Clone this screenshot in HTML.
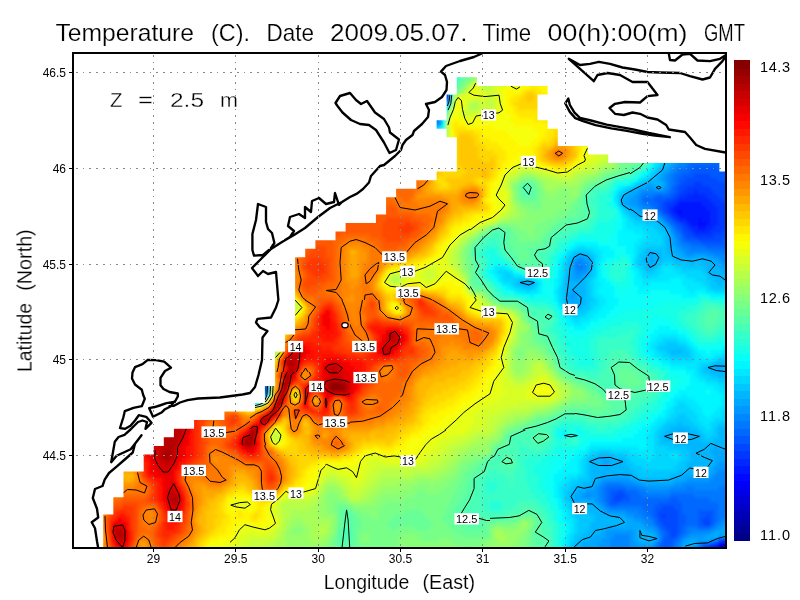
<!DOCTYPE html>
<html><head><meta charset="utf-8"><title>Temperature</title>
<style>
html,body{margin:0;padding:0;background:#fff;}
body{width:800px;height:600px;overflow:hidden;font-family:"Liberation Sans",sans-serif;}
svg{display:block}
text{font-family:"Liberation Sans",sans-serif;fill:#000}
</style></head><body>
<svg width="800" height="600" viewBox="0 0 800 600">
<rect width="800" height="600" fill="#fff"/>
<defs><clipPath id="sea"><path d="M103.2 548.0 L103.2 514.4 L113.3 514.4 L113.3 497.3 L123.5 497.3 L123.5 471.6 L143.7 471.6 L143.7 454.4 L153.8 454.4 L153.8 445.9 L163.8 445.9 L163.8 437.3 L173.9 437.3 L173.9 428.7 L194.1 428.7 L194.1 420.1 L224.4 420.1 L224.4 411.6 L254.8 411.6 L254.8 403.0 L264.9 403.0 L264.9 385.9 L274.9 385.9 L274.9 351.6 L285.0 351.6 L285.0 334.4 L295.1 334.4 L295.1 257.3 L305.2 257.3 L305.2 248.7 L315.4 248.7 L315.4 240.2 L335.5 240.2 L335.5 231.6 L345.6 231.6 L345.6 223.0 L375.9 223.0 L375.9 214.5 L386.1 214.5 L386.1 197.3 L396.1 197.3 L396.1 188.8 L416.3 188.8 L416.3 180.2 L436.6 180.2 L436.6 171.6 L456.8 171.6 L456.8 137.3 L446.6 137.3 L446.6 128.8 L436.6 128.8 L436.6 120.2 L446.6 120.2 L446.6 94.5 L456.8 94.5 L456.8 77.3 L476.9 77.3 L476.9 85.9 L547.6 85.9 L547.6 94.5 L537.5 94.5 L537.5 120.2 L547.6 120.2 L547.6 128.8 L557.8 128.8 L557.8 145.9 L588.0 145.9 L588.0 154.5 L608.2 154.5 L608.2 163.0 L719.4 163.0 L719.4 171.6 L728.0 171.6 L728.0 548.0Z"/></clipPath>
<clipPath id="o0"><rect x="73" y="400" width="177" height="45"/><rect x="73" y="445" width="157" height="103"/></clipPath><clipPath id="o1"><rect x="230" y="445" width="95" height="103"/></clipPath><clipPath id="o2"><rect x="350" y="300" width="50" height="145"/><rect x="73" y="300" width="177" height="100"/></clipPath><clipPath id="o3"><rect x="250" y="300" width="100" height="72"/></clipPath><clipPath id="o4"><rect x="250" y="372" width="100" height="73"/></clipPath><clipPath id="o5"><rect x="73" y="170" width="397" height="130"/><rect x="470" y="188" width="10" height="14"/></clipPath><clipPath id="o6"><rect x="325" y="445" width="75" height="103"/><rect x="400" y="430" width="90" height="118"/></clipPath><clipPath id="o7"><rect x="400" y="300" width="70" height="130"/><rect x="470" y="297" width="105" height="133"/></clipPath><clipPath id="o8"><rect x="73" y="52" width="397" height="118"/><rect x="470" y="52" width="258" height="108"/></clipPath><clipPath id="o9"><rect x="470" y="160" width="160" height="28"/><rect x="480" y="188" width="150" height="14"/><rect x="470" y="202" width="160" height="95"/></clipPath><clipPath id="o10"><rect x="490" y="430" width="238" height="118"/></clipPath><clipPath id="o11"><rect x="575" y="297" width="153" height="133"/></clipPath><clipPath id="o12"><rect x="630" y="160" width="98" height="137"/></clipPath><filter id="bl" x="-5%" y="-5%" width="110%" height="110%"><feGaussianBlur stdDeviation="1.6"/></filter>
<clipPath id="frame"><rect x="73" y="53" width="653" height="495"/></clipPath></defs>
<g clip-path="url(#frame)">
<g clip-path="url(#sea)"><g filter="url(#bl)">
<path fill="#000087" d="M254 386h12v4h-12zM254 390h8v4h-8z"/>
<path fill="#000097" d="M254 382h8v4h-8z"/>
<path fill="#0000a7" d="M218 330h4v4h-4zM250 386h4v4h-4zM262 390h4v4h-4z"/>
<path fill="#0000b7" d="M210 326h4v4h-4zM222 334h4v4h-4zM250 382h4v4h-4zM250 390h4v4h-4z"/>
<path fill="#0000c7" d="M214 326h4v4h-4zM222 330h4v4h-4zM226 334h4v4h-4zM262 382h4v4h-4zM258 394h4v4h-4z"/>
<path fill="#0000d7" d="M406 90h12v4h-12zM210 322h4v4h-4zM230 338h4v4h-4zM250 378h8v4h-8zM246 382h4v4h-4zM246 386h4v4h-4zM254 394h4v4h-4zM722 546h4v4h-4zM718 550h8v4h-8zM714 554h12v4h-12zM714 558h16v4h-16z"/>
<path fill="#0000e7" d="M334 46h36v4h-36zM338 50h40v4h-40zM342 54h40v4h-40zM350 58h40v4h-40zM354 62h40v4h-40zM358 66h44v4h-44zM362 70h44v4h-44zM370 74h44v4h-44zM374 78h44v4h-44zM378 82h44v4h-44zM382 86h48v4h-48zM390 90h16v4h-16zM418 90h16v4h-16zM394 94h48v4h-48zM402 98h32v4h-32zM406 102h16v4h-16zM214 322h4v4h-4zM218 326h4v4h-4zM242 370h8v4h-8zM242 374h4v4h-4zM250 374h4v4h-4zM246 378h4v4h-4zM722 542h4v4h-4zM706 546h4v4h-4zM718 546h4v4h-4zM706 550h12v4h-12zM726 550h4v4h-4zM710 554h4v4h-4zM726 554h8v4h-8zM710 558h4v4h-4zM730 558h8v4h-8z"/>
<path fill="#0000f7" d="M370 46h28v4h-28zM378 50h20v4h-20zM382 54h24v4h-24zM390 58h20v4h-20zM394 62h16v4h-16zM402 66h12v4h-12zM406 70h12v4h-12zM414 74h8v4h-8zM418 78h8v4h-8zM422 82h8v4h-8zM430 86h4v4h-4zM434 90h4v4h-4zM442 94h4v4h-4zM434 98h4v4h-4zM422 102h12v4h-12zM414 106h12v4h-12zM198 314h4v4h-4zM202 318h4v4h-4zM222 326h4v4h-4zM230 334h4v4h-4zM226 338h4v4h-4zM230 342h8v4h-8zM234 346h8v4h-8zM238 350h4v4h-4zM230 362h8v4h-8zM234 366h8v4h-8zM238 370h4v4h-4zM246 374h4v4h-4zM254 374h4v4h-4zM258 378h4v4h-4zM262 394h4v4h-4zM718 542h4v4h-4zM710 546h8v4h-8zM726 546h4v4h-4zM730 550h4v4h-4zM706 554h4v4h-4zM734 554h4v4h-4zM706 558h4v4h-4z"/>
<path fill="#0008ff" d="M398 46h8v4h-8zM398 50h12v4h-12zM406 54h4v4h-4zM410 58h4v4h-4zM410 62h8v4h-8zM414 66h8v4h-8zM418 70h4v4h-4zM422 74h4v4h-4zM426 78h4v4h-4zM430 82h4v4h-4zM434 86h4v4h-4zM438 90h4v4h-4zM446 94h4v4h-4zM438 98h4v4h-4zM434 102h4v4h-4zM426 106h4v4h-4zM418 110h8v4h-8zM678 210h4v4h-4zM698 218h4v4h-4zM698 222h8v4h-8zM190 306h4v4h-4zM194 310h4v4h-4zM202 314h4v4h-4zM206 318h4v4h-4zM218 322h4v4h-4zM226 330h4v4h-4zM234 338h4v4h-4zM242 354h4v4h-4zM230 358h4v4h-4zM238 362h4v4h-4zM246 362h8v4h-8zM242 366h8v4h-8zM250 370h4v4h-4zM250 394h4v4h-4zM726 542h4v4h-4zM730 546h4v4h-4zM734 550h4v4h-4zM702 554h4v4h-4zM702 558h4v4h-4z"/>
<path fill="#0018ff" d="M406 46h8v4h-8zM410 50h4v4h-4zM410 54h8v4h-8zM414 58h4v4h-4zM418 62h4v4h-4zM422 66h4v4h-4zM422 70h4v4h-4zM426 74h4v4h-4zM430 78h4v4h-4zM434 82h4v4h-4zM442 98h4v4h-4zM430 106h4v4h-4zM426 110h4v4h-4zM678 202h24v4h-24zM674 206h32v4h-32zM674 210h4v4h-4zM682 210h28v4h-28zM678 214h32v4h-32zM686 218h12v4h-12zM702 218h8v4h-8zM690 222h8v4h-8zM706 222h4v4h-4zM698 226h8v4h-8zM186 298h4v4h-4zM194 306h4v4h-4zM198 310h8v4h-8zM206 314h4v4h-4zM210 318h4v4h-4zM222 322h4v4h-4zM226 326h4v4h-4zM230 330h4v4h-4zM234 334h4v4h-4zM222 350h4v4h-4zM242 350h4v4h-4zM226 354h4v4h-4zM246 354h4v4h-4zM238 358h4v4h-4zM246 358h4v4h-4zM242 362h4v4h-4zM250 366h4v4h-4zM254 370h4v4h-4zM246 390h4v4h-4zM734 546h4v4h-4zM702 550h4v4h-4z"/>
<path fill="#0028ff" d="M414 46h4v4h-4zM414 50h8v4h-8zM418 54h4v4h-4zM418 58h8v4h-8zM422 62h4v4h-4zM426 66h4v4h-4zM426 70h4v4h-4zM430 74h4v4h-4zM370 78h4v4h-4zM374 82h4v4h-4zM438 86h4v4h-4zM382 90h8v4h-8zM442 90h4v4h-4zM390 94h4v4h-4zM394 98h8v4h-8zM398 102h8v4h-8zM438 102h4v4h-4zM406 106h8v4h-8zM430 110h4v4h-4zM422 114h8v4h-8zM694 190h4v4h-4zM686 194h20v4h-20zM678 198h32v4h-32zM674 202h4v4h-4zM702 202h12v4h-12zM670 206h4v4h-4zM706 206h12v4h-12zM670 210h4v4h-4zM710 210h8v4h-8zM674 214h4v4h-4zM710 214h8v4h-8zM678 218h8v4h-8zM710 218h8v4h-8zM686 222h4v4h-4zM710 222h8v4h-8zM690 226h8v4h-8zM706 226h8v4h-8zM694 230h16v4h-16zM190 298h4v4h-4zM190 302h8v4h-8zM198 306h8v4h-8zM206 310h4v4h-4zM210 314h4v4h-4zM206 326h4v4h-4zM238 334h4v4h-4zM238 338h4v4h-4zM238 342h4v4h-4zM242 346h4v4h-4zM226 350h4v4h-4zM230 354h8v4h-8zM234 358h4v4h-4zM250 358h4v4h-4zM254 366h4v4h-4zM258 374h4v4h-4zM730 542h8v4h-8zM702 546h4v4h-4zM698 554h4v4h-4zM698 558h4v4h-4z"/>
<path fill="#0038ff" d="M418 46h4v4h-4zM422 50h4v4h-4zM422 54h4v4h-4zM346 58h4v4h-4zM426 58h4v4h-4zM346 62h8v4h-8zM426 62h4v4h-4zM350 66h8v4h-8zM354 70h8v4h-8zM430 70h4v4h-4zM358 74h12v4h-12zM362 78h8v4h-8zM434 78h4v4h-4zM366 82h8v4h-8zM438 82h4v4h-4zM370 86h12v4h-12zM374 90h8v4h-8zM378 94h12v4h-12zM386 98h8v4h-8zM390 102h8v4h-8zM398 106h8v4h-8zM434 106h4v4h-4zM410 110h8v4h-8zM694 182h8v4h-8zM686 186h24v4h-24zM682 190h12v4h-12zM698 190h16v4h-16zM678 194h8v4h-8zM706 194h12v4h-12zM674 198h4v4h-4zM710 198h12v4h-12zM666 202h8v4h-8zM714 202h12v4h-12zM666 206h4v4h-4zM718 206h12v4h-12zM666 210h4v4h-4zM718 210h12v4h-12zM670 214h4v4h-4zM718 214h12v4h-12zM674 218h4v4h-4zM718 218h12v4h-12zM682 222h4v4h-4zM718 222h8v4h-8zM686 226h4v4h-4zM714 226h12v4h-12zM690 230h4v4h-4zM710 230h12v4h-12zM694 234h20v4h-20zM178 290h4v4h-4zM182 294h4v4h-4zM198 302h4v4h-4zM206 306h4v4h-4zM210 310h4v4h-4zM214 318h8v4h-8zM230 326h4v4h-4zM210 330h8v4h-8zM234 330h4v4h-4zM218 334h4v4h-4zM242 358h4v4h-4zM662 514h4v4h-4zM706 522h4v4h-4zM722 538h4v4h-4zM714 542h4v4h-4zM698 550h4v4h-4zM694 558h4v4h-4z"/>
<path fill="#0048ff" d="M422 46h4v4h-4zM426 50h4v4h-4zM426 54h4v4h-4zM430 62h4v4h-4zM430 66h4v4h-4zM434 70h4v4h-4zM434 74h4v4h-4zM362 82h4v4h-4zM366 86h4v4h-4zM442 86h4v4h-4zM370 90h4v4h-4zM382 98h4v4h-4zM386 102h4v4h-4zM394 106h4v4h-4zM406 110h4v4h-4zM434 110h4v4h-4zM418 114h4v4h-4zM430 114h4v4h-4zM694 174h16v4h-16zM686 178h32v4h-32zM682 182h12v4h-12zM702 182h24v4h-24zM678 186h8v4h-8zM710 186h24v4h-24zM678 190h4v4h-4zM714 190h24v4h-24zM674 194h4v4h-4zM718 194h20v4h-20zM666 198h8v4h-8zM722 198h16v4h-16zM662 202h4v4h-4zM726 202h12v4h-12zM662 206h4v4h-4zM730 206h8v4h-8zM662 210h4v4h-4zM730 210h8v4h-8zM730 214h8v4h-8zM730 218h8v4h-8zM678 222h4v4h-4zM726 222h12v4h-12zM682 226h4v4h-4zM726 226h8v4h-8zM682 230h8v4h-8zM722 230h12v4h-12zM686 234h8v4h-8zM714 234h12v4h-12zM698 238h24v4h-24zM174 286h4v4h-4zM214 314h4v4h-4zM226 322h4v4h-4zM242 338h4v4h-4zM218 342h12v4h-12zM242 342h4v4h-4zM222 346h4v4h-4zM230 350h8v4h-8zM246 350h4v4h-4zM238 354h4v4h-4zM254 362h4v4h-4zM258 370h4v4h-4zM262 378h4v4h-4zM242 382h4v4h-4zM618 490h4v4h-4zM614 494h12v4h-12zM614 498h8v4h-8zM662 506h12v4h-12zM658 510h20v4h-20zM658 514h4v4h-4zM666 514h12v4h-12zM706 514h4v4h-4zM658 518h20v4h-20zM702 518h8v4h-8zM662 522h16v4h-16zM702 522h4v4h-4zM666 526h12v4h-12zM670 530h8v4h-8zM670 534h8v4h-8zM718 538h4v4h-4zM726 538h12v4h-12zM710 542h4v4h-4zM694 554h4v4h-4z"/>
<path fill="#0058ff" d="M426 46h4v4h-4zM430 50h4v4h-4zM430 54h4v4h-4zM430 58h4v4h-4zM434 66h4v4h-4zM438 78h4v4h-4zM374 94h4v4h-4zM378 98h4v4h-4zM442 102h4v4h-4zM390 106h4v4h-4zM438 106h4v4h-4zM398 110h8v4h-8zM410 114h8v4h-8zM430 118h4v4h-4zM694 166h24v4h-24zM690 170h48v4h-48zM682 174h12v4h-12zM710 174h28v4h-28zM678 178h8v4h-8zM718 178h20v4h-20zM678 182h4v4h-4zM726 182h12v4h-12zM674 186h4v4h-4zM734 186h4v4h-4zM674 190h4v4h-4zM658 194h4v4h-4zM670 194h4v4h-4zM654 198h12v4h-12zM658 202h4v4h-4zM658 206h4v4h-4zM666 214h4v4h-4zM670 218h4v4h-4zM674 222h4v4h-4zM678 226h4v4h-4zM734 226h4v4h-4zM734 230h4v4h-4zM682 234h4v4h-4zM726 234h12v4h-12zM686 238h12v4h-12zM722 238h12v4h-12zM702 242h24v4h-24zM162 274h4v4h-4zM166 278h4v4h-4zM170 282h8v4h-8zM178 286h4v4h-4zM182 290h4v4h-4zM186 294h4v4h-4zM194 298h4v4h-4zM202 302h4v4h-4zM210 306h4v4h-4zM214 310h4v4h-4zM218 314h4v4h-4zM222 318h4v4h-4zM202 322h8v4h-8zM234 326h4v4h-4zM238 330h4v4h-4zM214 334h4v4h-4zM242 334h4v4h-4zM214 338h12v4h-12zM226 346h8v4h-8zM246 346h4v4h-4zM250 354h4v4h-4zM242 378h4v4h-4zM242 386h4v4h-4zM242 390h4v4h-4zM610 490h8v4h-8zM622 490h4v4h-4zM610 494h4v4h-4zM626 494h4v4h-4zM610 498h4v4h-4zM622 498h8v4h-8zM670 498h8v4h-8zM610 502h8v4h-8zM658 502h24v4h-24zM654 506h8v4h-8zM674 506h8v4h-8zM654 510h4v4h-4zM678 510h4v4h-4zM698 510h16v4h-16zM654 514h4v4h-4zM678 514h8v4h-8zM698 514h8v4h-8zM710 514h4v4h-4zM678 518h8v4h-8zM698 518h4v4h-4zM710 518h4v4h-4zM658 522h4v4h-4zM678 522h8v4h-8zM698 522h4v4h-4zM710 522h4v4h-4zM662 526h4v4h-4zM678 526h4v4h-4zM666 530h4v4h-4zM678 530h4v4h-4zM666 534h4v4h-4zM662 538h12v4h-12zM662 542h12v4h-12zM662 546h8v4h-8zM698 546h4v4h-4zM686 558h8v4h-8z"/>
<path fill="#0068ff" d="M326 46h8v4h-8zM430 46h4v4h-4zM330 50h8v4h-8zM334 54h8v4h-8zM434 54h4v4h-4zM338 58h8v4h-8zM434 58h4v4h-4zM338 62h8v4h-8zM434 62h4v4h-4zM342 66h8v4h-8zM346 70h8v4h-8zM438 70h4v4h-4zM350 74h8v4h-8zM438 74h4v4h-4zM354 78h8v4h-8zM358 82h4v4h-4zM442 82h4v4h-4zM362 86h4v4h-4zM446 98h4v4h-4zM406 114h4v4h-4zM434 114h4v4h-4zM418 118h12v4h-12zM434 118h4v4h-4zM726 154h12v4h-12zM698 158h40v4h-40zM690 162h48v4h-48zM686 166h8v4h-8zM718 166h20v4h-20zM678 170h12v4h-12zM674 174h8v4h-8zM674 178h4v4h-4zM674 182h4v4h-4zM670 186h4v4h-4zM670 190h4v4h-4zM654 194h4v4h-4zM662 194h8v4h-8zM642 198h12v4h-12zM650 202h8v4h-8zM654 206h4v4h-4zM658 210h4v4h-4zM662 214h4v4h-4zM666 218h4v4h-4zM670 222h4v4h-4zM674 226h4v4h-4zM678 230h4v4h-4zM682 238h4v4h-4zM734 238h4v4h-4zM690 242h12v4h-12zM726 242h12v4h-12zM706 246h28v4h-28zM150 262h4v4h-4zM154 266h4v4h-4zM158 270h8v4h-8zM170 278h4v4h-4zM182 286h4v4h-4zM186 290h4v4h-4zM190 294h8v4h-8zM198 298h4v4h-4zM222 314h4v4h-4zM226 318h4v4h-4zM230 322h4v4h-4zM210 334h4v4h-4zM246 338h4v4h-4zM250 350h4v4h-4zM238 374h4v4h-4zM238 386h4v4h-4zM246 394h4v4h-4zM254 398h8v4h-8zM606 486h20v4h-20zM606 490h4v4h-4zM626 490h12v4h-12zM606 494h4v4h-4zM630 494h12v4h-12zM670 494h24v4h-24zM606 498h4v4h-4zM630 498h40v4h-40zM678 498h32v4h-32zM606 502h4v4h-4zM618 502h40v4h-40zM682 502h36v4h-36zM642 506h12v4h-12zM682 506h36v4h-36zM646 510h8v4h-8zM682 510h16v4h-16zM714 510h4v4h-4zM650 514h4v4h-4zM686 514h12v4h-12zM714 514h4v4h-4zM654 518h4v4h-4zM686 518h12v4h-12zM714 518h4v4h-4zM654 522h4v4h-4zM686 522h12v4h-12zM658 526h4v4h-4zM682 526h4v4h-4zM698 526h12v4h-12zM662 530h4v4h-4zM682 530h4v4h-4zM662 534h4v4h-4zM678 534h4v4h-4zM734 534h4v4h-4zM674 538h4v4h-4zM658 542h4v4h-4zM702 542h8v4h-8zM658 546h4v4h-4zM670 546h4v4h-4zM658 550h16v4h-16zM694 550h4v4h-4zM658 554h20v4h-20zM690 554h4v4h-4zM658 558h28v4h-28z"/>
<path fill="#0078ff" d="M310 46h16v4h-16zM434 46h4v4h-4zM314 50h16v4h-16zM434 50h4v4h-4zM318 54h16v4h-16zM322 58h16v4h-16zM326 62h12v4h-12zM438 62h4v4h-4zM330 66h12v4h-12zM438 66h4v4h-4zM334 70h12v4h-12zM338 74h12v4h-12zM342 78h12v4h-12zM442 78h4v4h-4zM350 82h8v4h-8zM358 86h4v4h-4zM366 90h4v4h-4zM446 90h4v4h-4zM370 94h4v4h-4zM374 98h4v4h-4zM382 102h4v4h-4zM386 106h4v4h-4zM394 110h4v4h-4zM398 114h8v4h-8zM410 118h8v4h-8zM726 142h12v4h-12zM714 146h24v4h-24zM702 150h36v4h-36zM694 154h32v4h-32zM690 158h8v4h-8zM686 162h4v4h-4zM678 166h8v4h-8zM674 170h4v4h-4zM670 174h4v4h-4zM670 178h4v4h-4zM670 182h4v4h-4zM666 190h4v4h-4zM642 194h12v4h-12zM642 202h8v4h-8zM650 206h4v4h-4zM674 230h4v4h-4zM678 234h4v4h-4zM678 238h4v4h-4zM682 242h8v4h-8zM690 246h16v4h-16zM734 246h4v4h-4zM710 250h28v4h-28zM578 266h4v4h-4zM166 274h8v4h-8zM174 278h4v4h-4zM178 282h4v4h-4zM186 286h4v4h-4zM190 290h4v4h-4zM198 294h4v4h-4zM202 298h4v4h-4zM206 302h4v4h-4zM214 306h4v4h-4zM218 310h4v4h-4zM226 314h4v4h-4zM230 318h4v4h-4zM238 326h4v4h-4zM246 334h4v4h-4zM246 342h4v4h-4zM226 358h4v4h-4zM254 358h4v4h-4zM226 362h4v4h-4zM230 366h4v4h-4zM230 370h8v4h-8zM238 378h4v4h-4zM238 382h4v4h-4zM250 398h4v4h-4zM606 482h16v4h-16zM602 486h4v4h-4zM626 486h12v4h-12zM686 486h8v4h-8zM718 486h12v4h-12zM602 490h4v4h-4zM638 490h8v4h-8zM670 490h64v4h-64zM602 494h4v4h-4zM642 494h28v4h-28zM694 494h44v4h-44zM602 498h4v4h-4zM710 498h28v4h-28zM718 502h20v4h-20zM610 506h32v4h-32zM718 506h20v4h-20zM638 510h8v4h-8zM718 510h12v4h-12zM642 514h8v4h-8zM718 514h8v4h-8zM650 518h4v4h-4zM718 518h4v4h-4zM714 522h4v4h-4zM686 526h12v4h-12zM710 526h4v4h-4zM658 530h4v4h-4zM686 530h4v4h-4zM734 530h4v4h-4zM682 534h4v4h-4zM730 534h4v4h-4zM678 538h4v4h-4zM674 542h4v4h-4zM654 546h4v4h-4zM674 546h4v4h-4zM654 550h4v4h-4zM674 550h4v4h-4zM690 550h4v4h-4zM650 554h8v4h-8zM678 554h12v4h-12zM646 558h12v4h-12z"/>
<path fill="#0087ff" d="M290 46h20v4h-20zM438 46h4v4h-4zM294 50h20v4h-20zM438 50h4v4h-4zM302 54h16v4h-16zM438 54h4v4h-4zM306 58h16v4h-16zM438 58h4v4h-4zM310 62h4v4h-4zM318 62h8v4h-8zM314 66h16v4h-16zM322 70h12v4h-12zM326 74h12v4h-12zM442 74h4v4h-4zM330 78h12v4h-12zM338 82h12v4h-12zM346 86h12v4h-12zM350 90h16v4h-16zM362 94h8v4h-8zM370 98h4v4h-4zM378 102h4v4h-4zM390 110h4v4h-4zM438 110h4v4h-4zM406 118h4v4h-4zM418 122h20v4h-20zM730 130h8v4h-8zM722 134h16v4h-16zM714 138h24v4h-24zM706 142h20v4h-20zM698 146h16v4h-16zM694 150h8v4h-8zM686 154h8v4h-8zM682 158h8v4h-8zM678 162h8v4h-8zM674 166h4v4h-4zM670 170h4v4h-4zM666 174h4v4h-4zM666 178h4v4h-4zM666 182h4v4h-4zM666 186h4v4h-4zM642 190h24v4h-24zM638 194h4v4h-4zM638 198h4v4h-4zM638 202h4v4h-4zM642 206h8v4h-8zM654 210h4v4h-4zM658 214h4v4h-4zM662 218h4v4h-4zM666 222h4v4h-4zM670 226h4v4h-4zM674 234h4v4h-4zM678 242h4v4h-4zM682 246h8v4h-8zM686 250h24v4h-24zM714 254h24v4h-24zM578 258h4v4h-4zM722 258h16v4h-16zM574 262h12v4h-12zM574 266h4v4h-4zM582 266h4v4h-4zM578 270h4v4h-4zM182 282h4v4h-4zM194 290h4v4h-4zM206 298h4v4h-4zM210 302h4v4h-4zM222 310h4v4h-4zM234 322h4v4h-4zM242 330h4v4h-4zM250 346h4v4h-4zM254 354h4v4h-4zM222 358h4v4h-4zM258 366h4v4h-4zM234 374h4v4h-4zM262 374h4v4h-4zM266 386h4v4h-4zM718 470h12v4h-12zM714 474h24v4h-24zM710 478h28v4h-28zM602 482h4v4h-4zM622 482h12v4h-12zM682 482h56v4h-56zM598 486h4v4h-4zM638 486h8v4h-8zM670 486h16v4h-16zM694 486h24v4h-24zM730 486h8v4h-8zM598 490h4v4h-4zM646 490h24v4h-24zM734 490h4v4h-4zM586 494h4v4h-4zM598 494h4v4h-4zM598 498h4v4h-4zM602 502h4v4h-4zM606 506h4v4h-4zM626 510h12v4h-12zM730 510h8v4h-8zM634 514h8v4h-8zM726 514h12v4h-12zM642 518h8v4h-8zM722 518h16v4h-16zM646 522h8v4h-8zM718 522h4v4h-4zM734 522h4v4h-4zM654 526h4v4h-4zM714 526h4v4h-4zM734 526h4v4h-4zM690 530h20v4h-20zM730 530h4v4h-4zM614 534h16v4h-16zM658 534h4v4h-4zM686 534h4v4h-4zM610 538h20v4h-20zM658 538h4v4h-4zM714 538h4v4h-4zM610 542h20v4h-20zM654 542h4v4h-4zM678 542h4v4h-4zM698 542h4v4h-4zM610 546h20v4h-20zM678 546h4v4h-4zM694 546h4v4h-4zM610 550h4v4h-4zM622 550h4v4h-4zM650 550h4v4h-4zM678 550h12v4h-12zM630 554h20v4h-20zM630 558h16v4h-16z"/>
<path fill="#0097ff" d="M282 46h8v4h-8zM442 46h4v4h-4zM286 50h8v4h-8zM442 50h4v4h-4zM294 54h8v4h-8zM442 54h4v4h-4zM302 58h4v4h-4zM442 58h4v4h-4zM306 62h4v4h-4zM314 62h4v4h-4zM442 62h4v4h-4zM310 66h4v4h-4zM442 66h4v4h-4zM314 70h8v4h-8zM442 70h4v4h-4zM318 74h8v4h-8zM326 78h4v4h-4zM330 82h8v4h-8zM338 86h8v4h-8zM446 86h4v4h-4zM358 94h4v4h-4zM366 98h4v4h-4zM374 102h4v4h-4zM378 106h8v4h-8zM386 110h4v4h-4zM394 114h4v4h-4zM438 114h4v4h-4zM402 118h4v4h-4zM438 118h4v4h-4zM734 118h4v4h-4zM410 122h8v4h-8zM438 122h4v4h-4zM726 122h12v4h-12zM722 126h16v4h-16zM714 130h16v4h-16zM706 134h16v4h-16zM702 138h12v4h-12zM698 142h8v4h-8zM690 146h8v4h-8zM686 150h8v4h-8zM682 154h4v4h-4zM678 158h4v4h-4zM674 162h4v4h-4zM670 166h4v4h-4zM666 170h4v4h-4zM662 174h4v4h-4zM662 178h4v4h-4zM646 186h8v4h-8zM662 186h4v4h-4zM638 190h4v4h-4zM634 194h4v4h-4zM630 198h8v4h-8zM630 202h8v4h-8zM638 206h4v4h-4zM642 210h12v4h-12zM654 214h4v4h-4zM670 230h4v4h-4zM674 238h4v4h-4zM674 242h4v4h-4zM678 246h4v4h-4zM682 250h4v4h-4zM686 254h8v4h-8zM706 254h8v4h-8zM574 258h4v4h-4zM582 258h4v4h-4zM718 258h4v4h-4zM586 262h4v4h-4zM722 262h16v4h-16zM586 266h4v4h-4zM730 266h8v4h-8zM574 270h4v4h-4zM582 270h4v4h-4zM574 274h8v4h-8zM570 294h4v4h-4zM218 306h4v4h-4zM230 314h4v4h-4zM234 318h4v4h-4zM242 326h4v4h-4zM250 338h4v4h-4zM250 342h4v4h-4zM218 350h4v4h-4zM254 350h4v4h-4zM222 354h4v4h-4zM218 358h4v4h-4zM222 366h8v4h-8zM226 370h4v4h-4zM230 374h4v4h-4zM234 378h4v4h-4zM234 386h4v4h-4zM238 390h4v4h-4zM266 390h4v4h-4zM262 398h4v4h-4zM726 458h12v4h-12zM718 462h20v4h-20zM714 466h24v4h-24zM714 470h4v4h-4zM730 470h8v4h-8zM710 474h4v4h-4zM602 478h28v4h-28zM686 478h24v4h-24zM598 482h4v4h-4zM634 482h8v4h-8zM674 482h8v4h-8zM594 486h4v4h-4zM646 486h24v4h-24zM586 490h12v4h-12zM582 494h4v4h-4zM590 494h8v4h-8zM594 498h4v4h-4zM598 502h4v4h-4zM602 506h4v4h-4zM606 510h20v4h-20zM626 514h8v4h-8zM634 518h8v4h-8zM642 522h4v4h-4zM722 522h12v4h-12zM646 526h8v4h-8zM718 526h4v4h-4zM726 526h8v4h-8zM606 530h28v4h-28zM654 530h4v4h-4zM710 530h4v4h-4zM606 534h8v4h-8zM630 534h4v4h-4zM690 534h16v4h-16zM718 534h4v4h-4zM726 534h4v4h-4zM602 538h8v4h-8zM630 538h4v4h-4zM682 538h4v4h-4zM698 538h4v4h-4zM710 538h4v4h-4zM598 542h12v4h-12zM630 542h8v4h-8zM598 546h12v4h-12zM630 546h24v4h-24zM690 546h4v4h-4zM594 550h16v4h-16zM614 550h8v4h-8zM626 550h24v4h-24zM594 554h36v4h-36zM594 558h36v4h-36z"/>
<path fill="#00a7ff" d="M278 46h4v4h-4zM290 54h4v4h-4zM294 58h8v4h-8zM298 62h8v4h-8zM306 66h4v4h-4zM310 70h4v4h-4zM322 78h4v4h-4zM326 82h4v4h-4zM446 82h4v4h-4zM346 90h4v4h-4zM350 94h8v4h-8zM358 98h8v4h-8zM362 102h12v4h-12zM370 106h8v4h-8zM442 106h4v4h-4zM378 110h8v4h-8zM734 110h4v4h-4zM386 114h8v4h-8zM730 114h8v4h-8zM394 118h8v4h-8zM722 118h12v4h-12zM406 122h4v4h-4zM714 122h12v4h-12zM422 126h4v4h-4zM710 126h12v4h-12zM706 130h8v4h-8zM698 134h8v4h-8zM694 138h8v4h-8zM686 142h12v4h-12zM682 146h8v4h-8zM682 150h4v4h-4zM678 154h4v4h-4zM674 158h4v4h-4zM670 162h4v4h-4zM666 166h4v4h-4zM662 170h4v4h-4zM658 174h4v4h-4zM658 178h4v4h-4zM646 182h8v4h-8zM662 182h4v4h-4zM638 186h8v4h-8zM654 186h4v4h-4zM630 190h8v4h-8zM626 194h8v4h-8zM622 198h8v4h-8zM622 202h8v4h-8zM630 206h8v4h-8zM638 210h4v4h-4zM650 214h4v4h-4zM658 218h4v4h-4zM662 222h4v4h-4zM666 226h4v4h-4zM670 234h4v4h-4zM670 238h4v4h-4zM670 242h4v4h-4zM674 246h4v4h-4zM674 250h8v4h-8zM578 254h8v4h-8zM650 254h4v4h-4zM678 254h8v4h-8zM694 254h12v4h-12zM586 258h4v4h-4zM650 258h4v4h-4zM710 258h8v4h-8zM570 262h4v4h-4zM650 262h4v4h-4zM714 262h8v4h-8zM570 266h4v4h-4zM718 266h12v4h-12zM570 270h4v4h-4zM586 270h4v4h-4zM722 270h16v4h-16zM570 274h4v4h-4zM582 274h4v4h-4zM570 278h12v4h-12zM526 282h4v4h-4zM570 290h8v4h-8zM566 294h4v4h-4zM574 294h4v4h-4zM566 298h12v4h-12zM570 302h8v4h-8zM238 322h4v4h-4zM246 330h4v4h-4zM250 334h4v4h-4zM210 346h8v4h-8zM214 354h8v4h-8zM218 362h8v4h-8zM258 362h4v4h-4zM714 366h8v4h-8zM234 382h4v4h-4zM242 394h4v4h-4zM678 430h8v4h-8zM678 434h8v4h-8zM678 438h4v4h-4zM734 442h4v4h-4zM714 446h4v4h-4zM734 446h4v4h-4zM710 450h28v4h-28zM714 454h24v4h-24zM602 458h8v4h-8zM714 458h12v4h-12zM602 462h8v4h-8zM714 462h4v4h-4zM602 466h8v4h-8zM710 466h4v4h-4zM706 470h8v4h-8zM602 474h4v4h-4zM610 474h20v4h-20zM682 474h28v4h-28zM598 478h4v4h-4zM630 478h8v4h-8zM674 478h12v4h-12zM594 482h4v4h-4zM642 482h32v4h-32zM586 486h8v4h-8zM578 490h8v4h-8zM574 494h8v4h-8zM574 498h20v4h-20zM594 502h4v4h-4zM598 506h4v4h-4zM602 510h4v4h-4zM614 514h12v4h-12zM626 518h8v4h-8zM626 522h16v4h-16zM606 526h40v4h-40zM722 526h4v4h-4zM602 530h4v4h-4zM634 530h4v4h-4zM646 530h8v4h-8zM714 530h16v4h-16zM594 534h12v4h-12zM634 534h4v4h-4zM654 534h4v4h-4zM706 534h8v4h-8zM722 534h4v4h-4zM590 538h12v4h-12zM634 538h4v4h-4zM654 538h4v4h-4zM686 538h12v4h-12zM702 538h8v4h-8zM582 542h16v4h-16zM638 542h16v4h-16zM682 542h8v4h-8zM694 542h4v4h-4zM582 546h16v4h-16zM682 546h8v4h-8zM582 550h12v4h-12zM586 554h8v4h-8zM590 558h4v4h-4z"/>
<path fill="#00b7ff" d="M274 46h4v4h-4zM446 46h4v4h-4zM278 50h8v4h-8zM446 50h4v4h-4zM286 54h4v4h-4zM446 54h4v4h-4zM446 58h4v4h-4zM446 62h4v4h-4zM302 66h4v4h-4zM446 66h4v4h-4zM446 70h4v4h-4zM314 74h4v4h-4zM446 74h4v4h-4zM318 78h4v4h-4zM446 78h4v4h-4zM334 86h4v4h-4zM338 90h8v4h-8zM342 94h8v4h-8zM346 98h12v4h-12zM734 98h4v4h-4zM354 102h8v4h-8zM730 102h8v4h-8zM366 106h4v4h-4zM726 106h12v4h-12zM374 110h4v4h-4zM718 110h16v4h-16zM378 114h8v4h-8zM714 114h16v4h-16zM386 118h8v4h-8zM710 118h12v4h-12zM398 122h8v4h-8zM702 122h12v4h-12zM414 126h8v4h-8zM426 126h8v4h-8zM698 126h12v4h-12zM694 130h12v4h-12zM694 134h4v4h-4zM690 138h4v4h-4zM682 142h4v4h-4zM678 146h4v4h-4zM674 150h8v4h-8zM670 154h8v4h-8zM666 158h8v4h-8zM662 162h8v4h-8zM662 166h4v4h-4zM658 170h4v4h-4zM654 174h4v4h-4zM650 178h8v4h-8zM642 182h4v4h-4zM654 182h8v4h-8zM634 186h4v4h-4zM658 186h4v4h-4zM626 190h4v4h-4zM622 194h4v4h-4zM626 206h4v4h-4zM630 210h8v4h-8zM634 214h16v4h-16zM650 218h8v4h-8zM658 222h4v4h-4zM662 226h4v4h-4zM666 230h4v4h-4zM666 234h4v4h-4zM666 238h4v4h-4zM666 242h4v4h-4zM666 246h8v4h-8zM646 250h16v4h-16zM666 250h8v4h-8zM574 254h4v4h-4zM586 254h4v4h-4zM646 254h4v4h-4zM654 254h8v4h-8zM670 254h8v4h-8zM570 258h4v4h-4zM590 258h4v4h-4zM642 258h8v4h-8zM654 258h8v4h-8zM674 258h36v4h-36zM590 262h4v4h-4zM646 262h4v4h-4zM654 262h4v4h-4zM690 262h4v4h-4zM702 262h12v4h-12zM590 266h4v4h-4zM646 266h8v4h-8zM706 266h12v4h-12zM566 270h4v4h-4zM706 270h16v4h-16zM566 274h4v4h-4zM586 274h4v4h-4zM710 274h28v4h-28zM566 278h4v4h-4zM582 278h4v4h-4zM714 278h24v4h-24zM518 282h8v4h-8zM530 282h4v4h-4zM566 282h20v4h-20zM718 282h4v4h-4zM566 286h20v4h-20zM566 290h4v4h-4zM578 290h8v4h-8zM578 294h8v4h-8zM578 298h8v4h-8zM566 302h4v4h-4zM578 302h8v4h-8zM570 306h12v4h-12zM574 310h4v4h-4zM238 318h4v4h-4zM242 322h4v4h-4zM246 326h4v4h-4zM254 342h4v4h-4zM218 346h4v4h-4zM254 346h4v4h-4zM206 350h12v4h-12zM670 350h12v4h-12zM214 358h4v4h-4zM258 358h4v4h-4zM214 362h4v4h-4zM714 362h12v4h-12zM218 366h4v4h-4zM706 366h8v4h-8zM722 366h8v4h-8zM222 370h4v4h-4zM710 370h20v4h-20zM226 374h4v4h-4zM718 374h8v4h-8zM266 382h4v4h-4zM678 422h4v4h-4zM734 422h4v4h-4zM670 426h20v4h-20zM718 426h20v4h-20zM666 430h12v4h-12zM686 430h12v4h-12zM718 430h20v4h-20zM662 434h16v4h-16zM686 434h16v4h-16zM718 434h20v4h-20zM662 438h16v4h-16zM682 438h20v4h-20zM714 438h24v4h-24zM674 442h60v4h-60zM686 446h28v4h-28zM718 446h16v4h-16zM690 450h20v4h-20zM598 454h16v4h-16zM690 454h24v4h-24zM590 458h12v4h-12zM610 458h16v4h-16zM690 458h24v4h-24zM590 462h12v4h-12zM610 462h16v4h-16zM686 462h28v4h-28zM590 466h12v4h-12zM610 466h20v4h-20zM686 466h24v4h-24zM590 470h44v4h-44zM678 470h28v4h-28zM590 474h12v4h-12zM606 474h4v4h-4zM630 474h8v4h-8zM670 474h12v4h-12zM590 478h8v4h-8zM638 478h36v4h-36zM582 482h12v4h-12zM574 486h12v4h-12zM570 490h8v4h-8zM570 494h4v4h-4zM570 498h4v4h-4zM574 502h20v4h-20zM574 506h24v4h-24zM582 510h20v4h-20zM594 514h20v4h-20zM594 518h32v4h-32zM590 522h36v4h-36zM590 526h16v4h-16zM586 530h16v4h-16zM638 530h8v4h-8zM582 534h12v4h-12zM638 534h16v4h-16zM714 534h4v4h-4zM578 538h12v4h-12zM638 538h16v4h-16zM574 542h8v4h-8zM690 542h4v4h-4zM574 546h8v4h-8zM574 550h8v4h-8zM578 554h8v4h-8zM578 558h12v4h-12z"/>
<path fill="#00c7ff" d="M270 46h4v4h-4zM450 46h4v4h-4zM450 50h4v4h-4zM282 54h4v4h-4zM450 54h4v4h-4zM286 58h8v4h-8zM290 62h8v4h-8zM294 66h8v4h-8zM298 70h12v4h-12zM302 74h12v4h-12zM310 78h8v4h-8zM314 82h12v4h-12zM322 86h12v4h-12zM330 90h8v4h-8zM338 94h4v4h-4zM734 94h4v4h-4zM730 98h4v4h-4zM350 102h4v4h-4zM446 102h4v4h-4zM722 102h8v4h-8zM358 106h8v4h-8zM718 106h8v4h-8zM362 110h12v4h-12zM714 110h4v4h-4zM370 114h8v4h-8zM706 114h8v4h-8zM382 118h4v4h-4zM702 118h8v4h-8zM394 122h4v4h-4zM698 122h4v4h-4zM406 126h8v4h-8zM434 126h4v4h-4zM694 126h4v4h-4zM690 130h4v4h-4zM686 134h8v4h-8zM682 138h8v4h-8zM678 142h4v4h-4zM674 146h4v4h-4zM670 150h4v4h-4zM666 154h4v4h-4zM662 158h4v4h-4zM658 166h4v4h-4zM654 170h4v4h-4zM650 174h4v4h-4zM646 178h4v4h-4zM638 182h4v4h-4zM630 186h4v4h-4zM622 190h4v4h-4zM618 194h4v4h-4zM618 198h4v4h-4zM618 202h4v4h-4zM622 206h4v4h-4zM626 210h4v4h-4zM630 214h4v4h-4zM634 218h16v4h-16zM646 222h12v4h-12zM654 226h8v4h-8zM658 230h8v4h-8zM662 234h4v4h-4zM662 238h4v4h-4zM662 242h4v4h-4zM646 246h20v4h-20zM574 250h16v4h-16zM642 250h4v4h-4zM662 250h4v4h-4zM570 254h4v4h-4zM590 254h4v4h-4zM638 254h8v4h-8zM662 254h8v4h-8zM566 258h4v4h-4zM638 258h4v4h-4zM662 258h12v4h-12zM566 262h4v4h-4zM638 262h8v4h-8zM658 262h4v4h-4zM674 262h16v4h-16zM694 262h8v4h-8zM566 266h4v4h-4zM642 266h4v4h-4zM654 266h4v4h-4zM682 266h24v4h-24zM590 270h4v4h-4zM646 270h8v4h-8zM702 270h4v4h-4zM506 274h4v4h-4zM590 274h4v4h-4zM706 274h4v4h-4zM514 278h20v4h-20zM562 278h4v4h-4zM586 278h4v4h-4zM706 278h8v4h-8zM514 282h4v4h-4zM534 282h4v4h-4zM562 282h4v4h-4zM586 282h4v4h-4zM710 282h8v4h-8zM722 282h16v4h-16zM522 286h12v4h-12zM562 286h4v4h-4zM586 286h4v4h-4zM710 286h28v4h-28zM562 290h4v4h-4zM586 290h4v4h-4zM562 294h4v4h-4zM586 294h4v4h-4zM562 298h4v4h-4zM586 298h8v4h-8zM562 302h4v4h-4zM586 302h4v4h-4zM566 306h4v4h-4zM582 306h8v4h-8zM570 310h4v4h-4zM578 310h8v4h-8zM574 314h4v4h-4zM250 330h4v4h-4zM254 338h4v4h-4zM210 342h4v4h-4zM666 342h12v4h-12zM206 346h4v4h-4zM658 346h28v4h-28zM666 350h4v4h-4zM682 350h8v4h-8zM210 354h4v4h-4zM258 354h4v4h-4zM670 354h20v4h-20zM210 358h4v4h-4zM718 358h12v4h-12zM210 362h4v4h-4zM710 362h4v4h-4zM726 362h12v4h-12zM702 366h4v4h-4zM730 366h8v4h-8zM262 370h4v4h-4zM702 370h8v4h-8zM730 370h8v4h-8zM710 374h8v4h-8zM726 374h12v4h-12zM230 378h4v4h-4zM718 378h20v4h-20zM226 382h4v4h-4zM230 386h4v4h-4zM234 390h4v4h-4zM238 394h4v4h-4zM246 398h4v4h-4zM734 410h4v4h-4zM678 414h8v4h-8zM730 414h8v4h-8zM674 418h16v4h-16zM726 418h12v4h-12zM666 422h12v4h-12zM682 422h12v4h-12zM718 422h16v4h-16zM662 426h8v4h-8zM690 426h8v4h-8zM714 426h4v4h-4zM658 430h8v4h-8zM698 430h4v4h-4zM714 430h4v4h-4zM658 434h4v4h-4zM702 434h4v4h-4zM710 434h8v4h-8zM658 438h4v4h-4zM702 438h12v4h-12zM658 442h16v4h-16zM666 446h20v4h-20zM598 450h12v4h-12zM678 450h12v4h-12zM590 454h8v4h-8zM614 454h12v4h-12zM682 454h8v4h-8zM586 458h4v4h-4zM626 458h4v4h-4zM682 458h8v4h-8zM586 462h4v4h-4zM626 462h8v4h-8zM678 462h8v4h-8zM586 466h4v4h-4zM630 466h12v4h-12zM674 466h12v4h-12zM586 470h4v4h-4zM634 470h44v4h-44zM586 474h4v4h-4zM638 474h32v4h-32zM578 478h12v4h-12zM570 482h12v4h-12zM570 486h4v4h-4zM566 490h4v4h-4zM566 494h4v4h-4zM566 498h4v4h-4zM570 502h4v4h-4zM570 506h4v4h-4zM574 510h8v4h-8zM574 514h20v4h-20zM578 518h16v4h-16zM578 522h12v4h-12zM578 526h12v4h-12zM578 530h8v4h-8zM574 534h8v4h-8zM574 538h4v4h-4zM570 542h4v4h-4zM570 546h4v4h-4zM570 550h4v4h-4zM574 554h4v4h-4zM574 558h4v4h-4z"/>
<path fill="#00d7ff" d="M178 46h8v4h-8zM234 46h12v4h-12zM266 46h4v4h-4zM246 50h8v4h-8zM270 50h8v4h-8zM258 54h4v4h-4zM274 54h8v4h-8zM278 58h8v4h-8zM450 58h4v4h-4zM282 62h8v4h-8zM450 62h4v4h-4zM286 66h8v4h-8zM450 66h4v4h-4zM290 70h8v4h-8zM298 74h4v4h-4zM306 78h4v4h-4zM310 82h4v4h-4zM734 82h4v4h-4zM318 86h4v4h-4zM730 86h8v4h-8zM326 90h4v4h-4zM722 90h16v4h-16zM330 94h8v4h-8zM718 94h16v4h-16zM338 98h8v4h-8zM714 98h16v4h-16zM342 102h8v4h-8zM710 102h12v4h-12zM354 106h4v4h-4zM706 106h12v4h-12zM702 110h12v4h-12zM366 114h4v4h-4zM698 114h8v4h-8zM378 118h4v4h-4zM694 118h8v4h-8zM386 122h8v4h-8zM690 122h8v4h-8zM394 126h12v4h-12zM686 126h8v4h-8zM422 130h4v4h-4zM682 130h8v4h-8zM678 134h8v4h-8zM678 138h4v4h-4zM674 142h4v4h-4zM670 146h4v4h-4zM666 150h4v4h-4zM662 154h4v4h-4zM658 162h4v4h-4zM654 166h4v4h-4zM650 170h4v4h-4zM642 178h4v4h-4zM634 182h4v4h-4zM626 186h4v4h-4zM618 190h4v4h-4zM622 210h4v4h-4zM626 214h4v4h-4zM630 218h4v4h-4zM634 222h12v4h-12zM642 226h12v4h-12zM646 230h12v4h-12zM650 234h12v4h-12zM646 238h16v4h-16zM642 242h20v4h-20zM578 246h8v4h-8zM638 246h8v4h-8zM570 250h4v4h-4zM590 250h4v4h-4zM638 250h4v4h-4zM566 254h4v4h-4zM594 254h4v4h-4zM594 258h4v4h-4zM634 258h4v4h-4zM562 262h4v4h-4zM594 262h4v4h-4zM634 262h4v4h-4zM662 262h12v4h-12zM562 266h4v4h-4zM594 266h4v4h-4zM638 266h4v4h-4zM658 266h4v4h-4zM674 266h8v4h-8zM498 270h12v4h-12zM562 270h4v4h-4zM594 270h4v4h-4zM642 270h4v4h-4zM654 270h8v4h-8zM678 270h24v4h-24zM502 274h4v4h-4zM510 274h4v4h-4zM562 274h4v4h-4zM594 274h4v4h-4zM642 274h16v4h-16zM686 274h20v4h-20zM502 278h12v4h-12zM590 278h4v4h-4zM694 278h12v4h-12zM510 282h4v4h-4zM590 282h4v4h-4zM702 282h8v4h-8zM514 286h8v4h-8zM534 286h4v4h-4zM558 286h4v4h-4zM590 286h4v4h-4zM706 286h4v4h-4zM526 290h4v4h-4zM558 290h4v4h-4zM590 290h4v4h-4zM714 290h24v4h-24zM558 294h4v4h-4zM590 294h4v4h-4zM558 298h4v4h-4zM594 298h4v4h-4zM590 302h8v4h-8zM562 306h4v4h-4zM590 306h4v4h-4zM566 310h4v4h-4zM586 310h4v4h-4zM570 314h4v4h-4zM578 314h8v4h-8zM574 318h4v4h-4zM206 330h4v4h-4zM254 334h4v4h-4zM202 338h8v4h-8zM662 338h16v4h-16zM206 342h4v4h-4zM214 342h4v4h-4zM658 342h8v4h-8zM678 342h8v4h-8zM654 346h4v4h-4zM686 346h4v4h-4zM258 350h4v4h-4zM658 350h8v4h-8zM690 350h4v4h-4zM662 354h8v4h-8zM690 354h4v4h-4zM722 354h16v4h-16zM670 358h24v4h-24zM714 358h4v4h-4zM730 358h8v4h-8zM698 362h12v4h-12zM214 366h4v4h-4zM698 366h4v4h-4zM698 370h4v4h-4zM702 374h8v4h-8zM706 378h12v4h-12zM230 382h4v4h-4zM718 382h20v4h-20zM722 386h16v4h-16zM726 390h12v4h-12zM730 394h8v4h-8zM730 398h8v4h-8zM678 402h8v4h-8zM730 402h8v4h-8zM674 406h16v4h-16zM726 406h12v4h-12zM674 410h20v4h-20zM722 410h12v4h-12zM670 414h8v4h-8zM686 414h12v4h-12zM722 414h8v4h-8zM666 418h8v4h-8zM690 418h8v4h-8zM714 418h12v4h-12zM662 422h4v4h-4zM694 422h8v4h-8zM710 422h8v4h-8zM658 426h4v4h-4zM698 426h8v4h-8zM710 426h4v4h-4zM654 430h4v4h-4zM702 430h12v4h-12zM654 434h4v4h-4zM706 434h4v4h-4zM654 438h4v4h-4zM654 442h4v4h-4zM654 446h12v4h-12zM590 450h8v4h-8zM610 450h20v4h-20zM654 450h24v4h-24zM586 454h4v4h-4zM626 454h12v4h-12zM654 454h16v4h-16zM678 454h4v4h-4zM582 458h4v4h-4zM630 458h16v4h-16zM650 458h32v4h-32zM582 462h4v4h-4zM634 462h44v4h-44zM582 466h4v4h-4zM642 466h32v4h-32zM582 470h4v4h-4zM578 474h8v4h-8zM570 478h8v4h-8zM566 482h4v4h-4zM562 486h8v4h-8zM562 490h4v4h-4zM562 494h4v4h-4zM562 498h4v4h-4zM566 502h4v4h-4zM566 506h4v4h-4zM570 510h4v4h-4zM570 514h4v4h-4zM574 518h4v4h-4zM574 522h4v4h-4zM574 526h4v4h-4zM574 530h4v4h-4zM570 534h4v4h-4zM570 538h4v4h-4zM566 546h4v4h-4zM566 550h4v4h-4zM570 554h4v4h-4zM570 558h4v4h-4z"/>
<path fill="#00e7ff" d="M174 46h4v4h-4zM186 46h40v4h-40zM230 46h4v4h-4zM246 46h20v4h-20zM454 46h4v4h-4zM182 50h8v4h-8zM194 50h52v4h-52zM254 50h16v4h-16zM454 50h4v4h-4zM202 54h8v4h-8zM214 54h16v4h-16zM238 54h20v4h-20zM262 54h4v4h-4zM270 54h4v4h-4zM454 54h4v4h-4zM210 58h4v4h-4zM226 58h8v4h-8zM242 58h12v4h-12zM258 58h8v4h-8zM274 58h4v4h-4zM454 58h4v4h-4zM234 62h8v4h-8zM246 62h12v4h-12zM262 62h8v4h-8zM278 62h4v4h-4zM242 66h4v4h-4zM254 66h4v4h-4zM262 66h4v4h-4zM270 66h4v4h-4zM734 66h4v4h-4zM450 70h4v4h-4zM730 70h8v4h-8zM294 74h4v4h-4zM450 74h4v4h-4zM726 74h12v4h-12zM302 78h4v4h-4zM722 78h16v4h-16zM306 82h4v4h-4zM718 82h16v4h-16zM714 86h16v4h-16zM322 90h4v4h-4zM710 90h12v4h-12zM326 94h4v4h-4zM706 94h12v4h-12zM334 98h4v4h-4zM702 98h12v4h-12zM702 102h8v4h-8zM342 106h12v4h-12zM698 106h8v4h-8zM350 110h12v4h-12zM442 110h4v4h-4zM694 110h8v4h-8zM362 114h4v4h-4zM690 114h8v4h-8zM370 118h8v4h-8zM686 118h8v4h-8zM378 122h8v4h-8zM682 122h8v4h-8zM386 126h8v4h-8zM438 126h4v4h-4zM682 126h4v4h-4zM402 130h20v4h-20zM426 130h8v4h-8zM678 130h4v4h-4zM674 134h4v4h-4zM670 138h8v4h-8zM670 142h4v4h-4zM666 146h4v4h-4zM662 150h4v4h-4zM658 158h4v4h-4zM654 162h4v4h-4zM646 174h4v4h-4zM638 178h4v4h-4zM622 186h4v4h-4zM614 194h4v4h-4zM614 198h4v4h-4zM618 206h4v4h-4zM622 214h4v4h-4zM626 218h4v4h-4zM626 222h8v4h-8zM626 226h16v4h-16zM634 230h12v4h-12zM642 234h8v4h-8zM638 238h8v4h-8zM634 242h8v4h-8zM574 246h4v4h-4zM586 246h12v4h-12zM634 246h4v4h-4zM566 250h4v4h-4zM594 250h8v4h-8zM634 250h4v4h-4zM598 254h4v4h-4zM634 254h4v4h-4zM562 258h4v4h-4zM598 258h4v4h-4zM494 266h12v4h-12zM634 266h4v4h-4zM662 266h12v4h-12zM494 270h4v4h-4zM510 270h4v4h-4zM558 270h4v4h-4zM638 270h4v4h-4zM662 270h16v4h-16zM498 274h4v4h-4zM514 274h8v4h-8zM558 274h4v4h-4zM638 274h4v4h-4zM658 274h28v4h-28zM498 278h4v4h-4zM534 278h4v4h-4zM558 278h4v4h-4zM594 278h4v4h-4zM642 278h28v4h-28zM682 278h12v4h-12zM502 282h8v4h-8zM538 282h4v4h-4zM558 282h4v4h-4zM594 282h8v4h-8zM642 282h8v4h-8zM682 282h20v4h-20zM510 286h4v4h-4zM594 286h4v4h-4zM686 286h20v4h-20zM518 290h8v4h-8zM530 290h8v4h-8zM554 290h4v4h-4zM594 290h4v4h-4zM690 290h4v4h-4zM706 290h8v4h-8zM594 294h8v4h-8zM730 294h8v4h-8zM598 298h8v4h-8zM558 302h4v4h-4zM598 302h8v4h-8zM594 306h8v4h-8zM562 310h4v4h-4zM590 310h8v4h-8zM566 314h4v4h-4zM586 314h8v4h-8zM570 318h4v4h-4zM578 318h12v4h-12zM574 322h8v4h-8zM194 326h12v4h-12zM198 334h4v4h-4zM658 334h20v4h-20zM210 338h4v4h-4zM654 338h8v4h-8zM678 338h8v4h-8zM202 342h4v4h-4zM258 342h4v4h-4zM650 342h8v4h-8zM686 342h4v4h-4zM258 346h4v4h-4zM650 346h4v4h-4zM690 346h4v4h-4zM734 346h4v4h-4zM654 350h4v4h-4zM694 350h4v4h-4zM722 350h16v4h-16zM654 354h8v4h-8zM694 354h8v4h-8zM714 354h8v4h-8zM662 358h8v4h-8zM694 358h20v4h-20zM670 362h28v4h-28zM262 366h4v4h-4zM686 366h12v4h-12zM694 370h4v4h-4zM694 374h8v4h-8zM218 378h4v4h-4zM226 378h4v4h-4zM698 378h8v4h-8zM706 382h12v4h-12zM714 386h8v4h-8zM718 390h8v4h-8zM682 394h4v4h-4zM722 394h8v4h-8zM674 398h20v4h-20zM722 398h8v4h-8zM674 402h4v4h-4zM686 402h12v4h-12zM722 402h8v4h-8zM670 406h4v4h-4zM690 406h12v4h-12zM718 406h8v4h-8zM666 410h8v4h-8zM694 410h8v4h-8zM714 410h8v4h-8zM666 414h4v4h-4zM698 414h8v4h-8zM710 414h12v4h-12zM658 418h8v4h-8zM698 418h16v4h-16zM654 422h8v4h-8zM702 422h8v4h-8zM650 426h8v4h-8zM706 426h4v4h-4zM650 430h4v4h-4zM646 434h8v4h-8zM646 438h8v4h-8zM646 442h8v4h-8zM590 446h48v4h-48zM646 446h8v4h-8zM586 450h4v4h-4zM630 450h24v4h-24zM582 454h4v4h-4zM638 454h16v4h-16zM670 454h8v4h-8zM578 458h4v4h-4zM646 458h4v4h-4zM578 462h4v4h-4zM578 466h4v4h-4zM578 470h4v4h-4zM566 474h12v4h-12zM562 478h8v4h-8zM558 482h8v4h-8zM558 486h4v4h-4zM558 490h4v4h-4zM558 494h4v4h-4zM562 502h4v4h-4zM562 506h4v4h-4zM566 510h4v4h-4zM566 514h4v4h-4zM566 518h8v4h-8zM570 522h4v4h-4zM570 526h4v4h-4zM570 530h4v4h-4zM566 534h4v4h-4zM566 538h4v4h-4zM566 542h4v4h-4zM566 554h4v4h-4zM566 558h4v4h-4z"/>
<path fill="#00f7ff" d="M226 46h4v4h-4zM458 46h4v4h-4zM734 46h4v4h-4zM190 50h4v4h-4zM730 50h8v4h-8zM190 54h12v4h-12zM210 54h4v4h-4zM230 54h8v4h-8zM266 54h4v4h-4zM726 54h12v4h-12zM190 58h8v4h-8zM202 58h8v4h-8zM214 58h12v4h-12zM234 58h8v4h-8zM254 58h4v4h-4zM266 58h8v4h-8zM726 58h12v4h-12zM198 62h4v4h-4zM210 62h24v4h-24zM242 62h4v4h-4zM258 62h4v4h-4zM270 62h8v4h-8zM454 62h4v4h-4zM722 62h16v4h-16zM214 66h4v4h-4zM226 66h16v4h-16zM246 66h8v4h-8zM258 66h4v4h-4zM266 66h4v4h-4zM278 66h8v4h-8zM454 66h4v4h-4zM718 66h16v4h-16zM234 70h44v4h-44zM286 70h4v4h-4zM714 70h16v4h-16zM238 74h44v4h-44zM290 74h4v4h-4zM714 74h12v4h-12zM246 78h20v4h-20zM270 78h4v4h-4zM282 78h4v4h-4zM290 78h12v4h-12zM450 78h4v4h-4zM710 78h12v4h-12zM266 82h4v4h-4zM274 82h8v4h-8zM286 82h4v4h-4zM302 82h4v4h-4zM450 82h4v4h-4zM706 82h12v4h-12zM286 86h4v4h-4zM310 86h8v4h-8zM450 86h4v4h-4zM702 86h12v4h-12zM314 90h8v4h-8zM702 90h8v4h-8zM294 94h4v4h-4zM318 94h8v4h-8zM698 94h8v4h-8zM322 98h12v4h-12zM694 98h8v4h-8zM326 102h16v4h-16zM690 102h12v4h-12zM334 106h8v4h-8zM690 106h8v4h-8zM346 110h4v4h-4zM686 110h8v4h-8zM342 114h4v4h-4zM350 114h12v4h-12zM682 114h8v4h-8zM350 118h20v4h-20zM678 118h8v4h-8zM358 122h20v4h-20zM678 122h4v4h-4zM378 126h8v4h-8zM674 126h8v4h-8zM394 130h8v4h-8zM670 130h8v4h-8zM670 134h4v4h-4zM666 138h4v4h-4zM666 142h4v4h-4zM662 146h4v4h-4zM658 150h4v4h-4zM658 154h4v4h-4zM654 158h4v4h-4zM650 166h4v4h-4zM646 170h4v4h-4zM642 174h4v4h-4zM630 182h4v4h-4zM618 186h4v4h-4zM614 190h4v4h-4zM614 202h4v4h-4zM618 210h4v4h-4zM622 218h4v4h-4zM622 222h4v4h-4zM622 226h4v4h-4zM618 230h16v4h-16zM618 234h24v4h-24zM618 238h20v4h-20zM574 242h24v4h-24zM618 242h16v4h-16zM570 246h4v4h-4zM598 246h12v4h-12zM626 246h8v4h-8zM602 250h12v4h-12zM626 250h8v4h-8zM562 254h4v4h-4zM602 254h12v4h-12zM630 254h4v4h-4zM558 258h4v4h-4zM602 258h4v4h-4zM630 258h4v4h-4zM558 262h4v4h-4zM598 262h4v4h-4zM630 262h4v4h-4zM506 266h4v4h-4zM558 266h4v4h-4zM598 266h4v4h-4zM630 266h4v4h-4zM490 270h4v4h-4zM598 270h4v4h-4zM634 270h4v4h-4zM494 274h4v4h-4zM522 274h8v4h-8zM598 274h4v4h-4zM634 274h4v4h-4zM538 278h4v4h-4zM554 278h4v4h-4zM598 278h8v4h-8zM634 278h8v4h-8zM670 278h12v4h-12zM554 282h4v4h-4zM602 282h8v4h-8zM634 282h8v4h-8zM650 282h32v4h-32zM506 286h4v4h-4zM538 286h4v4h-4zM554 286h4v4h-4zM598 286h16v4h-16zM638 286h48v4h-48zM514 290h4v4h-4zM538 290h4v4h-4zM598 290h16v4h-16zM638 290h12v4h-12zM670 290h20v4h-20zM694 290h12v4h-12zM530 294h4v4h-4zM554 294h4v4h-4zM602 294h12v4h-12zM682 294h16v4h-16zM710 294h20v4h-20zM554 298h4v4h-4zM606 298h12v4h-12zM730 298h8v4h-8zM606 302h12v4h-12zM558 306h4v4h-4zM602 306h12v4h-12zM598 310h12v4h-12zM562 314h4v4h-4zM594 314h12v4h-12zM566 318h4v4h-4zM590 318h8v4h-8zM566 322h8v4h-8zM582 322h8v4h-8zM574 326h12v4h-12zM658 326h12v4h-12zM202 330h4v4h-4zM654 330h24v4h-24zM202 334h8v4h-8zM650 334h8v4h-8zM678 334h8v4h-8zM258 338h4v4h-4zM650 338h4v4h-4zM686 338h4v4h-4zM646 342h4v4h-4zM690 342h4v4h-4zM730 342h8v4h-8zM646 346h4v4h-4zM694 346h4v4h-4zM722 346h12v4h-12zM646 350h8v4h-8zM698 350h8v4h-8zM710 350h12v4h-12zM650 354h4v4h-4zM702 354h12v4h-12zM658 358h4v4h-4zM262 362h4v4h-4zM662 362h8v4h-8zM670 366h16v4h-16zM218 370h4v4h-4zM686 370h8v4h-8zM222 374h4v4h-4zM690 374h4v4h-4zM266 378h4v4h-4zM690 378h8v4h-8zM222 382h4v4h-4zM690 382h16v4h-16zM226 386h4v4h-4zM686 386h28v4h-28zM230 390h4v4h-4zM678 390h28v4h-28zM710 390h8v4h-8zM674 394h8v4h-8zM686 394h36v4h-36zM242 398h4v4h-4zM670 398h4v4h-4zM694 398h28v4h-28zM666 402h8v4h-8zM698 402h24v4h-24zM666 406h4v4h-4zM702 406h16v4h-16zM662 410h4v4h-4zM702 410h12v4h-12zM658 414h8v4h-8zM706 414h4v4h-4zM654 418h4v4h-4zM650 422h4v4h-4zM642 426h8v4h-8zM562 430h4v4h-4zM638 430h12v4h-12zM562 434h4v4h-4zM634 434h12v4h-12zM622 438h24v4h-24zM590 442h56v4h-56zM586 446h4v4h-4zM638 446h8v4h-8zM578 450h8v4h-8zM574 454h8v4h-8zM570 458h8v4h-8zM566 462h12v4h-12zM562 466h16v4h-16zM558 470h20v4h-20zM554 474h12v4h-12zM554 478h8v4h-8zM554 482h4v4h-4zM554 486h4v4h-4zM554 490h4v4h-4zM554 494h4v4h-4zM558 498h4v4h-4zM558 502h4v4h-4zM558 506h4v4h-4zM562 510h4v4h-4zM562 514h4v4h-4zM562 518h4v4h-4zM566 522h4v4h-4zM566 526h4v4h-4zM566 530h4v4h-4zM562 538h4v4h-4zM562 542h4v4h-4zM562 546h4v4h-4zM562 550h4v4h-4zM562 554h4v4h-4zM562 558h4v4h-4z"/>
<path fill="#08fff7" d="M462 46h4v4h-4zM730 46h4v4h-4zM178 50h4v4h-4zM458 50h4v4h-4zM726 50h4v4h-4zM186 54h4v4h-4zM458 54h4v4h-4zM722 54h4v4h-4zM198 58h4v4h-4zM458 58h4v4h-4zM718 58h8v4h-8zM202 62h8v4h-8zM718 62h4v4h-4zM186 66h4v4h-4zM218 66h8v4h-8zM274 66h4v4h-4zM714 66h4v4h-4zM222 70h12v4h-12zM278 70h8v4h-8zM454 70h4v4h-4zM710 70h4v4h-4zM230 74h8v4h-8zM282 74h8v4h-8zM706 74h8v4h-8zM238 78h8v4h-8zM266 78h4v4h-4zM274 78h8v4h-8zM286 78h4v4h-4zM706 78h4v4h-4zM254 82h12v4h-12zM270 82h4v4h-4zM282 82h4v4h-4zM290 82h12v4h-12zM702 82h4v4h-4zM258 86h28v4h-28zM290 86h20v4h-20zM698 86h4v4h-4zM262 90h52v4h-52zM694 90h8v4h-8zM274 94h4v4h-4zM286 94h8v4h-8zM298 94h12v4h-12zM314 94h4v4h-4zM690 94h8v4h-8zM298 98h4v4h-4zM310 98h12v4h-12zM690 98h4v4h-4zM314 102h12v4h-12zM686 102h4v4h-4zM318 106h16v4h-16zM682 106h8v4h-8zM322 110h4v4h-4zM330 110h16v4h-16zM678 110h8v4h-8zM330 114h12v4h-12zM346 114h4v4h-4zM442 114h4v4h-4zM674 114h8v4h-8zM342 118h8v4h-8zM442 118h4v4h-4zM674 118h4v4h-4zM342 122h4v4h-4zM442 122h4v4h-4zM670 122h8v4h-8zM362 126h16v4h-16zM670 126h4v4h-4zM382 130h12v4h-12zM434 130h4v4h-4zM666 130h4v4h-4zM406 134h20v4h-20zM666 134h4v4h-4zM662 138h4v4h-4zM662 142h4v4h-4zM658 146h4v4h-4zM654 154h4v4h-4zM650 162h4v4h-4zM638 174h4v4h-4zM634 178h4v4h-4zM618 182h12v4h-12zM614 186h4v4h-4zM610 198h4v4h-4zM614 206h4v4h-4zM618 214h4v4h-4zM618 218h4v4h-4zM614 222h8v4h-8zM614 226h8v4h-8zM614 230h4v4h-4zM610 234h8v4h-8zM578 238h20v4h-20zM610 238h8v4h-8zM570 242h4v4h-4zM598 242h20v4h-20zM566 246h4v4h-4zM610 246h16v4h-16zM562 250h4v4h-4zM614 250h12v4h-12zM558 254h4v4h-4zM614 254h4v4h-4zM626 254h4v4h-4zM606 258h8v4h-8zM494 262h12v4h-12zM554 262h4v4h-4zM602 262h4v4h-4zM490 266h4v4h-4zM554 266h4v4h-4zM486 270h4v4h-4zM514 270h4v4h-4zM554 270h4v4h-4zM602 270h4v4h-4zM630 270h4v4h-4zM490 274h4v4h-4zM530 274h4v4h-4zM554 274h4v4h-4zM602 274h4v4h-4zM630 274h4v4h-4zM494 278h4v4h-4zM542 278h4v4h-4zM550 278h4v4h-4zM606 278h4v4h-4zM630 278h4v4h-4zM498 282h4v4h-4zM542 282h12v4h-12zM610 282h4v4h-4zM630 282h4v4h-4zM502 286h4v4h-4zM542 286h12v4h-12zM614 286h4v4h-4zM626 286h12v4h-12zM506 290h8v4h-8zM542 290h12v4h-12zM614 290h24v4h-24zM650 290h20v4h-20zM522 294h8v4h-8zM534 294h20v4h-20zM614 294h68v4h-68zM702 294h8v4h-8zM550 298h4v4h-4zM618 298h76v4h-76zM722 298h8v4h-8zM554 302h4v4h-4zM618 302h44v4h-44zM730 302h8v4h-8zM614 306h40v4h-40zM734 306h4v4h-4zM558 310h4v4h-4zM610 310h16v4h-16zM606 314h12v4h-12zM654 314h4v4h-4zM190 318h4v4h-4zM562 318h4v4h-4zM598 318h12v4h-12zM650 318h20v4h-20zM194 322h8v4h-8zM562 322h4v4h-4zM590 322h12v4h-12zM650 322h24v4h-24zM566 326h8v4h-8zM586 326h8v4h-8zM646 326h12v4h-12zM670 326h8v4h-8zM198 330h4v4h-4zM570 330h20v4h-20zM646 330h8v4h-8zM678 330h8v4h-8zM574 334h8v4h-8zM646 334h4v4h-4zM686 334h4v4h-4zM734 334h4v4h-4zM642 338h8v4h-8zM690 338h4v4h-4zM730 338h8v4h-8zM642 342h4v4h-4zM694 342h4v4h-4zM718 342h12v4h-12zM642 346h4v4h-4zM698 346h24v4h-24zM262 350h4v4h-4zM642 350h4v4h-4zM706 350h4v4h-4zM262 354h4v4h-4zM646 354h4v4h-4zM262 358h4v4h-4zM650 358h8v4h-8zM658 362h4v4h-4zM666 366h4v4h-4zM214 370h4v4h-4zM670 370h16v4h-16zM674 374h16v4h-16zM222 378h4v4h-4zM682 378h8v4h-8zM218 382h4v4h-4zM678 382h12v4h-12zM222 386h4v4h-4zM674 386h12v4h-12zM670 390h8v4h-8zM706 390h4v4h-4zM234 394h4v4h-4zM266 394h4v4h-4zM666 394h8v4h-8zM666 398h4v4h-4zM254 402h4v4h-4zM662 402h4v4h-4zM662 406h4v4h-4zM658 410h4v4h-4zM650 414h8v4h-8zM646 418h8v4h-8zM638 422h12v4h-12zM634 426h8v4h-8zM558 430h4v4h-4zM574 430h8v4h-8zM626 430h12v4h-12zM558 434h4v4h-4zM570 434h4v4h-4zM578 434h4v4h-4zM618 434h16v4h-16zM586 438h36v4h-36zM582 442h8v4h-8zM578 446h8v4h-8zM558 450h20v4h-20zM558 454h16v4h-16zM554 458h16v4h-16zM550 462h16v4h-16zM550 466h12v4h-12zM546 470h12v4h-12zM546 474h8v4h-8zM546 478h8v4h-8zM546 482h8v4h-8zM546 486h8v4h-8zM550 490h4v4h-4zM550 494h4v4h-4zM554 498h4v4h-4zM554 502h4v4h-4zM558 510h4v4h-4zM558 514h4v4h-4zM558 518h4v4h-4zM562 522h4v4h-4zM562 526h4v4h-4zM562 530h4v4h-4zM562 534h4v4h-4zM558 546h4v4h-4zM558 550h4v4h-4zM558 554h4v4h-4zM558 558h4v4h-4z"/>
<path fill="#18ffe7" d="M166 46h8v4h-8zM466 46h4v4h-4zM714 46h16v4h-16zM170 50h8v4h-8zM462 50h4v4h-4zM710 50h16v4h-16zM178 54h8v4h-8zM462 54h4v4h-4zM706 54h16v4h-16zM182 58h8v4h-8zM706 58h12v4h-12zM194 62h4v4h-4zM458 62h4v4h-4zM702 62h16v4h-16zM206 66h8v4h-8zM702 66h12v4h-12zM190 70h8v4h-8zM218 70h4v4h-4zM698 70h12v4h-12zM202 74h4v4h-4zM226 74h4v4h-4zM454 74h4v4h-4zM694 74h12v4h-12zM210 78h4v4h-4zM234 78h4v4h-4zM694 78h12v4h-12zM242 82h12v4h-12zM690 82h12v4h-12zM250 86h8v4h-8zM686 86h12v4h-12zM450 90h4v4h-4zM686 90h8v4h-8zM266 94h8v4h-8zM278 94h8v4h-8zM310 94h4v4h-4zM682 94h8v4h-8zM274 98h24v4h-24zM302 98h8v4h-8zM682 98h8v4h-8zM282 102h12v4h-12zM302 102h12v4h-12zM678 102h8v4h-8zM310 106h8v4h-8zM446 106h4v4h-4zM678 106h4v4h-4zM318 110h4v4h-4zM326 110h4v4h-4zM674 110h4v4h-4zM326 114h4v4h-4zM338 118h4v4h-4zM670 118h4v4h-4zM346 122h12v4h-12zM666 122h4v4h-4zM346 126h4v4h-4zM354 126h8v4h-8zM662 126h8v4h-8zM366 130h16v4h-16zM662 130h4v4h-4zM386 134h20v4h-20zM426 134h4v4h-4zM658 134h8v4h-8zM658 138h4v4h-4zM658 142h4v4h-4zM654 146h4v4h-4zM654 150h4v4h-4zM650 158h4v4h-4zM646 166h4v4h-4zM642 170h4v4h-4zM630 178h4v4h-4zM614 182h4v4h-4zM610 190h4v4h-4zM610 194h4v4h-4zM606 202h8v4h-8zM610 206h4v4h-4zM614 214h4v4h-4zM610 218h8v4h-8zM598 222h16v4h-16zM594 226h20v4h-20zM594 230h20v4h-20zM578 234h32v4h-32zM570 238h8v4h-8zM598 238h12v4h-12zM566 242h4v4h-4zM562 246h4v4h-4zM486 250h8v4h-8zM558 250h4v4h-4zM490 254h8v4h-8zM554 254h4v4h-4zM618 254h8v4h-8zM490 258h12v4h-12zM554 258h4v4h-4zM614 258h8v4h-8zM626 258h4v4h-4zM490 262h4v4h-4zM506 262h4v4h-4zM606 262h8v4h-8zM486 266h4v4h-4zM510 266h4v4h-4zM550 266h4v4h-4zM602 266h8v4h-8zM626 266h4v4h-4zM518 270h4v4h-4zM550 270h4v4h-4zM606 270h4v4h-4zM626 270h4v4h-4zM486 274h4v4h-4zM534 274h4v4h-4zM546 274h8v4h-8zM606 274h4v4h-4zM626 274h4v4h-4zM490 278h4v4h-4zM546 278h4v4h-4zM610 278h4v4h-4zM622 278h8v4h-8zM494 282h4v4h-4zM614 282h16v4h-16zM498 286h4v4h-4zM618 286h8v4h-8zM502 290h4v4h-4zM514 294h8v4h-8zM698 294h4v4h-4zM526 298h24v4h-24zM694 298h8v4h-8zM710 298h12v4h-12zM546 302h8v4h-8zM662 302h36v4h-36zM726 302h4v4h-4zM554 306h4v4h-4zM654 306h32v4h-32zM730 306h4v4h-4zM626 310h52v4h-52zM734 310h4v4h-4zM558 314h4v4h-4zM618 314h36v4h-36zM658 314h20v4h-20zM734 314h4v4h-4zM194 318h8v4h-8zM558 318h4v4h-4zM610 318h40v4h-40zM670 318h8v4h-8zM734 318h4v4h-4zM558 322h4v4h-4zM602 322h20v4h-20zM638 322h12v4h-12zM674 322h8v4h-8zM734 322h4v4h-4zM562 326h4v4h-4zM594 326h16v4h-16zM642 326h4v4h-4zM678 326h8v4h-8zM734 326h4v4h-4zM562 330h8v4h-8zM590 330h12v4h-12zM642 330h4v4h-4zM686 330h4v4h-4zM730 330h8v4h-8zM562 334h12v4h-12zM582 334h12v4h-12zM638 334h8v4h-8zM690 334h4v4h-4zM726 334h8v4h-8zM262 338h4v4h-4zM566 338h24v4h-24zM638 338h4v4h-4zM694 338h4v4h-4zM718 338h12v4h-12zM262 342h4v4h-4zM566 342h24v4h-24zM638 342h4v4h-4zM698 342h20v4h-20zM262 346h4v4h-4zM570 346h20v4h-20zM638 346h4v4h-4zM202 350h4v4h-4zM570 350h20v4h-20zM638 350h4v4h-4zM202 354h8v4h-8zM574 354h16v4h-16zM642 354h4v4h-4zM206 358h4v4h-4zM578 358h16v4h-16zM646 358h4v4h-4zM578 362h16v4h-16zM650 362h8v4h-8zM658 366h8v4h-8zM666 370h4v4h-4zM218 374h4v4h-4zM666 374h8v4h-8zM670 378h12v4h-12zM670 382h8v4h-8zM218 386h4v4h-4zM666 386h8v4h-8zM226 390h4v4h-4zM666 390h4v4h-4zM662 394h4v4h-4zM658 398h8v4h-8zM658 402h4v4h-4zM654 406h8v4h-8zM646 410h12v4h-12zM642 414h8v4h-8zM638 418h8v4h-8zM630 422h8v4h-8zM558 426h12v4h-12zM574 426h8v4h-8zM622 426h12v4h-12zM554 430h4v4h-4zM566 430h4v4h-4zM582 430h8v4h-8zM614 430h12v4h-12zM554 434h4v4h-4zM566 434h4v4h-4zM574 434h4v4h-4zM582 434h36v4h-36zM558 438h4v4h-4zM582 438h4v4h-4zM558 442h4v4h-4zM578 442h4v4h-4zM554 446h24v4h-24zM554 450h4v4h-4zM546 454h12v4h-12zM542 458h12v4h-12zM538 462h12v4h-12zM534 466h16v4h-16zM534 470h12v4h-12zM538 474h8v4h-8zM538 478h8v4h-8zM538 482h8v4h-8zM538 486h8v4h-8zM542 490h8v4h-8zM546 494h4v4h-4zM546 498h8v4h-8zM494 502h4v4h-4zM550 502h4v4h-4zM550 506h8v4h-8zM554 510h4v4h-4zM554 514h4v4h-4zM554 518h4v4h-4zM558 522h4v4h-4zM558 526h4v4h-4zM558 530h4v4h-4zM558 534h4v4h-4zM558 538h4v4h-4zM558 542h4v4h-4zM554 550h4v4h-4zM554 554h4v4h-4zM554 558h4v4h-4z"/>
<path fill="#28ffd7" d="M150 46h4v4h-4zM162 46h4v4h-4zM470 46h4v4h-4zM698 46h16v4h-16zM166 50h4v4h-4zM466 50h4v4h-4zM698 50h12v4h-12zM166 54h4v4h-4zM466 54h4v4h-4zM694 54h12v4h-12zM462 58h4v4h-4zM694 58h12v4h-12zM462 62h4v4h-4zM690 62h12v4h-12zM198 66h8v4h-8zM458 66h4v4h-4zM690 66h12v4h-12zM214 70h4v4h-4zM458 70h4v4h-4zM690 70h8v4h-8zM686 74h8v4h-8zM454 78h4v4h-4zM686 78h8v4h-8zM218 82h4v4h-4zM234 82h8v4h-8zM682 82h8v4h-8zM246 86h4v4h-4zM678 86h8v4h-8zM254 90h8v4h-8zM678 90h8v4h-8zM258 94h8v4h-8zM674 94h8v4h-8zM262 98h12v4h-12zM674 98h8v4h-8zM274 102h8v4h-8zM294 102h8v4h-8zM674 102h4v4h-4zM286 106h8v4h-8zM298 106h12v4h-12zM670 106h8v4h-8zM314 110h4v4h-4zM670 110h4v4h-4zM318 114h8v4h-8zM666 114h8v4h-8zM326 118h12v4h-12zM666 118h4v4h-4zM334 122h8v4h-8zM662 122h4v4h-4zM342 126h4v4h-4zM350 126h4v4h-4zM658 126h4v4h-4zM346 130h8v4h-8zM358 130h8v4h-8zM438 130h4v4h-4zM658 130h4v4h-4zM358 134h4v4h-4zM370 134h16v4h-16zM430 134h4v4h-4zM410 138h4v4h-4zM654 138h4v4h-4zM654 142h4v4h-4zM650 150h4v4h-4zM650 154h4v4h-4zM638 170h4v4h-4zM634 174h4v4h-4zM622 178h8v4h-8zM610 186h4v4h-4zM606 190h4v4h-4zM598 194h12v4h-12zM598 198h12v4h-12zM598 202h8v4h-8zM598 206h12v4h-12zM598 210h20v4h-20zM598 214h16v4h-16zM594 218h16v4h-16zM594 222h4v4h-4zM590 226h4v4h-4zM578 230h16v4h-16zM574 234h4v4h-4zM566 238h4v4h-4zM558 242h8v4h-8zM486 246h12v4h-12zM558 246h4v4h-4zM482 250h4v4h-4zM494 250h4v4h-4zM554 250h4v4h-4zM482 254h8v4h-8zM498 254h4v4h-4zM550 254h4v4h-4zM486 258h4v4h-4zM502 258h4v4h-4zM550 258h4v4h-4zM622 258h4v4h-4zM486 262h4v4h-4zM550 262h4v4h-4zM614 262h16v4h-16zM610 266h16v4h-16zM482 270h4v4h-4zM522 270h8v4h-8zM546 270h4v4h-4zM610 270h16v4h-16zM482 274h4v4h-4zM538 274h8v4h-8zM610 274h16v4h-16zM486 278h4v4h-4zM614 278h8v4h-8zM490 282h4v4h-4zM494 286h4v4h-4zM498 290h4v4h-4zM502 294h12v4h-12zM522 298h4v4h-4zM702 298h8v4h-8zM530 302h16v4h-16zM698 302h4v4h-4zM718 302h8v4h-8zM550 306h4v4h-4zM686 306h12v4h-12zM726 306h4v4h-4zM554 310h4v4h-4zM678 310h16v4h-16zM730 310h4v4h-4zM554 314h4v4h-4zM678 314h8v4h-8zM730 314h4v4h-4zM678 318h8v4h-8zM730 318h4v4h-4zM554 322h4v4h-4zM622 322h16v4h-16zM682 322h8v4h-8zM730 322h4v4h-4zM554 326h8v4h-8zM610 326h32v4h-32zM686 326h8v4h-8zM726 326h8v4h-8zM554 330h8v4h-8zM602 330h28v4h-28zM634 330h8v4h-8zM690 330h8v4h-8zM722 330h8v4h-8zM558 334h4v4h-4zM594 334h24v4h-24zM634 334h4v4h-4zM694 334h8v4h-8zM714 334h12v4h-12zM558 338h8v4h-8zM590 338h8v4h-8zM630 338h8v4h-8zM698 338h20v4h-20zM198 342h4v4h-4zM562 342h4v4h-4zM590 342h8v4h-8zM630 342h8v4h-8zM562 346h8v4h-8zM590 346h8v4h-8zM634 346h4v4h-4zM562 350h8v4h-8zM590 350h8v4h-8zM634 350h4v4h-4zM566 354h8v4h-8zM590 354h8v4h-8zM634 354h8v4h-8zM202 358h4v4h-4zM566 358h12v4h-12zM594 358h4v4h-4zM638 358h8v4h-8zM570 362h8v4h-8zM594 362h4v4h-4zM646 362h4v4h-4zM574 366h24v4h-24zM650 366h8v4h-8zM586 370h4v4h-4zM658 370h8v4h-8zM266 374h4v4h-4zM662 374h4v4h-4zM662 378h8v4h-8zM662 382h8v4h-8zM662 386h4v4h-4zM222 390h4v4h-4zM658 390h8v4h-8zM658 394h4v4h-4zM238 398h4v4h-4zM654 398h4v4h-4zM250 402h4v4h-4zM646 402h12v4h-12zM642 406h12v4h-12zM638 410h8v4h-8zM634 414h8v4h-8zM630 418h8v4h-8zM562 422h24v4h-24zM622 422h8v4h-8zM554 426h4v4h-4zM570 426h4v4h-4zM582 426h16v4h-16zM606 426h16v4h-16zM570 430h4v4h-4zM590 430h24v4h-24zM554 438h4v4h-4zM562 438h8v4h-8zM578 438h4v4h-4zM554 442h4v4h-4zM562 442h16v4h-16zM550 446h4v4h-4zM546 450h8v4h-8zM530 454h16v4h-16zM526 458h16v4h-16zM522 462h16v4h-16zM526 466h8v4h-8zM526 470h8v4h-8zM526 474h12v4h-12zM526 478h12v4h-12zM486 482h12v4h-12zM526 482h12v4h-12zM486 486h12v4h-12zM530 486h8v4h-8zM490 490h4v4h-4zM530 490h12v4h-12zM534 494h12v4h-12zM538 498h8v4h-8zM490 502h4v4h-4zM498 502h4v4h-4zM542 502h8v4h-8zM490 506h12v4h-12zM546 506h4v4h-4zM546 510h8v4h-8zM550 514h4v4h-4zM550 518h4v4h-4zM554 522h4v4h-4zM554 526h4v4h-4zM554 530h4v4h-4zM554 534h4v4h-4zM554 538h4v4h-4zM554 542h4v4h-4zM554 546h4v4h-4zM550 554h4v4h-4zM550 558h4v4h-4z"/>
<path fill="#38ffc7" d="M146 46h4v4h-4zM474 46h4v4h-4zM690 46h8v4h-8zM154 50h8v4h-8zM470 50h4v4h-4zM686 50h12v4h-12zM170 54h8v4h-8zM470 54h4v4h-4zM686 54h8v4h-8zM170 58h4v4h-4zM178 58h4v4h-4zM466 58h4v4h-4zM682 58h12v4h-12zM178 62h16v4h-16zM466 62h4v4h-4zM682 62h8v4h-8zM182 66h4v4h-4zM190 66h8v4h-8zM462 66h4v4h-4zM682 66h8v4h-8zM198 70h4v4h-4zM206 70h4v4h-4zM678 70h12v4h-12zM194 74h8v4h-8zM458 74h4v4h-4zM678 74h8v4h-8zM206 78h4v4h-4zM674 78h12v4h-12zM214 82h4v4h-4zM454 82h4v4h-4zM674 82h8v4h-8zM242 86h4v4h-4zM674 86h4v4h-4zM246 90h8v4h-8zM670 90h8v4h-8zM254 94h4v4h-4zM670 94h4v4h-4zM666 98h8v4h-8zM258 102h8v4h-8zM270 102h4v4h-4zM666 102h8v4h-8zM262 106h8v4h-8zM274 106h12v4h-12zM294 106h4v4h-4zM662 106h8v4h-8zM274 110h12v4h-12zM294 110h20v4h-20zM662 110h8v4h-8zM282 114h4v4h-4zM306 114h12v4h-12zM658 114h8v4h-8zM294 118h8v4h-8zM318 118h8v4h-8zM658 118h8v4h-8zM330 122h4v4h-4zM658 122h4v4h-4zM330 126h12v4h-12zM442 126h4v4h-4zM654 126h4v4h-4zM342 130h4v4h-4zM354 130h4v4h-4zM654 130h4v4h-4zM350 134h8v4h-8zM362 134h8v4h-8zM434 134h4v4h-4zM654 134h4v4h-4zM362 138h4v4h-4zM374 138h36v4h-36zM414 138h12v4h-12zM650 138h4v4h-4zM650 142h4v4h-4zM650 146h4v4h-4zM646 154h4v4h-4zM646 158h4v4h-4zM646 162h4v4h-4zM642 166h4v4h-4zM634 170h4v4h-4zM630 174h4v4h-4zM614 178h8v4h-8zM610 182h4v4h-4zM606 186h4v4h-4zM594 190h12v4h-12zM594 194h4v4h-4zM590 198h8v4h-8zM590 202h8v4h-8zM594 206h4v4h-4zM594 210h4v4h-4zM594 214h4v4h-4zM590 218h4v4h-4zM586 222h8v4h-8zM578 226h12v4h-12zM570 230h8v4h-8zM562 234h12v4h-12zM490 238h8v4h-8zM558 238h8v4h-8zM486 242h12v4h-12zM554 242h4v4h-4zM482 246h4v4h-4zM498 246h4v4h-4zM554 246h4v4h-4zM478 250h4v4h-4zM498 250h4v4h-4zM550 250h4v4h-4zM478 254h4v4h-4zM502 254h4v4h-4zM546 254h4v4h-4zM482 258h4v4h-4zM506 258h4v4h-4zM546 258h4v4h-4zM482 262h4v4h-4zM510 262h4v4h-4zM546 262h4v4h-4zM482 266h4v4h-4zM514 266h4v4h-4zM546 266h4v4h-4zM530 270h4v4h-4zM542 270h4v4h-4zM494 290h4v4h-4zM498 294h4v4h-4zM518 298h4v4h-4zM526 302h4v4h-4zM702 302h16v4h-16zM534 306h16v4h-16zM698 306h8v4h-8zM722 306h4v4h-4zM186 310h8v4h-8zM550 310h4v4h-4zM694 310h8v4h-8zM726 310h4v4h-4zM190 314h8v4h-8zM686 314h12v4h-12zM726 314h4v4h-4zM554 318h4v4h-4zM686 318h12v4h-12zM726 318h4v4h-4zM190 322h4v4h-4zM550 322h4v4h-4zM690 322h8v4h-8zM722 322h8v4h-8zM546 326h8v4h-8zM694 326h8v4h-8zM718 326h8v4h-8zM550 330h4v4h-4zM630 330h4v4h-4zM698 330h8v4h-8zM714 330h8v4h-8zM554 334h4v4h-4zM618 334h16v4h-16zM702 334h12v4h-12zM554 338h4v4h-4zM598 338h32v4h-32zM554 342h8v4h-8zM598 342h32v4h-32zM198 346h8v4h-8zM558 346h4v4h-4zM598 346h36v4h-36zM198 350h4v4h-4zM558 350h4v4h-4zM598 350h12v4h-12zM626 350h8v4h-8zM562 354h4v4h-4zM598 354h12v4h-12zM630 354h4v4h-4zM562 358h4v4h-4zM598 358h8v4h-8zM634 358h4v4h-4zM562 362h8v4h-8zM598 362h8v4h-8zM638 362h8v4h-8zM566 366h8v4h-8zM598 366h8v4h-8zM646 366h4v4h-4zM574 370h12v4h-12zM590 370h12v4h-12zM650 370h8v4h-8zM214 374h4v4h-4zM590 374h8v4h-8zM654 374h8v4h-8zM214 378h4v4h-4zM658 378h4v4h-4zM658 382h4v4h-4zM654 386h8v4h-8zM654 390h4v4h-4zM230 394h4v4h-4zM650 394h8v4h-8zM642 398h12v4h-12zM258 402h4v4h-4zM638 402h8v4h-8zM634 406h8v4h-8zM630 410h8v4h-8zM626 414h8v4h-8zM562 418h24v4h-24zM618 418h12v4h-12zM554 422h8v4h-8zM586 422h36v4h-36zM550 426h4v4h-4zM598 426h8v4h-8zM550 430h4v4h-4zM550 434h4v4h-4zM550 438h4v4h-4zM570 438h8v4h-8zM518 442h4v4h-4zM546 442h8v4h-8zM518 446h12v4h-12zM542 446h8v4h-8zM518 450h28v4h-28zM518 454h12v4h-12zM518 458h8v4h-8zM518 462h4v4h-4zM518 466h8v4h-8zM490 470h8v4h-8zM514 470h12v4h-12zM486 474h20v4h-20zM514 474h12v4h-12zM482 478h44v4h-44zM482 482h4v4h-4zM498 482h12v4h-12zM514 482h12v4h-12zM482 486h4v4h-4zM498 486h32v4h-32zM482 490h8v4h-8zM494 490h36v4h-36zM482 494h52v4h-52zM482 498h56v4h-56zM482 502h8v4h-8zM502 502h16v4h-16zM534 502h8v4h-8zM482 506h8v4h-8zM502 506h12v4h-12zM538 506h8v4h-8zM486 510h20v4h-20zM542 510h4v4h-4zM546 514h4v4h-4zM546 518h4v4h-4zM546 522h8v4h-8zM550 526h4v4h-4zM550 530h4v4h-4zM550 534h4v4h-4zM550 538h4v4h-4zM550 542h4v4h-4zM550 546h4v4h-4zM546 550h8v4h-8zM546 554h4v4h-4zM542 558h8v4h-8z"/>
<path fill="#48ffb7" d="M478 46h4v4h-4zM674 46h4v4h-4zM682 46h8v4h-8zM474 50h8v4h-8zM674 50h12v4h-12zM474 54h4v4h-4zM678 54h8v4h-8zM174 58h4v4h-4zM470 58h4v4h-4zM670 58h12v4h-12zM470 62h4v4h-4zM666 62h16v4h-16zM466 66h4v4h-4zM666 66h16v4h-16zM202 70h4v4h-4zM210 70h4v4h-4zM462 70h4v4h-4zM658 70h20v4h-20zM206 74h20v4h-20zM662 74h16v4h-16zM214 78h4v4h-4zM222 78h12v4h-12zM658 78h16v4h-16zM658 82h16v4h-16zM222 86h4v4h-4zM230 86h12v4h-12zM454 86h4v4h-4zM658 86h16v4h-16zM238 90h8v4h-8zM658 90h12v4h-12zM246 94h4v4h-4zM450 94h4v4h-4zM654 94h16v4h-16zM450 98h4v4h-4zM654 98h12v4h-12zM266 102h4v4h-4zM654 102h12v4h-12zM258 106h4v4h-4zM654 106h8v4h-8zM266 110h8v4h-8zM286 110h8v4h-8zM654 110h8v4h-8zM274 114h4v4h-4zM294 114h12v4h-12zM654 114h4v4h-4zM290 118h4v4h-4zM306 118h12v4h-12zM654 118h4v4h-4zM302 122h4v4h-4zM322 122h8v4h-8zM650 122h8v4h-8zM310 126h8v4h-8zM650 126h4v4h-4zM338 130h4v4h-4zM650 130h4v4h-4zM650 134h4v4h-4zM354 138h8v4h-8zM366 138h8v4h-8zM426 138h4v4h-4zM646 138h4v4h-4zM370 142h8v4h-8zM394 142h12v4h-12zM646 142h4v4h-4zM646 146h4v4h-4zM646 150h4v4h-4zM638 166h4v4h-4zM630 170h4v4h-4zM622 174h8v4h-8zM610 178h4v4h-4zM526 182h4v4h-4zM606 182h4v4h-4zM522 186h8v4h-8zM594 186h12v4h-12zM526 190h4v4h-4zM590 190h4v4h-4zM586 194h8v4h-8zM586 198h4v4h-4zM586 202h4v4h-4zM586 206h8v4h-8zM590 210h4v4h-4zM590 214h4v4h-4zM586 218h4v4h-4zM574 222h12v4h-12zM566 226h12v4h-12zM494 230h8v4h-8zM558 230h12v4h-12zM490 234h16v4h-16zM554 234h8v4h-8zM482 238h8v4h-8zM498 238h8v4h-8zM550 238h8v4h-8zM478 242h8v4h-8zM498 242h4v4h-4zM550 242h4v4h-4zM474 246h8v4h-8zM502 246h4v4h-4zM546 246h8v4h-8zM474 250h4v4h-4zM502 250h4v4h-4zM538 250h12v4h-12zM474 254h4v4h-4zM506 254h4v4h-4zM538 254h8v4h-8zM474 258h8v4h-8zM510 258h4v4h-4zM542 258h4v4h-4zM478 262h4v4h-4zM514 262h4v4h-4zM542 262h4v4h-4zM478 266h4v4h-4zM518 266h4v4h-4zM542 266h4v4h-4zM478 270h4v4h-4zM534 270h8v4h-8zM478 274h4v4h-4zM482 278h4v4h-4zM486 282h4v4h-4zM490 286h4v4h-4zM494 294h4v4h-4zM498 298h20v4h-20zM522 302h4v4h-4zM182 306h8v4h-8zM526 306h8v4h-8zM706 306h16v4h-16zM530 310h20v4h-20zM702 310h8v4h-8zM718 310h8v4h-8zM530 314h24v4h-24zM698 314h8v4h-8zM718 314h8v4h-8zM538 318h16v4h-16zM698 318h8v4h-8zM718 318h8v4h-8zM186 322h4v4h-4zM542 322h8v4h-8zM698 322h8v4h-8zM714 322h8v4h-8zM542 326h4v4h-4zM702 326h16v4h-16zM542 330h8v4h-8zM706 330h8v4h-8zM546 334h8v4h-8zM194 338h8v4h-8zM550 338h4v4h-4zM550 342h4v4h-4zM266 346h4v4h-4zM554 346h4v4h-4zM266 350h4v4h-4zM554 350h4v4h-4zM610 350h16v4h-16zM198 354h4v4h-4zM266 354h4v4h-4zM558 354h4v4h-4zM610 354h20v4h-20zM558 358h4v4h-4zM606 358h28v4h-28zM206 362h4v4h-4zM558 362h4v4h-4zM606 362h8v4h-8zM634 362h4v4h-4zM562 366h4v4h-4zM606 366h4v4h-4zM638 366h8v4h-8zM206 370h4v4h-4zM266 370h4v4h-4zM566 370h8v4h-8zM602 370h8v4h-8zM642 370h8v4h-8zM210 374h4v4h-4zM574 374h16v4h-16zM598 374h16v4h-16zM650 374h4v4h-4zM586 378h28v4h-28zM650 378h8v4h-8zM214 382h4v4h-4zM598 382h16v4h-16zM650 382h8v4h-8zM602 386h12v4h-12zM650 386h4v4h-4zM642 390h12v4h-12zM226 394h4v4h-4zM634 394h16v4h-16zM630 398h12v4h-12zM626 402h12v4h-12zM626 406h8v4h-8zM622 410h8v4h-8zM562 414h28v4h-28zM614 414h12v4h-12zM554 418h8v4h-8zM586 418h32v4h-32zM546 422h8v4h-8zM538 426h12v4h-12zM522 430h16v4h-16zM542 430h8v4h-8zM514 434h20v4h-20zM510 438h24v4h-24zM546 438h4v4h-4zM510 442h8v4h-8zM522 442h24v4h-24zM506 446h12v4h-12zM530 446h12v4h-12zM498 450h20v4h-20zM494 454h8v4h-8zM510 454h8v4h-8zM490 458h12v4h-12zM514 458h4v4h-4zM486 462h16v4h-16zM514 462h4v4h-4zM486 466h32v4h-32zM486 470h4v4h-4zM498 470h16v4h-16zM478 474h8v4h-8zM506 474h8v4h-8zM474 478h8v4h-8zM474 482h8v4h-8zM510 482h4v4h-4zM474 486h8v4h-8zM474 490h8v4h-8zM474 494h8v4h-8zM470 498h12v4h-12zM470 502h12v4h-12zM518 502h16v4h-16zM466 506h16v4h-16zM514 506h24v4h-24zM466 510h20v4h-20zM506 510h16v4h-16zM534 510h8v4h-8zM466 514h44v4h-44zM538 514h8v4h-8zM542 518h4v4h-4zM542 522h4v4h-4zM346 526h4v4h-4zM542 526h8v4h-8zM342 530h8v4h-8zM542 530h8v4h-8zM342 534h8v4h-8zM542 534h8v4h-8zM546 542h4v4h-4zM542 546h8v4h-8zM542 550h4v4h-4zM538 554h8v4h-8zM538 558h4v4h-4z"/>
<path fill="#58ffa7" d="M154 46h8v4h-8zM482 46h4v4h-4zM650 46h4v4h-4zM658 46h16v4h-16zM678 46h4v4h-4zM162 50h4v4h-4zM482 50h4v4h-4zM654 50h20v4h-20zM478 54h4v4h-4zM658 54h20v4h-20zM474 58h8v4h-8zM654 58h16v4h-16zM474 62h4v4h-4zM654 62h12v4h-12zM470 66h4v4h-4zM654 66h12v4h-12zM466 70h4v4h-4zM462 74h4v4h-4zM654 74h8v4h-8zM218 78h4v4h-4zM458 78h4v4h-4zM654 78h4v4h-4zM222 82h12v4h-12zM650 82h8v4h-8zM650 86h8v4h-8zM230 90h4v4h-4zM650 90h8v4h-8zM238 94h8v4h-8zM250 94h4v4h-4zM650 94h4v4h-4zM246 98h16v4h-16zM650 98h4v4h-4zM254 102h4v4h-4zM646 102h8v4h-8zM270 106h4v4h-4zM646 106h8v4h-8zM646 110h8v4h-8zM278 114h4v4h-4zM286 114h8v4h-8zM646 114h8v4h-8zM302 118h4v4h-4zM646 118h8v4h-8zM298 122h4v4h-4zM306 122h16v4h-16zM646 122h4v4h-4zM306 126h4v4h-4zM322 126h8v4h-8zM646 126h4v4h-4zM322 130h4v4h-4zM334 130h4v4h-4zM646 130h4v4h-4zM338 134h12v4h-12zM646 134h4v4h-4zM346 138h4v4h-4zM430 138h4v4h-4zM366 142h4v4h-4zM378 142h16v4h-16zM406 142h16v4h-16zM642 142h4v4h-4zM642 146h4v4h-4zM642 150h4v4h-4zM642 154h4v4h-4zM642 158h4v4h-4zM638 162h8v4h-8zM630 166h8v4h-8zM626 170h4v4h-4zM614 174h8v4h-8zM602 178h8v4h-8zM522 182h4v4h-4zM530 182h4v4h-4zM598 182h8v4h-8zM530 186h4v4h-4zM590 186h4v4h-4zM522 190h4v4h-4zM530 190h4v4h-4zM586 190h4v4h-4zM522 194h12v4h-12zM582 194h4v4h-4zM582 198h4v4h-4zM582 202h4v4h-4zM582 206h4v4h-4zM578 210h12v4h-12zM578 214h12v4h-12zM566 218h20v4h-20zM562 222h12v4h-12zM498 226h4v4h-4zM554 226h12v4h-12zM490 230h4v4h-4zM502 230h8v4h-8zM550 230h8v4h-8zM482 234h8v4h-8zM506 234h4v4h-4zM546 234h8v4h-8zM478 238h4v4h-4zM506 238h4v4h-4zM546 238h4v4h-4zM474 242h4v4h-4zM502 242h8v4h-8zM542 242h8v4h-8zM506 246h8v4h-8zM534 246h12v4h-12zM470 250h4v4h-4zM506 250h8v4h-8zM530 250h8v4h-8zM470 254h4v4h-4zM510 254h8v4h-8zM530 254h8v4h-8zM514 258h4v4h-4zM530 258h12v4h-12zM474 262h4v4h-4zM518 262h24v4h-24zM474 266h4v4h-4zM522 266h20v4h-20zM474 270h4v4h-4zM474 274h4v4h-4zM474 278h8v4h-8zM470 282h16v4h-16zM482 286h8v4h-8zM490 290h4v4h-4zM490 294h4v4h-4zM494 298h4v4h-4zM182 302h8v4h-8zM518 302h4v4h-4zM522 306h4v4h-4zM526 310h4v4h-4zM710 310h8v4h-8zM182 314h4v4h-4zM526 314h4v4h-4zM706 314h12v4h-12zM186 318h4v4h-4zM530 318h8v4h-8zM706 318h12v4h-12zM182 322h4v4h-4zM534 322h8v4h-8zM706 322h8v4h-8zM534 326h8v4h-8zM186 330h12v4h-12zM538 330h4v4h-4zM190 334h8v4h-8zM538 334h8v4h-8zM542 338h8v4h-8zM194 342h4v4h-4zM546 342h4v4h-4zM194 346h4v4h-4zM550 346h4v4h-4zM550 350h4v4h-4zM554 354h4v4h-4zM266 358h4v4h-4zM554 358h4v4h-4zM614 362h20v4h-20zM210 366h4v4h-4zM266 366h4v4h-4zM558 366h4v4h-4zM610 366h12v4h-12zM626 366h12v4h-12zM562 370h4v4h-4zM610 370h8v4h-8zM634 370h8v4h-8zM206 374h4v4h-4zM570 374h4v4h-4zM614 374h4v4h-4zM638 374h12v4h-12zM210 378h4v4h-4zM578 378h8v4h-8zM614 378h4v4h-4zM642 378h8v4h-8zM586 382h12v4h-12zM614 382h8v4h-8zM642 382h8v4h-8zM594 386h8v4h-8zM614 386h16v4h-16zM634 386h16v4h-16zM598 390h44v4h-44zM602 394h32v4h-32zM234 398h4v4h-4zM606 398h24v4h-24zM246 402h4v4h-4zM610 402h16v4h-16zM610 406h16v4h-16zM562 410h28v4h-28zM602 410h20v4h-20zM554 414h8v4h-8zM590 414h24v4h-24zM546 418h8v4h-8zM534 422h12v4h-12zM522 426h16v4h-16zM514 430h8v4h-8zM538 430h4v4h-4zM506 434h8v4h-8zM534 434h16v4h-16zM506 438h4v4h-4zM534 438h12v4h-12zM506 442h4v4h-4zM498 446h8v4h-8zM494 450h4v4h-4zM490 454h4v4h-4zM502 454h8v4h-8zM486 458h4v4h-4zM502 458h12v4h-12zM482 462h4v4h-4zM502 462h12v4h-12zM478 466h8v4h-8zM474 470h12v4h-12zM470 474h8v4h-8zM470 478h4v4h-4zM466 482h8v4h-8zM466 486h8v4h-8zM466 490h8v4h-8zM462 494h12v4h-12zM462 498h8v4h-8zM458 502h12v4h-12zM454 506h12v4h-12zM342 510h8v4h-8zM454 510h12v4h-12zM522 510h12v4h-12zM342 514h12v4h-12zM454 514h12v4h-12zM510 514h12v4h-12zM534 514h4v4h-4zM342 518h12v4h-12zM454 518h56v4h-56zM538 518h4v4h-4zM342 522h12v4h-12zM458 522h28v4h-28zM538 522h4v4h-4zM342 526h4v4h-4zM350 526h4v4h-4zM466 526h20v4h-20zM534 526h8v4h-8zM338 530h4v4h-4zM350 530h4v4h-4zM534 530h8v4h-8zM338 534h4v4h-4zM350 534h4v4h-4zM534 534h8v4h-8zM338 538h16v4h-16zM534 538h16v4h-16zM338 542h16v4h-16zM534 542h12v4h-12zM338 546h16v4h-16zM534 546h8v4h-8zM338 550h16v4h-16zM534 550h8v4h-8zM342 554h12v4h-12zM530 554h8v4h-8zM346 558h4v4h-4zM530 558h8v4h-8z"/>
<path fill="#68ff97" d="M486 46h8v4h-8zM642 46h8v4h-8zM654 46h4v4h-4zM486 50h4v4h-4zM642 50h12v4h-12zM482 54h4v4h-4zM646 54h12v4h-12zM642 58h12v4h-12zM478 62h4v4h-4zM642 62h12v4h-12zM474 66h4v4h-4zM646 66h8v4h-8zM470 70h4v4h-4zM646 70h12v4h-12zM466 74h4v4h-4zM646 74h8v4h-8zM462 78h4v4h-4zM646 78h8v4h-8zM458 82h4v4h-4zM646 86h4v4h-4zM646 90h4v4h-4zM646 94h4v4h-4zM242 98h4v4h-4zM642 98h8v4h-8zM250 102h4v4h-4zM642 102h4v4h-4zM642 106h4v4h-4zM446 110h4v4h-4zM642 114h4v4h-4zM642 118h4v4h-4zM642 122h4v4h-4zM318 126h4v4h-4zM642 126h4v4h-4zM314 130h8v4h-8zM326 130h8v4h-8zM642 130h4v4h-4zM330 134h8v4h-8zM438 134h4v4h-4zM642 134h4v4h-4zM342 138h4v4h-4zM350 138h4v4h-4zM434 138h4v4h-4zM638 138h8v4h-8zM354 142h12v4h-12zM422 142h8v4h-8zM638 142h4v4h-4zM362 146h8v4h-8zM378 146h12v4h-12zM638 146h4v4h-4zM638 150h4v4h-4zM638 154h4v4h-4zM634 158h8v4h-8zM630 162h8v4h-8zM622 166h8v4h-8zM618 170h8v4h-8zM606 174h8v4h-8zM590 182h8v4h-8zM518 186h4v4h-4zM534 186h4v4h-4zM586 186h4v4h-4zM518 190h4v4h-4zM534 190h4v4h-4zM582 190h4v4h-4zM518 194h4v4h-4zM534 194h4v4h-4zM522 198h16v4h-16zM578 198h4v4h-4zM574 202h8v4h-8zM574 206h8v4h-8zM570 210h8v4h-8zM566 214h12v4h-12zM558 218h8v4h-8zM554 222h8v4h-8zM494 226h4v4h-4zM502 226h8v4h-8zM550 226h4v4h-4zM486 230h4v4h-4zM510 230h4v4h-4zM546 230h4v4h-4zM510 234h8v4h-8zM542 234h4v4h-4zM510 238h8v4h-8zM538 238h8v4h-8zM510 242h32v4h-32zM470 246h4v4h-4zM514 246h20v4h-20zM514 250h16v4h-16zM518 254h12v4h-12zM470 258h4v4h-4zM518 258h12v4h-12zM470 262h4v4h-4zM470 266h4v4h-4zM470 270h4v4h-4zM470 274h4v4h-4zM470 278h4v4h-4zM474 286h8v4h-8zM486 290h4v4h-4zM174 294h8v4h-8zM178 298h8v4h-8zM502 302h16v4h-16zM518 306h4v4h-4zM174 310h4v4h-4zM522 310h4v4h-4zM186 314h4v4h-4zM178 318h8v4h-8zM526 318h4v4h-4zM530 322h4v4h-4zM190 326h4v4h-4zM534 330h4v4h-4zM534 334h4v4h-4zM190 338h4v4h-4zM534 338h8v4h-8zM266 342h4v4h-4zM538 342h8v4h-8zM546 346h4v4h-4zM270 350h4v4h-4zM546 350h4v4h-4zM550 354h4v4h-4zM266 362h4v4h-4zM554 362h4v4h-4zM198 366h4v4h-4zM206 366h4v4h-4zM622 366h4v4h-4zM198 370h8v4h-8zM558 370h4v4h-4zM618 370h16v4h-16zM202 374h4v4h-4zM566 374h4v4h-4zM618 374h20v4h-20zM206 378h4v4h-4zM570 378h8v4h-8zM618 378h24v4h-24zM210 382h4v4h-4zM578 382h8v4h-8zM622 382h20v4h-20zM214 386h4v4h-4zM586 386h8v4h-8zM630 386h4v4h-4zM218 390h4v4h-4zM590 390h8v4h-8zM222 394h4v4h-4zM598 394h4v4h-4zM602 398h4v4h-4zM242 402h4v4h-4zM602 402h8v4h-8zM566 406h44v4h-44zM558 410h4v4h-4zM590 410h12v4h-12zM550 414h4v4h-4zM534 418h12v4h-12zM526 422h8v4h-8zM518 426h4v4h-4zM510 430h4v4h-4zM502 438h4v4h-4zM498 442h8v4h-8zM494 446h4v4h-4zM482 458h4v4h-4zM474 462h8v4h-8zM470 466h8v4h-8zM466 470h8v4h-8zM462 474h8v4h-8zM462 478h8v4h-8zM458 482h8v4h-8zM458 486h8v4h-8zM454 490h12v4h-12zM454 494h8v4h-8zM450 498h12v4h-12zM450 502h8v4h-8zM338 506h12v4h-12zM446 506h8v4h-8zM338 510h4v4h-4zM350 510h4v4h-4zM406 510h16v4h-16zM446 510h8v4h-8zM338 514h4v4h-4zM354 514h4v4h-4zM394 514h32v4h-32zM442 514h12v4h-12zM522 514h12v4h-12zM338 518h4v4h-4zM354 518h8v4h-8zM390 518h40v4h-40zM442 518h12v4h-12zM510 518h8v4h-8zM534 518h4v4h-4zM338 522h4v4h-4zM354 522h8v4h-8zM386 522h48v4h-48zM446 522h12v4h-12zM486 522h8v4h-8zM534 522h4v4h-4zM338 526h4v4h-4zM354 526h8v4h-8zM390 526h8v4h-8zM414 526h16v4h-16zM450 526h16v4h-16zM486 526h4v4h-4zM354 530h4v4h-4zM454 530h36v4h-36zM530 530h4v4h-4zM354 534h4v4h-4zM462 534h28v4h-28zM530 534h4v4h-4zM334 538h4v4h-4zM354 538h4v4h-4zM530 538h4v4h-4zM334 542h4v4h-4zM354 542h4v4h-4zM530 542h4v4h-4zM334 546h4v4h-4zM354 546h8v4h-8zM526 546h8v4h-8zM334 550h4v4h-4zM354 550h12v4h-12zM526 550h8v4h-8zM330 554h12v4h-12zM354 554h16v4h-16zM526 554h4v4h-4zM330 558h16v4h-16zM350 558h20v4h-20zM522 558h8v4h-8z"/>
<path fill="#78ff87" d="M494 46h8v4h-8zM622 46h20v4h-20zM150 50h4v4h-4zM490 50h8v4h-8zM634 50h8v4h-8zM154 54h12v4h-12zM486 54h8v4h-8zM638 54h8v4h-8zM482 58h8v4h-8zM482 62h4v4h-4zM478 66h4v4h-4zM642 66h4v4h-4zM474 70h4v4h-4zM642 70h4v4h-4zM470 74h4v4h-4zM642 74h4v4h-4zM466 78h4v4h-4zM642 78h4v4h-4zM462 82h4v4h-4zM642 82h8v4h-8zM226 86h4v4h-4zM458 86h4v4h-4zM642 86h4v4h-4zM234 90h4v4h-4zM454 90h4v4h-4zM642 90h4v4h-4zM642 94h4v4h-4zM450 102h4v4h-4zM638 106h4v4h-4zM638 110h8v4h-8zM638 114h4v4h-4zM638 118h4v4h-4zM638 122h4v4h-4zM638 126h4v4h-4zM442 130h4v4h-4zM634 130h8v4h-8zM326 134h4v4h-4zM634 134h8v4h-8zM634 138h4v4h-4zM430 142h4v4h-4zM634 142h4v4h-4zM370 146h8v4h-8zM390 146h32v4h-32zM634 146h4v4h-4zM634 150h4v4h-4zM630 154h8v4h-8zM626 158h8v4h-8zM618 162h12v4h-12zM618 166h4v4h-4zM610 170h8v4h-8zM602 174h4v4h-4zM522 178h12v4h-12zM594 178h8v4h-8zM518 182h4v4h-4zM534 182h4v4h-4zM586 182h4v4h-4zM514 186h4v4h-4zM538 186h4v4h-4zM582 186h4v4h-4zM538 190h4v4h-4zM538 194h4v4h-4zM578 194h4v4h-4zM518 198h4v4h-4zM538 198h4v4h-4zM574 198h4v4h-4zM522 202h20v4h-20zM570 202h4v4h-4zM530 206h12v4h-12zM566 206h8v4h-8zM558 210h12v4h-12zM554 214h12v4h-12zM546 218h12v4h-12zM538 222h16v4h-16zM490 226h4v4h-4zM510 226h8v4h-8zM534 226h16v4h-16zM514 230h12v4h-12zM534 230h12v4h-12zM478 234h4v4h-4zM518 234h12v4h-12zM534 234h8v4h-8zM474 238h4v4h-4zM518 238h20v4h-20zM470 242h4v4h-4zM466 246h4v4h-4zM466 250h4v4h-4zM466 254h4v4h-4zM466 258h4v4h-4zM466 262h4v4h-4zM466 266h4v4h-4zM470 286h4v4h-4zM474 290h4v4h-4zM482 290h4v4h-4zM486 294h4v4h-4zM490 298h4v4h-4zM498 302h4v4h-4zM178 306h4v4h-4zM514 306h4v4h-4zM178 314h4v4h-4zM234 314h4v4h-4zM522 314h4v4h-4zM246 322h4v4h-4zM182 326h8v4h-8zM250 326h8v4h-8zM530 326h4v4h-4zM254 330h4v4h-4zM530 330h4v4h-4zM186 334h4v4h-4zM530 334h4v4h-4zM530 338h4v4h-4zM530 342h8v4h-8zM190 346h4v4h-4zM538 346h8v4h-8zM194 350h4v4h-4zM518 350h4v4h-4zM542 350h4v4h-4zM194 354h4v4h-4zM546 354h4v4h-4zM550 358h4v4h-4zM202 362h4v4h-4zM554 366h4v4h-4zM210 370h4v4h-4zM198 374h4v4h-4zM562 374h4v4h-4zM202 378h4v4h-4zM566 378h4v4h-4zM206 382h4v4h-4zM574 382h4v4h-4zM210 386h4v4h-4zM582 386h4v4h-4zM586 390h4v4h-4zM590 394h8v4h-8zM230 398h4v4h-4zM586 398h16v4h-16zM570 402h32v4h-32zM562 406h4v4h-4zM554 410h4v4h-4zM538 414h12v4h-12zM530 418h4v4h-4zM522 422h4v4h-4zM510 426h8v4h-8zM506 430h4v4h-4zM502 434h4v4h-4zM494 442h4v4h-4zM490 446h4v4h-4zM490 450h4v4h-4zM482 454h8v4h-8zM474 458h8v4h-8zM466 462h8v4h-8zM462 466h8v4h-8zM458 470h8v4h-8zM458 474h4v4h-4zM454 478h8v4h-8zM450 482h8v4h-8zM446 486h12v4h-12zM418 490h8v4h-8zM442 490h12v4h-12zM414 494h40v4h-40zM406 498h44v4h-44zM334 502h12v4h-12zM386 502h64v4h-64zM334 506h4v4h-4zM350 506h4v4h-4zM382 506h64v4h-64zM334 510h4v4h-4zM354 510h8v4h-8zM378 510h28v4h-28zM422 510h24v4h-24zM358 514h12v4h-12zM378 514h16v4h-16zM426 514h16v4h-16zM362 518h28v4h-28zM430 518h12v4h-12zM518 518h4v4h-4zM530 518h4v4h-4zM362 522h24v4h-24zM434 522h12v4h-12zM494 522h20v4h-20zM530 522h4v4h-4zM334 526h4v4h-4zM362 526h28v4h-28zM398 526h16v4h-16zM430 526h20v4h-20zM530 526h4v4h-4zM334 530h4v4h-4zM358 530h96v4h-96zM334 534h4v4h-4zM358 534h4v4h-4zM370 534h32v4h-32zM418 534h44v4h-44zM526 534h4v4h-4zM330 538h4v4h-4zM358 538h4v4h-4zM370 538h28v4h-28zM422 538h16v4h-16zM450 538h36v4h-36zM526 538h4v4h-4zM330 542h4v4h-4zM358 542h40v4h-40zM454 542h28v4h-28zM522 542h8v4h-8zM326 546h8v4h-8zM362 546h36v4h-36zM462 546h12v4h-12zM522 546h4v4h-4zM326 550h8v4h-8zM366 550h32v4h-32zM518 550h8v4h-8zM322 554h8v4h-8zM370 554h28v4h-28zM518 554h8v4h-8zM322 558h8v4h-8zM370 558h28v4h-28zM514 558h8v4h-8z"/>
<path fill="#87ff78" d="M142 46h4v4h-4zM502 46h4v4h-4zM614 46h8v4h-8zM146 50h4v4h-4zM498 50h8v4h-8zM614 50h20v4h-20zM494 54h8v4h-8zM614 54h24v4h-24zM162 58h8v4h-8zM490 58h8v4h-8zM618 58h24v4h-24zM166 62h12v4h-12zM486 62h8v4h-8zM618 62h24v4h-24zM174 66h8v4h-8zM482 66h8v4h-8zM618 66h24v4h-24zM178 70h12v4h-12zM478 70h4v4h-4zM622 70h4v4h-4zM630 70h12v4h-12zM186 74h8v4h-8zM474 74h4v4h-4zM634 74h8v4h-8zM194 78h12v4h-12zM470 78h4v4h-4zM634 78h8v4h-8zM202 82h4v4h-4zM210 82h4v4h-4zM634 82h8v4h-8zM462 86h4v4h-4zM634 86h8v4h-8zM458 90h4v4h-4zM634 90h8v4h-8zM638 94h4v4h-4zM638 98h4v4h-4zM638 102h4v4h-4zM634 114h4v4h-4zM634 118h4v4h-4zM634 122h4v4h-4zM630 126h8v4h-8zM630 130h4v4h-4zM630 134h4v4h-4zM438 138h4v4h-4zM630 138h4v4h-4zM630 142h4v4h-4zM422 146h4v4h-4zM630 146h4v4h-4zM382 150h12v4h-12zM626 150h8v4h-8zM622 154h8v4h-8zM618 158h8v4h-8zM614 166h4v4h-4zM602 170h8v4h-8zM598 174h4v4h-4zM518 178h4v4h-4zM534 178h4v4h-4zM586 178h8v4h-8zM514 182h4v4h-4zM538 182h4v4h-4zM582 182h4v4h-4zM578 186h4v4h-4zM514 190h4v4h-4zM542 190h4v4h-4zM558 190h12v4h-12zM578 190h4v4h-4zM514 194h4v4h-4zM542 194h8v4h-8zM554 194h16v4h-16zM514 198h4v4h-4zM542 198h32v4h-32zM518 202h4v4h-4zM542 202h28v4h-28zM522 206h8v4h-8zM542 206h24v4h-24zM526 210h32v4h-32zM526 214h28v4h-28zM522 218h24v4h-24zM498 222h40v4h-40zM518 226h16v4h-16zM482 230h4v4h-4zM526 230h8v4h-8zM530 234h4v4h-4zM470 238h4v4h-4zM466 242h4v4h-4zM462 250h4v4h-4zM462 254h4v4h-4zM462 258h4v4h-4zM462 262h4v4h-4zM158 266h4v4h-4zM166 270h8v4h-8zM466 270h4v4h-4zM174 274h8v4h-8zM466 274h4v4h-4zM186 278h4v4h-4zM202 286h4v4h-4zM174 290h4v4h-4zM210 290h4v4h-4zM478 290h4v4h-4zM214 294h12v4h-12zM210 298h24v4h-24zM174 302h4v4h-4zM218 302h4v4h-4zM230 302h12v4h-12zM494 302h4v4h-4zM222 306h24v4h-24zM506 306h8v4h-8zM170 310h4v4h-4zM178 310h8v4h-8zM226 310h24v4h-24zM518 310h4v4h-4zM238 314h20v4h-20zM174 318h4v4h-4zM242 318h8v4h-8zM522 318h4v4h-4zM250 322h8v4h-8zM526 322h4v4h-4zM258 326h4v4h-4zM258 330h4v4h-4zM526 330h4v4h-4zM258 334h4v4h-4zM522 334h8v4h-8zM522 338h8v4h-8zM186 342h8v4h-8zM522 342h8v4h-8zM186 346h4v4h-4zM270 346h4v4h-4zM518 346h20v4h-20zM190 350h4v4h-4zM514 350h4v4h-4zM522 350h4v4h-4zM534 350h8v4h-8zM270 354h4v4h-4zM514 354h12v4h-12zM542 354h4v4h-4zM198 358h4v4h-4zM518 358h4v4h-4zM546 358h4v4h-4zM550 362h4v4h-4zM194 366h4v4h-4zM202 366h4v4h-4zM550 366h4v4h-4zM554 370h4v4h-4zM558 374h4v4h-4zM562 378h4v4h-4zM570 382h4v4h-4zM574 386h8v4h-8zM582 390h4v4h-4zM574 394h4v4h-4zM582 394h8v4h-8zM570 398h16v4h-16zM562 402h8v4h-8zM554 406h8v4h-8zM546 410h8v4h-8zM534 414h4v4h-4zM526 418h4v4h-4zM514 422h8v4h-8zM506 426h4v4h-4zM502 430h4v4h-4zM498 438h4v4h-4zM490 442h4v4h-4zM470 454h12v4h-12zM462 458h12v4h-12zM458 462h8v4h-8zM458 466h4v4h-4zM454 470h4v4h-4zM450 474h8v4h-8zM442 478h12v4h-12zM418 482h12v4h-12zM434 482h16v4h-16zM410 486h36v4h-36zM330 490h4v4h-4zM402 490h16v4h-16zM426 490h16v4h-16zM326 494h12v4h-12zM382 494h32v4h-32zM326 498h20v4h-20zM378 498h28v4h-28zM326 502h8v4h-8zM346 502h4v4h-4zM374 502h12v4h-12zM326 506h8v4h-8zM354 506h28v4h-28zM326 510h8v4h-8zM362 510h16v4h-16zM334 514h4v4h-4zM370 514h8v4h-8zM334 518h4v4h-4zM522 518h8v4h-8zM334 522h4v4h-4zM514 522h8v4h-8zM294 526h8v4h-8zM490 526h4v4h-4zM502 526h16v4h-16zM526 526h4v4h-4zM290 530h12v4h-12zM490 530h4v4h-4zM522 530h8v4h-8zM330 534h4v4h-4zM362 534h8v4h-8zM402 534h16v4h-16zM490 534h4v4h-4zM518 534h8v4h-8zM362 538h8v4h-8zM398 538h24v4h-24zM438 538h12v4h-12zM486 538h8v4h-8zM518 538h8v4h-8zM326 542h4v4h-4zM398 542h56v4h-56zM482 542h8v4h-8zM514 542h8v4h-8zM322 546h4v4h-4zM398 546h64v4h-64zM474 546h16v4h-16zM510 546h12v4h-12zM314 550h12v4h-12zM398 550h92v4h-92zM506 550h12v4h-12zM310 554h12v4h-12zM398 554h120v4h-120zM306 558h16v4h-16zM398 558h88v4h-88zM490 558h24v4h-24z"/>
<path fill="#97ff68" d="M506 46h8v4h-8zM506 50h4v4h-4zM502 54h4v4h-4zM498 58h4v4h-4zM614 58h4v4h-4zM494 62h4v4h-4zM614 62h4v4h-4zM490 66h4v4h-4zM614 66h4v4h-4zM482 70h8v4h-8zM614 70h8v4h-8zM626 70h4v4h-4zM478 74h8v4h-8zM614 74h20v4h-20zM190 78h4v4h-4zM614 78h20v4h-20zM198 82h4v4h-4zM206 82h4v4h-4zM466 82h4v4h-4zM618 82h16v4h-16zM206 86h8v4h-8zM218 86h4v4h-4zM618 86h16v4h-16zM210 90h4v4h-4zM222 90h8v4h-8zM622 90h12v4h-12zM230 94h4v4h-4zM626 94h4v4h-4zM634 94h4v4h-4zM634 98h4v4h-4zM630 102h8v4h-8zM634 106h4v4h-4zM262 110h4v4h-4zM630 110h8v4h-8zM270 114h4v4h-4zM446 114h4v4h-4zM630 114h4v4h-4zM286 118h4v4h-4zM630 118h4v4h-4zM290 122h8v4h-8zM630 122h4v4h-4zM298 126h8v4h-8zM310 130h4v4h-4zM626 130h4v4h-4zM442 134h4v4h-4zM626 134h4v4h-4zM626 138h4v4h-4zM350 142h4v4h-4zM434 142h4v4h-4zM626 142h4v4h-4zM358 146h4v4h-4zM426 146h8v4h-8zM622 146h8v4h-8zM394 150h4v4h-4zM622 150h4v4h-4zM618 154h4v4h-4zM614 162h4v4h-4zM606 166h8v4h-8zM598 170h4v4h-4zM522 174h12v4h-12zM590 174h8v4h-8zM538 178h4v4h-4zM582 178h4v4h-4zM510 182h4v4h-4zM542 182h4v4h-4zM578 182h4v4h-4zM510 186h4v4h-4zM542 186h4v4h-4zM554 186h24v4h-24zM546 190h12v4h-12zM570 190h8v4h-8zM550 194h4v4h-4zM570 194h8v4h-8zM514 202h4v4h-4zM518 206h4v4h-4zM518 210h8v4h-8zM518 214h8v4h-8zM510 218h12v4h-12zM486 226h4v4h-4zM478 230h4v4h-4zM474 234h4v4h-4zM462 246h4v4h-4zM146 254h4v4h-4zM458 254h4v4h-4zM146 258h16v4h-16zM154 262h16v4h-16zM162 266h20v4h-20zM462 266h4v4h-4zM174 270h16v4h-16zM462 270h4v4h-4zM182 274h20v4h-20zM162 278h4v4h-4zM178 278h8v4h-8zM190 278h24v4h-24zM466 278h4v4h-4zM166 282h4v4h-4zM186 282h36v4h-36zM466 282h4v4h-4zM170 286h4v4h-4zM190 286h12v4h-12zM206 286h24v4h-24zM198 290h12v4h-12zM214 290h24v4h-24zM470 290h4v4h-4zM202 294h12v4h-12zM226 294h16v4h-16zM482 294h4v4h-4zM234 298h16v4h-16zM486 298h4v4h-4zM178 302h4v4h-4zM214 302h4v4h-4zM222 302h8v4h-8zM242 302h12v4h-12zM490 302h4v4h-4zM162 306h4v4h-4zM246 306h12v4h-12zM502 306h4v4h-4zM250 310h12v4h-12zM514 310h4v4h-4zM170 314h8v4h-8zM258 314h8v4h-8zM518 314h4v4h-4zM170 318h4v4h-4zM250 318h12v4h-12zM178 322h4v4h-4zM258 322h8v4h-8zM522 322h4v4h-4zM178 326h4v4h-4zM262 326h4v4h-4zM526 326h4v4h-4zM178 330h8v4h-8zM262 330h4v4h-4zM518 330h8v4h-8zM182 334h4v4h-4zM262 334h4v4h-4zM518 334h4v4h-4zM186 338h4v4h-4zM266 338h4v4h-4zM518 338h4v4h-4zM182 342h4v4h-4zM518 342h4v4h-4zM514 346h4v4h-4zM186 350h4v4h-4zM274 350h4v4h-4zM526 350h8v4h-8zM190 354h4v4h-4zM526 354h16v4h-16zM514 358h4v4h-4zM522 358h8v4h-8zM542 358h4v4h-4zM198 362h4v4h-4zM514 362h12v4h-12zM546 362h4v4h-4zM514 366h12v4h-12zM194 370h4v4h-4zM514 370h8v4h-8zM554 374h4v4h-4zM558 378h4v4h-4zM202 382h4v4h-4zM566 382h4v4h-4zM570 386h4v4h-4zM214 390h4v4h-4zM570 390h12v4h-12zM570 394h4v4h-4zM578 394h4v4h-4zM226 398h4v4h-4zM566 398h4v4h-4zM238 402h4v4h-4zM558 402h4v4h-4zM550 406h4v4h-4zM534 410h12v4h-12zM526 414h8v4h-8zM514 418h12v4h-12zM506 422h8v4h-8zM502 426h4v4h-4zM498 430h4v4h-4zM498 434h4v4h-4zM490 438h8v4h-8zM486 442h4v4h-4zM474 446h16v4h-16zM466 450h24v4h-24zM462 454h8v4h-8zM458 458h4v4h-4zM454 462h4v4h-4zM450 466h8v4h-8zM446 470h8v4h-8zM438 474h12v4h-12zM414 478h28v4h-28zM398 482h20v4h-20zM430 482h4v4h-4zM326 486h12v4h-12zM382 486h28v4h-28zM326 490h4v4h-4zM334 490h8v4h-8zM378 490h24v4h-24zM322 494h4v4h-4zM338 494h4v4h-4zM374 494h8v4h-8zM322 498h4v4h-4zM346 498h4v4h-4zM370 498h8v4h-8zM318 502h8v4h-8zM350 502h24v4h-24zM318 506h8v4h-8zM318 510h8v4h-8zM318 514h16v4h-16zM294 518h8v4h-8zM330 518h4v4h-4zM290 522h16v4h-16zM330 522h4v4h-4zM526 522h4v4h-4zM290 526h4v4h-4zM302 526h8v4h-8zM330 526h4v4h-4zM494 526h8v4h-8zM518 526h8v4h-8zM286 530h4v4h-4zM302 530h8v4h-8zM330 530h4v4h-4zM502 530h20v4h-20zM286 534h24v4h-24zM326 534h4v4h-4zM506 534h12v4h-12zM286 538h24v4h-24zM322 538h8v4h-8zM494 538h4v4h-4zM506 538h12v4h-12zM286 542h40v4h-40zM490 542h24v4h-24zM286 546h36v4h-36zM490 546h20v4h-20zM282 550h32v4h-32zM490 550h16v4h-16zM282 554h28v4h-28zM278 558h28v4h-28zM486 558h4v4h-4z"/>
<path fill="#a7ff58" d="M514 46h12v4h-12zM510 50h12v4h-12zM506 54h12v4h-12zM502 58h12v4h-12zM498 62h8v4h-8zM494 66h8v4h-8zM490 70h8v4h-8zM486 74h8v4h-8zM474 78h4v4h-4zM482 78h4v4h-4zM614 82h4v4h-4zM214 86h4v4h-4zM610 86h8v4h-8zM214 90h8v4h-8zM614 90h8v4h-8zM218 94h12v4h-12zM614 94h12v4h-12zM226 98h16v4h-16zM614 98h12v4h-12zM630 98h4v4h-4zM242 102h4v4h-4zM474 102h4v4h-4zM614 102h8v4h-8zM246 106h4v4h-4zM450 106h4v4h-4zM470 106h8v4h-8zM630 106h4v4h-4zM626 110h4v4h-4zM626 114h4v4h-4zM274 118h12v4h-12zM446 118h4v4h-4zM622 118h8v4h-8zM286 122h4v4h-4zM622 122h8v4h-8zM622 126h8v4h-8zM306 130h4v4h-4zM622 130h4v4h-4zM314 134h12v4h-12zM622 134h4v4h-4zM334 138h8v4h-8zM622 138h4v4h-4zM346 142h4v4h-4zM438 142h4v4h-4zM618 142h8v4h-8zM618 146h4v4h-4zM370 150h12v4h-12zM398 150h8v4h-8zM618 150h4v4h-4zM614 154h4v4h-4zM614 158h4v4h-4zM610 162h4v4h-4zM598 166h8v4h-8zM594 170h4v4h-4zM518 174h4v4h-4zM534 174h4v4h-4zM578 174h12v4h-12zM514 178h4v4h-4zM542 178h12v4h-12zM574 178h8v4h-8zM546 182h32v4h-32zM546 186h8v4h-8zM510 190h4v4h-4zM510 194h4v4h-4zM510 198h4v4h-4zM514 206h4v4h-4zM514 210h4v4h-4zM114 214h4v4h-4zM510 214h8v4h-8zM118 218h8v4h-8zM502 218h8v4h-8zM118 222h16v4h-16zM494 222h4v4h-4zM122 226h16v4h-16zM482 226h4v4h-4zM126 230h20v4h-20zM126 234h28v4h-28zM470 234h4v4h-4zM130 238h28v4h-28zM466 238h4v4h-4zM134 242h32v4h-32zM462 242h4v4h-4zM138 246h36v4h-36zM458 246h4v4h-4zM142 250h36v4h-36zM458 250h4v4h-4zM150 254h36v4h-36zM162 258h32v4h-32zM458 258h4v4h-4zM170 262h32v4h-32zM458 262h4v4h-4zM182 266h24v4h-24zM458 266h4v4h-4zM190 270h24v4h-24zM158 274h4v4h-4zM202 274h20v4h-20zM214 278h16v4h-16zM394 278h4v4h-4zM222 282h16v4h-16zM230 286h12v4h-12zM238 290h12v4h-12zM242 294h8v4h-8zM170 298h8v4h-8zM250 298h4v4h-4zM254 302h16v4h-16zM150 306h4v4h-4zM158 306h4v4h-4zM170 306h8v4h-8zM258 306h16v4h-16zM498 306h4v4h-4zM158 310h12v4h-12zM262 310h12v4h-12zM98 314h4v4h-4zM162 314h8v4h-8zM266 314h4v4h-4zM102 318h4v4h-4zM262 318h8v4h-8zM518 318h4v4h-4zM110 322h4v4h-4zM174 322h4v4h-4zM266 322h4v4h-4zM518 322h4v4h-4zM114 326h4v4h-4zM174 326h4v4h-4zM266 326h4v4h-4zM518 326h8v4h-8zM118 330h8v4h-8zM174 330h4v4h-4zM266 330h4v4h-4zM122 334h8v4h-8zM178 334h4v4h-4zM266 334h4v4h-4zM178 338h8v4h-8zM270 338h4v4h-4zM514 338h4v4h-4zM270 342h4v4h-4zM514 342h4v4h-4zM142 346h4v4h-4zM182 346h4v4h-4zM510 346h4v4h-4zM510 350h4v4h-4zM510 354h4v4h-4zM194 358h4v4h-4zM510 358h4v4h-4zM530 358h12v4h-12zM510 362h4v4h-4zM526 362h8v4h-8zM190 366h4v4h-4zM510 366h4v4h-4zM526 366h4v4h-4zM546 366h4v4h-4zM522 370h8v4h-8zM550 370h4v4h-4zM514 374h12v4h-12zM198 378h4v4h-4zM270 382h4v4h-4zM562 382h4v4h-4zM206 386h4v4h-4zM270 386h4v4h-4zM566 386h4v4h-4zM218 394h4v4h-4zM566 394h4v4h-4zM562 398h4v4h-4zM262 402h4v4h-4zM554 402h4v4h-4zM542 406h8v4h-8zM530 410h4v4h-4zM514 414h12v4h-12zM506 418h8v4h-8zM502 422h4v4h-4zM498 426h4v4h-4zM494 430h4v4h-4zM274 434h4v4h-4zM490 434h8v4h-8zM478 438h12v4h-12zM470 442h16v4h-16zM466 446h8v4h-8zM458 450h8v4h-8zM454 454h8v4h-8zM450 458h8v4h-8zM446 462h8v4h-8zM442 466h8v4h-8zM434 470h12v4h-12zM414 474h24v4h-24zM382 478h32v4h-32zM326 482h12v4h-12zM378 482h20v4h-20zM322 486h4v4h-4zM338 486h4v4h-4zM374 486h8v4h-8zM322 490h4v4h-4zM342 490h4v4h-4zM370 490h8v4h-8zM318 494h4v4h-4zM342 494h4v4h-4zM366 494h8v4h-8zM318 498h4v4h-4zM362 498h8v4h-8zM314 502h4v4h-4zM310 506h8v4h-8zM290 510h28v4h-28zM290 514h28v4h-28zM286 518h8v4h-8zM302 518h28v4h-28zM286 522h4v4h-4zM306 522h24v4h-24zM522 522h4v4h-4zM286 526h4v4h-4zM310 526h8v4h-8zM326 526h4v4h-4zM282 530h4v4h-4zM310 530h8v4h-8zM326 530h4v4h-4zM494 530h8v4h-8zM282 534h4v4h-4zM310 534h16v4h-16zM494 534h12v4h-12zM278 538h8v4h-8zM310 538h12v4h-12zM498 538h8v4h-8zM274 542h12v4h-12zM274 546h12v4h-12zM274 550h8v4h-8zM270 554h12v4h-12zM266 558h12v4h-12z"/>
<path fill="#b7ff48" d="M526 46h8v4h-8zM606 46h8v4h-8zM522 50h8v4h-8zM606 50h8v4h-8zM518 54h8v4h-8zM606 54h4v4h-4zM514 58h4v4h-4zM506 62h8v4h-8zM502 66h8v4h-8zM498 70h8v4h-8zM494 74h8v4h-8zM478 78h4v4h-4zM486 78h8v4h-8zM470 82h4v4h-4zM482 82h12v4h-12zM466 86h4v4h-4zM482 86h8v4h-8zM462 90h4v4h-4zM234 94h4v4h-4zM454 94h4v4h-4zM630 94h4v4h-4zM626 98h4v4h-4zM234 102h8v4h-8zM246 102h4v4h-4zM470 102h4v4h-4zM490 102h4v4h-4zM626 102h4v4h-4zM242 106h4v4h-4zM250 106h8v4h-8zM614 106h4v4h-4zM622 106h8v4h-8zM246 110h8v4h-8zM258 110h4v4h-4zM614 110h4v4h-4zM622 110h4v4h-4zM614 114h4v4h-4zM622 114h4v4h-4zM282 122h4v4h-4zM618 122h4v4h-4zM286 126h12v4h-12zM618 126h4v4h-4zM298 130h8v4h-8zM446 130h4v4h-4zM618 130h4v4h-4zM306 134h8v4h-8zM614 134h8v4h-8zM318 138h16v4h-16zM442 138h4v4h-4zM618 138h4v4h-4zM342 142h4v4h-4zM434 146h4v4h-4zM614 146h4v4h-4zM366 150h4v4h-4zM406 150h24v4h-24zM614 150h4v4h-4zM386 154h4v4h-4zM610 154h4v4h-4zM610 158h4v4h-4zM602 162h8v4h-8zM522 170h12v4h-12zM582 170h12v4h-12zM538 174h8v4h-8zM574 174h4v4h-4zM510 178h4v4h-4zM554 178h20v4h-20zM102 198h4v4h-4zM102 202h12v4h-12zM510 202h4v4h-4zM106 206h16v4h-16zM510 206h4v4h-4zM110 210h20v4h-20zM510 210h4v4h-4zM118 214h20v4h-20zM506 214h4v4h-4zM126 218h20v4h-20zM498 218h4v4h-4zM134 222h20v4h-20zM490 222h4v4h-4zM138 226h24v4h-24zM146 230h24v4h-24zM474 230h4v4h-4zM154 234h24v4h-24zM466 234h4v4h-4zM158 238h24v4h-24zM462 238h4v4h-4zM166 242h20v4h-20zM458 242h4v4h-4zM174 246h20v4h-20zM178 250h20v4h-20zM454 250h4v4h-4zM186 254h16v4h-16zM454 254h4v4h-4zM194 258h12v4h-12zM454 258h4v4h-4zM202 262h8v4h-8zM454 262h4v4h-4zM206 266h12v4h-12zM214 270h12v4h-12zM458 270h4v4h-4zM222 274h12v4h-12zM394 274h4v4h-4zM462 274h4v4h-4zM230 278h8v4h-8zM390 278h4v4h-4zM398 278h4v4h-4zM238 282h4v4h-4zM242 286h8v4h-8zM466 286h4v4h-4zM250 290h4v4h-4zM166 294h8v4h-8zM250 294h16v4h-16zM478 294h4v4h-4zM254 298h16v4h-16zM482 298h4v4h-4zM170 302h4v4h-4zM270 302h4v4h-4zM486 302h4v4h-4zM142 306h8v4h-8zM166 306h4v4h-4zM274 306h4v4h-4zM290 306h8v4h-8zM490 306h8v4h-8zM154 310h4v4h-4zM274 310h8v4h-8zM510 310h4v4h-4zM270 314h8v4h-8zM514 314h4v4h-4zM166 318h4v4h-4zM270 318h4v4h-4zM106 322h4v4h-4zM170 322h4v4h-4zM270 322h4v4h-4zM170 326h4v4h-4zM270 326h4v4h-4zM514 326h4v4h-4zM270 330h4v4h-4zM514 330h4v4h-4zM270 334h4v4h-4zM514 334h4v4h-4zM126 338h8v4h-8zM134 342h8v4h-8zM178 342h4v4h-4zM510 342h4v4h-4zM138 346h4v4h-4zM274 346h4v4h-4zM146 350h4v4h-4zM182 350h4v4h-4zM506 354h4v4h-4zM190 358h4v4h-4zM270 358h4v4h-4zM182 362h4v4h-4zM534 362h4v4h-4zM542 362h4v4h-4zM530 366h4v4h-4zM542 366h4v4h-4zM510 370h4v4h-4zM530 370h4v4h-4zM546 370h4v4h-4zM194 374h4v4h-4zM510 374h4v4h-4zM526 374h4v4h-4zM550 374h4v4h-4zM514 378h12v4h-12zM554 378h4v4h-4zM558 382h4v4h-4zM558 386h8v4h-8zM210 390h4v4h-4zM270 390h4v4h-4zM562 390h8v4h-8zM214 394h4v4h-4zM562 394h4v4h-4zM222 398h4v4h-4zM558 398h4v4h-4zM546 402h8v4h-8zM530 406h12v4h-12zM510 410h20v4h-20zM502 414h12v4h-12zM498 418h8v4h-8zM494 422h8v4h-8zM494 426h4v4h-4zM490 430h4v4h-4zM474 434h16v4h-16zM470 438h8v4h-8zM462 442h8v4h-8zM454 446h12v4h-12zM450 450h8v4h-8zM446 454h8v4h-8zM442 458h8v4h-8zM438 462h8v4h-8zM430 466h12v4h-12zM382 470h20v4h-20zM410 470h24v4h-24zM378 474h36v4h-36zM326 478h12v4h-12zM374 478h8v4h-8zM322 482h4v4h-4zM338 482h4v4h-4zM370 482h8v4h-8zM342 486h4v4h-4zM366 486h8v4h-8zM318 490h4v4h-4zM346 490h4v4h-4zM362 490h8v4h-8zM346 494h4v4h-4zM358 494h8v4h-8zM310 498h8v4h-8zM350 498h12v4h-12zM282 502h32v4h-32zM282 506h28v4h-28zM282 510h8v4h-8zM282 514h8v4h-8zM282 518h4v4h-4zM282 522h4v4h-4zM282 526h4v4h-4zM318 526h8v4h-8zM278 530h4v4h-4zM318 530h8v4h-8zM278 534h4v4h-4zM274 538h4v4h-4zM266 542h8v4h-8zM258 546h16v4h-16zM254 550h20v4h-20zM254 554h16v4h-16zM250 558h16v4h-16z"/>
<path fill="#c7ff38" d="M534 46h8v4h-8zM554 46h28v4h-28zM594 46h12v4h-12zM530 50h8v4h-8zM550 50h8v4h-8zM562 50h8v4h-8zM594 50h4v4h-4zM602 50h4v4h-4zM526 54h8v4h-8zM598 54h8v4h-8zM610 54h4v4h-4zM518 58h12v4h-12zM602 58h12v4h-12zM514 62h12v4h-12zM602 62h12v4h-12zM510 66h8v4h-8zM598 66h16v4h-16zM506 70h8v4h-8zM598 70h16v4h-16zM502 74h8v4h-8zM598 74h16v4h-16zM494 78h8v4h-8zM602 78h12v4h-12zM478 82h4v4h-4zM494 82h4v4h-4zM606 82h8v4h-8zM490 86h4v4h-4zM606 86h4v4h-4zM486 90h4v4h-4zM610 90h4v4h-4zM610 94h4v4h-4zM474 98h4v4h-4zM486 98h8v4h-8zM610 98h4v4h-4zM466 102h4v4h-4zM478 102h12v4h-12zM610 102h4v4h-4zM622 102h4v4h-4zM466 106h4v4h-4zM478 106h16v4h-16zM610 106h4v4h-4zM618 106h4v4h-4zM254 110h4v4h-4zM462 110h16v4h-16zM618 110h4v4h-4zM266 114h4v4h-4zM618 114h4v4h-4zM270 118h4v4h-4zM614 118h8v4h-8zM446 122h4v4h-4zM614 122h4v4h-4zM446 126h4v4h-4zM614 126h4v4h-4zM614 130h4v4h-4zM446 134h4v4h-4zM614 138h4v4h-4zM330 142h12v4h-12zM442 142h4v4h-4zM610 142h8v4h-8zM346 146h12v4h-12zM438 146h4v4h-4zM610 146h4v4h-4zM362 150h4v4h-4zM430 150h4v4h-4zM606 150h8v4h-8zM378 154h8v4h-8zM390 154h20v4h-20zM606 154h4v4h-4zM602 158h8v4h-8zM594 162h8v4h-8zM586 166h12v4h-12zM518 170h4v4h-4zM534 170h8v4h-8zM574 170h8v4h-8zM510 174h8v4h-8zM546 174h12v4h-12zM570 174h4v4h-4zM506 178h4v4h-4zM506 182h4v4h-4zM90 186h4v4h-4zM506 186h4v4h-4zM94 190h8v4h-8zM98 194h12v4h-12zM106 198h12v4h-12zM114 202h12v4h-12zM122 206h8v4h-8zM130 210h8v4h-8zM506 210h4v4h-4zM138 214h8v4h-8zM502 214h4v4h-4zM146 218h8v4h-8zM154 222h4v4h-4zM486 222h4v4h-4zM162 226h4v4h-4zM478 226h4v4h-4zM170 230h4v4h-4zM470 230h4v4h-4zM178 234h4v4h-4zM462 234h4v4h-4zM182 238h8v4h-8zM458 238h4v4h-4zM186 242h8v4h-8zM194 246h8v4h-8zM454 246h4v4h-4zM198 250h8v4h-8zM450 250h4v4h-4zM202 254h12v4h-12zM450 254h4v4h-4zM206 258h16v4h-16zM450 258h4v4h-4zM210 262h16v4h-16zM450 262h4v4h-4zM218 266h16v4h-16zM454 266h4v4h-4zM226 270h12v4h-12zM426 270h8v4h-8zM234 274h12v4h-12zM390 274h4v4h-4zM398 274h4v4h-4zM426 274h8v4h-8zM458 274h4v4h-4zM238 278h12v4h-12zM462 278h4v4h-4zM242 282h12v4h-12zM394 282h4v4h-4zM250 286h8v4h-8zM166 290h8v4h-8zM254 290h12v4h-12zM266 294h8v4h-8zM166 298h4v4h-4zM270 298h12v4h-12zM138 302h12v4h-12zM166 302h4v4h-4zM274 302h24v4h-24zM482 302h4v4h-4zM154 306h4v4h-4zM278 306h12v4h-12zM486 306h4v4h-4zM282 310h8v4h-8zM506 310h4v4h-4zM154 314h4v4h-4zM278 314h4v4h-4zM158 318h4v4h-4zM274 318h4v4h-4zM514 318h4v4h-4zM162 322h8v4h-8zM274 322h4v4h-4zM514 322h4v4h-4zM166 326h4v4h-4zM170 330h4v4h-4zM166 334h4v4h-4zM174 334h4v4h-4zM138 338h4v4h-4zM170 338h8v4h-8zM510 338h4v4h-4zM174 342h4v4h-4zM178 346h4v4h-4zM506 346h4v4h-4zM142 350h4v4h-4zM506 350h4v4h-4zM150 354h4v4h-4zM186 354h4v4h-4zM274 354h4v4h-4zM506 358h4v4h-4zM194 362h4v4h-4zM506 362h4v4h-4zM538 362h4v4h-4zM182 366h8v4h-8zM506 366h4v4h-4zM534 366h8v4h-8zM186 370h8v4h-8zM506 370h4v4h-4zM534 370h12v4h-12zM190 374h4v4h-4zM506 374h4v4h-4zM530 374h8v4h-8zM546 374h4v4h-4zM194 378h4v4h-4zM270 378h4v4h-4zM510 378h4v4h-4zM526 378h8v4h-8zM550 378h4v4h-4zM514 382h12v4h-12zM554 382h4v4h-4zM206 390h4v4h-4zM558 390h4v4h-4zM558 394h4v4h-4zM554 398h4v4h-4zM234 402h4v4h-4zM518 402h28v4h-28zM506 406h24v4h-24zM498 410h12v4h-12zM490 414h12v4h-12zM486 418h12v4h-12zM486 422h8v4h-8zM482 426h12v4h-12zM474 430h16v4h-16zM466 434h8v4h-8zM274 438h4v4h-4zM458 438h12v4h-12zM450 442h12v4h-12zM446 446h8v4h-8zM442 450h8v4h-8zM438 454h8v4h-8zM430 458h12v4h-12zM426 462h12v4h-12zM374 466h56v4h-56zM370 470h12v4h-12zM402 470h8v4h-8zM326 474h12v4h-12zM370 474h8v4h-8zM322 478h4v4h-4zM338 478h8v4h-8zM366 478h8v4h-8zM342 482h8v4h-8zM362 482h8v4h-8zM318 486h4v4h-4zM346 486h8v4h-8zM358 486h8v4h-8zM350 490h12v4h-12zM310 494h8v4h-8zM350 494h8v4h-8zM286 498h24v4h-24zM278 502h4v4h-4zM278 506h4v4h-4zM278 510h4v4h-4zM278 514h4v4h-4zM278 522h4v4h-4zM278 526h4v4h-4zM274 530h4v4h-4zM270 534h8v4h-8zM250 538h24v4h-24zM246 542h20v4h-20zM246 546h12v4h-12zM242 550h12v4h-12zM242 554h12v4h-12zM238 558h12v4h-12z"/>
<path fill="#d7ff28" d="M542 46h12v4h-12zM582 46h12v4h-12zM538 50h12v4h-12zM558 50h4v4h-4zM570 50h12v4h-12zM586 50h4v4h-4zM598 50h4v4h-4zM534 54h8v4h-8zM550 54h28v4h-28zM594 54h4v4h-4zM530 58h8v4h-8zM550 58h24v4h-24zM590 58h12v4h-12zM526 62h12v4h-12zM550 62h24v4h-24zM590 62h12v4h-12zM518 66h12v4h-12zM594 66h4v4h-4zM514 70h12v4h-12zM594 70h4v4h-4zM510 74h12v4h-12zM594 74h4v4h-4zM502 78h16v4h-16zM594 78h8v4h-8zM498 82h8v4h-8zM594 82h12v4h-12zM478 86h4v4h-4zM494 86h4v4h-4zM594 86h12v4h-12zM466 90h4v4h-4zM482 90h4v4h-4zM490 90h8v4h-8zM594 90h16v4h-16zM458 94h8v4h-8zM486 94h12v4h-12zM598 94h12v4h-12zM466 98h8v4h-8zM478 98h8v4h-8zM494 98h4v4h-4zM602 98h8v4h-8zM494 102h4v4h-4zM598 102h12v4h-12zM494 106h4v4h-4zM598 106h12v4h-12zM450 110h4v4h-4zM478 110h12v4h-12zM602 110h12v4h-12zM254 114h12v4h-12zM462 114h12v4h-12zM602 114h12v4h-12zM262 118h8v4h-8zM602 118h12v4h-12zM274 122h8v4h-8zM602 122h8v4h-8zM278 126h4v4h-4zM602 126h4v4h-4zM610 126h4v4h-4zM290 130h8v4h-8zM602 130h4v4h-4zM610 130h4v4h-4zM298 134h4v4h-4zM606 134h8v4h-8zM446 138h4v4h-4zM606 138h8v4h-8zM602 142h8v4h-8zM342 146h4v4h-4zM602 146h8v4h-8zM350 150h12v4h-12zM434 150h4v4h-4zM598 150h8v4h-8zM66 154h4v4h-4zM366 154h12v4h-12zM410 154h16v4h-16zM594 154h12v4h-12zM66 158h12v4h-12zM590 158h12v4h-12zM66 162h16v4h-16zM586 162h8v4h-8zM70 166h20v4h-20zM518 166h16v4h-16zM578 166h8v4h-8zM74 170h20v4h-20zM510 170h8v4h-8zM542 170h8v4h-8zM570 170h4v4h-4zM78 174h24v4h-24zM506 174h4v4h-4zM558 174h12v4h-12zM86 178h20v4h-20zM90 182h24v4h-24zM502 182h4v4h-4zM94 186h28v4h-28zM502 186h4v4h-4zM102 190h28v4h-28zM506 190h4v4h-4zM110 194h28v4h-28zM118 198h24v4h-24zM506 198h4v4h-4zM126 202h20v4h-20zM506 202h4v4h-4zM130 206h24v4h-24zM506 206h4v4h-4zM138 210h20v4h-20zM502 210h4v4h-4zM146 214h16v4h-16zM498 214h4v4h-4zM154 218h16v4h-16zM494 218h4v4h-4zM158 222h16v4h-16zM482 222h4v4h-4zM166 226h16v4h-16zM474 226h4v4h-4zM174 230h12v4h-12zM466 230h4v4h-4zM182 234h8v4h-8zM190 238h8v4h-8zM194 242h4v4h-4zM454 242h4v4h-4zM202 246h4v4h-4zM450 246h4v4h-4zM206 250h12v4h-12zM214 254h8v4h-8zM446 254h4v4h-4zM222 258h8v4h-8zM446 258h4v4h-4zM226 262h8v4h-8zM446 262h4v4h-4zM234 266h4v4h-4zM242 266h4v4h-4zM430 266h8v4h-8zM450 266h4v4h-4zM238 270h4v4h-4zM422 270h4v4h-4zM434 270h4v4h-4zM454 270h4v4h-4zM250 274h4v4h-4zM402 274h8v4h-8zM418 274h8v4h-8zM434 274h4v4h-4zM250 278h8v4h-8zM386 278h4v4h-4zM402 278h4v4h-4zM422 278h12v4h-12zM254 282h8v4h-8zM390 282h4v4h-4zM398 282h4v4h-4zM426 282h4v4h-4zM166 286h4v4h-4zM258 286h8v4h-8zM106 290h8v4h-8zM162 290h4v4h-4zM266 290h4v4h-4zM114 294h4v4h-4zM162 294h4v4h-4zM274 294h4v4h-4zM470 294h8v4h-8zM138 298h4v4h-4zM162 298h4v4h-4zM282 298h4v4h-4zM478 298h4v4h-4zM134 302h4v4h-4zM150 302h4v4h-4zM158 302h8v4h-8zM478 302h4v4h-4zM298 306h4v4h-4zM482 306h4v4h-4zM146 310h4v4h-4zM290 310h4v4h-4zM498 310h8v4h-8zM150 314h4v4h-4zM282 314h8v4h-8zM510 314h4v4h-4zM154 318h4v4h-4zM278 318h4v4h-4zM158 322h4v4h-4zM162 326h4v4h-4zM274 326h4v4h-4zM126 330h4v4h-4zM166 330h4v4h-4zM274 330h4v4h-4zM510 330h4v4h-4zM130 334h4v4h-4zM162 334h4v4h-4zM170 334h4v4h-4zM274 334h4v4h-4zM510 334h4v4h-4zM134 338h4v4h-4zM166 338h4v4h-4zM274 338h4v4h-4zM170 342h4v4h-4zM274 342h4v4h-4zM506 342h4v4h-4zM174 346h4v4h-4zM178 350h4v4h-4zM166 354h8v4h-8zM182 354h4v4h-4zM502 354h4v4h-4zM174 358h4v4h-4zM186 358h4v4h-4zM502 358h4v4h-4zM178 362h4v4h-4zM270 362h4v4h-4zM170 366h4v4h-4zM270 366h4v4h-4zM270 370h4v4h-4zM502 370h4v4h-4zM270 374h4v4h-4zM502 374h4v4h-4zM538 374h8v4h-8zM502 378h8v4h-8zM534 378h4v4h-4zM546 378h4v4h-4zM194 382h8v4h-8zM502 382h12v4h-12zM526 382h8v4h-8zM550 382h4v4h-4zM202 386h4v4h-4zM502 386h28v4h-28zM554 386h4v4h-4zM506 390h20v4h-20zM554 390h4v4h-4zM270 394h4v4h-4zM502 394h24v4h-24zM554 394h4v4h-4zM498 398h56v4h-56zM490 402h28v4h-28zM246 406h8v4h-8zM482 406h24v4h-24zM478 410h20v4h-20zM474 414h16v4h-16zM474 418h12v4h-12zM470 422h16v4h-16zM470 426h12v4h-12zM274 430h4v4h-4zM466 430h8v4h-8zM270 434h4v4h-4zM278 434h4v4h-4zM450 434h16v4h-16zM442 438h16v4h-16zM438 442h12v4h-12zM434 446h12v4h-12zM430 450h12v4h-12zM426 454h12v4h-12zM370 458h12v4h-12zM422 458h8v4h-8zM366 462h60v4h-60zM366 466h8v4h-8zM326 470h12v4h-12zM362 470h8v4h-8zM322 474h4v4h-4zM338 474h12v4h-12zM362 474h8v4h-8zM346 478h8v4h-8zM358 478h8v4h-8zM318 482h4v4h-4zM350 482h12v4h-12zM354 486h4v4h-4zM314 490h4v4h-4zM286 494h24v4h-24zM278 498h8v4h-8zM274 506h4v4h-4zM274 510h4v4h-4zM274 514h4v4h-4zM278 518h4v4h-4zM274 526h4v4h-4zM250 530h4v4h-4zM270 530h4v4h-4zM242 534h28v4h-28zM238 538h12v4h-12zM238 542h8v4h-8zM234 546h12v4h-12zM226 550h16v4h-16zM222 554h20v4h-20zM222 558h16v4h-16z"/>
<path fill="#e7ff18" d="M582 50h4v4h-4zM590 50h4v4h-4zM542 54h8v4h-8zM578 54h16v4h-16zM538 58h12v4h-12zM574 58h16v4h-16zM538 62h12v4h-12zM574 62h16v4h-16zM530 66h16v4h-16zM550 66h44v4h-44zM526 70h12v4h-12zM550 70h16v4h-16zM574 70h4v4h-4zM590 70h4v4h-4zM522 74h12v4h-12zM546 74h4v4h-4zM554 74h8v4h-8zM586 74h8v4h-8zM518 78h8v4h-8zM586 78h8v4h-8zM474 82h4v4h-4zM506 82h16v4h-16zM586 82h8v4h-8zM470 86h8v4h-8zM498 86h8v4h-8zM514 86h4v4h-4zM586 86h8v4h-8zM470 90h12v4h-12zM498 90h4v4h-4zM586 90h8v4h-8zM466 94h20v4h-20zM498 94h4v4h-4zM590 94h8v4h-8zM454 98h4v4h-4zM462 98h4v4h-4zM498 98h4v4h-4zM590 98h12v4h-12zM454 102h4v4h-4zM462 102h4v4h-4zM498 102h4v4h-4zM590 102h8v4h-8zM462 106h4v4h-4zM498 106h4v4h-4zM590 106h8v4h-8zM458 110h4v4h-4zM490 110h12v4h-12zM594 110h8v4h-8zM450 114h4v4h-4zM458 114h4v4h-4zM474 114h20v4h-20zM594 114h8v4h-8zM258 118h4v4h-4zM466 118h8v4h-8zM594 118h8v4h-8zM266 122h8v4h-8zM466 122h4v4h-4zM594 122h8v4h-8zM610 122h4v4h-4zM66 126h8v4h-8zM270 126h8v4h-8zM282 126h4v4h-4zM594 126h8v4h-8zM606 126h4v4h-4zM74 130h4v4h-4zM278 130h12v4h-12zM594 130h8v4h-8zM606 130h4v4h-4zM78 134h4v4h-4zM302 134h4v4h-4zM594 134h12v4h-12zM82 138h4v4h-4zM306 138h12v4h-12zM594 138h12v4h-12zM66 142h8v4h-8zM86 142h4v4h-4zM314 142h16v4h-16zM590 142h12v4h-12zM66 146h12v4h-12zM90 146h4v4h-4zM442 146h4v4h-4zM586 146h16v4h-16zM66 150h16v4h-16zM94 150h4v4h-4zM438 150h4v4h-4zM586 150h12v4h-12zM70 154h20v4h-20zM426 154h8v4h-8zM582 154h12v4h-12zM78 158h16v4h-16zM382 158h28v4h-28zM586 158h4v4h-4zM82 162h16v4h-16zM110 162h4v4h-4zM518 162h12v4h-12zM578 162h8v4h-8zM90 166h16v4h-16zM114 166h4v4h-4zM510 166h8v4h-8zM534 166h8v4h-8zM574 166h4v4h-4zM94 170h16v4h-16zM118 170h4v4h-4zM506 170h4v4h-4zM550 170h8v4h-8zM566 170h4v4h-4zM102 174h16v4h-16zM502 174h4v4h-4zM106 178h16v4h-16zM502 178h4v4h-4zM114 182h12v4h-12zM122 186h12v4h-12zM498 186h4v4h-4zM130 190h8v4h-8zM498 190h8v4h-8zM138 194h4v4h-4zM494 194h16v4h-16zM142 198h8v4h-8zM498 198h8v4h-8zM146 202h12v4h-12zM498 202h8v4h-8zM154 206h8v4h-8zM502 206h4v4h-4zM158 210h12v4h-12zM498 210h4v4h-4zM162 214h12v4h-12zM494 214h4v4h-4zM170 218h12v4h-12zM486 218h8v4h-8zM174 222h12v4h-12zM478 222h4v4h-4zM182 226h12v4h-12zM470 226h4v4h-4zM186 230h12v4h-12zM462 230h4v4h-4zM190 234h12v4h-12zM206 234h4v4h-4zM458 234h4v4h-4zM198 238h8v4h-8zM210 238h4v4h-4zM454 238h4v4h-4zM198 242h12v4h-12zM214 242h4v4h-4zM450 242h4v4h-4zM206 246h8v4h-8zM446 246h4v4h-4zM218 250h4v4h-4zM446 250h4v4h-4zM222 254h12v4h-12zM442 254h4v4h-4zM230 258h8v4h-8zM438 258h8v4h-8zM234 262h8v4h-8zM430 262h16v4h-16zM238 266h4v4h-4zM246 266h4v4h-4zM422 266h8v4h-8zM438 266h12v4h-12zM242 270h8v4h-8zM394 270h28v4h-28zM438 270h16v4h-16zM154 274h4v4h-4zM246 274h4v4h-4zM254 274h4v4h-4zM386 274h4v4h-4zM410 274h8v4h-8zM438 274h8v4h-8zM450 274h8v4h-8zM258 278h4v4h-4zM406 278h16v4h-16zM434 278h8v4h-8zM458 278h4v4h-4zM158 282h8v4h-8zM262 282h4v4h-4zM386 282h4v4h-4zM402 282h4v4h-4zM422 282h4v4h-4zM430 282h4v4h-4zM462 282h4v4h-4zM102 286h8v4h-8zM158 286h8v4h-8zM266 286h4v4h-4zM462 286h4v4h-4zM154 290h8v4h-8zM270 290h4v4h-4zM466 290h4v4h-4zM126 294h8v4h-8zM158 294h4v4h-4zM278 294h4v4h-4zM130 298h8v4h-8zM154 298h4v4h-4zM286 298h8v4h-8zM474 298h4v4h-4zM130 302h4v4h-4zM154 302h4v4h-4zM474 302h4v4h-4zM138 306h4v4h-4zM394 306h4v4h-4zM478 306h4v4h-4zM150 310h4v4h-4zM294 310h4v4h-4zM486 310h12v4h-12zM146 314h4v4h-4zM158 314h4v4h-4zM290 314h4v4h-4zM150 318h4v4h-4zM162 318h4v4h-4zM282 318h4v4h-4zM510 318h4v4h-4zM154 322h4v4h-4zM278 322h4v4h-4zM510 322h4v4h-4zM278 326h4v4h-4zM510 326h4v4h-4zM158 330h4v4h-4zM158 334h4v4h-4zM506 338h4v4h-4zM142 342h4v4h-4zM146 346h4v4h-4zM502 346h4v4h-4zM158 350h4v4h-4zM174 350h4v4h-4zM502 350h4v4h-4zM162 354h4v4h-4zM166 358h8v4h-8zM162 362h4v4h-4zM170 362h8v4h-8zM190 362h4v4h-4zM502 362h4v4h-4zM178 366h4v4h-4zM502 366h4v4h-4zM174 370h4v4h-4zM498 370h4v4h-4zM498 374h4v4h-4zM182 378h12v4h-12zM494 378h8v4h-8zM538 378h8v4h-8zM490 382h12v4h-12zM534 382h16v4h-16zM198 386h4v4h-4zM490 386h12v4h-12zM530 386h4v4h-4zM550 386h4v4h-4zM490 390h16v4h-16zM526 390h8v4h-8zM294 394h4v4h-4zM486 394h16v4h-16zM526 394h28v4h-28zM218 398h4v4h-4zM478 398h20v4h-20zM474 402h16v4h-16zM242 406h4v4h-4zM470 406h12v4h-12zM462 410h16v4h-16zM458 414h16v4h-16zM454 418h20v4h-20zM450 422h20v4h-20zM446 426h24v4h-24zM278 430h4v4h-4zM438 430h28v4h-28zM434 434h16v4h-16zM270 438h4v4h-4zM278 438h4v4h-4zM426 438h16v4h-16zM274 442h4v4h-4zM422 442h16v4h-16zM422 446h12v4h-12zM418 450h12v4h-12zM366 454h20v4h-20zM390 454h12v4h-12zM414 454h12v4h-12zM362 458h8v4h-8zM382 458h40v4h-40zM358 462h8v4h-8zM322 466h28v4h-28zM354 466h12v4h-12zM318 470h8v4h-8zM338 470h24v4h-24zM318 474h4v4h-4zM350 474h12v4h-12zM318 478h4v4h-4zM354 478h4v4h-4zM314 482h4v4h-4zM314 486h4v4h-4zM302 490h12v4h-12zM282 494h4v4h-4zM230 502h20v4h-20zM270 502h8v4h-8zM242 506h4v4h-4zM270 506h4v4h-4zM270 510h4v4h-4zM270 514h4v4h-4zM274 518h4v4h-4zM274 522h4v4h-4zM238 526h20v4h-20zM266 526h8v4h-8zM238 530h12v4h-12zM254 530h16v4h-16zM234 534h8v4h-8zM234 538h4v4h-4zM226 542h12v4h-12zM210 546h24v4h-24zM210 550h16v4h-16zM210 554h12v4h-12zM214 558h8v4h-8z"/>
<path fill="#f7ff08" d="M546 66h4v4h-4zM538 70h12v4h-12zM566 70h8v4h-8zM578 70h12v4h-12zM534 74h12v4h-12zM550 74h4v4h-4zM562 74h24v4h-24zM526 78h60v4h-60zM522 82h8v4h-8zM546 82h40v4h-40zM506 86h8v4h-8zM518 86h4v4h-4zM570 86h16v4h-16zM502 90h4v4h-4zM514 90h4v4h-4zM574 90h12v4h-12zM502 94h4v4h-4zM578 94h12v4h-12zM458 98h4v4h-4zM502 98h4v4h-4zM582 98h8v4h-8zM458 102h4v4h-4zM502 102h4v4h-4zM582 102h8v4h-8zM454 106h8v4h-8zM502 106h4v4h-4zM582 106h8v4h-8zM66 110h4v4h-4zM454 110h4v4h-4zM502 110h4v4h-4zM582 110h12v4h-12zM66 114h12v4h-12zM454 114h4v4h-4zM494 114h16v4h-16zM582 114h12v4h-12zM66 118h16v4h-16zM450 118h4v4h-4zM462 118h4v4h-4zM474 118h36v4h-36zM586 118h8v4h-8zM66 122h20v4h-20zM470 122h44v4h-44zM586 122h8v4h-8zM74 126h16v4h-16zM494 126h40v4h-40zM586 126h8v4h-8zM78 130h16v4h-16zM450 130h4v4h-4zM506 130h32v4h-32zM586 130h8v4h-8zM82 134h16v4h-16zM286 134h12v4h-12zM450 134h4v4h-4zM510 134h28v4h-28zM586 134h8v4h-8zM86 138h16v4h-16zM294 138h12v4h-12zM514 138h20v4h-20zM586 138h8v4h-8zM90 142h16v4h-16zM306 142h8v4h-8zM446 142h4v4h-4zM518 142h12v4h-12zM586 142h4v4h-4zM94 146h16v4h-16zM318 146h24v4h-24zM582 146h4v4h-4zM98 150h16v4h-16zM330 150h8v4h-8zM346 150h4v4h-4zM442 150h4v4h-4zM582 150h4v4h-4zM102 154h16v4h-16zM358 154h8v4h-8zM434 154h8v4h-8zM518 154h8v4h-8zM106 158h16v4h-16zM370 158h12v4h-12zM410 158h12v4h-12zM514 158h16v4h-16zM582 158h4v4h-4zM114 162h16v4h-16zM510 162h8v4h-8zM530 162h8v4h-8zM574 162h4v4h-4zM118 166h16v4h-16zM506 166h4v4h-4zM542 166h8v4h-8zM570 166h4v4h-4zM122 170h16v4h-16zM502 170h4v4h-4zM558 170h8v4h-8zM126 174h20v4h-20zM498 174h4v4h-4zM130 178h20v4h-20zM498 178h4v4h-4zM134 182h20v4h-20zM494 182h8v4h-8zM142 186h20v4h-20zM494 186h4v4h-4zM146 190h20v4h-20zM490 190h8v4h-8zM150 194h20v4h-20zM490 194h4v4h-4zM158 198h16v4h-16zM490 198h8v4h-8zM162 202h16v4h-16zM494 202h4v4h-4zM166 206h16v4h-16zM494 206h8v4h-8zM170 210h16v4h-16zM494 210h4v4h-4zM174 214h4v4h-4zM182 214h8v4h-8zM490 214h4v4h-4zM186 218h8v4h-8zM478 218h8v4h-8zM194 222h4v4h-4zM470 222h8v4h-8zM198 226h8v4h-8zM462 226h8v4h-8zM202 230h12v4h-12zM458 230h4v4h-4zM210 234h4v4h-4zM454 234h4v4h-4zM206 238h4v4h-4zM214 238h8v4h-8zM450 238h4v4h-4zM210 242h4v4h-4zM218 242h8v4h-8zM446 242h4v4h-4zM214 246h16v4h-16zM442 246h4v4h-4zM222 250h12v4h-12zM442 250h4v4h-4zM234 254h4v4h-4zM438 254h4v4h-4zM238 258h4v4h-4zM430 258h8v4h-8zM142 262h4v4h-4zM242 262h4v4h-4zM426 262h4v4h-4zM142 266h8v4h-8zM414 266h8v4h-8zM146 270h12v4h-12zM250 270h4v4h-4zM390 270h4v4h-4zM146 274h8v4h-8zM446 274h4v4h-4zM138 278h8v4h-8zM150 278h12v4h-12zM442 278h16v4h-16zM94 282h4v4h-4zM142 282h8v4h-8zM154 282h4v4h-4zM382 282h4v4h-4zM406 282h4v4h-4zM418 282h4v4h-4zM434 282h8v4h-8zM454 282h8v4h-8zM98 286h4v4h-4zM138 286h4v4h-4zM150 286h8v4h-8zM390 286h12v4h-12zM426 286h4v4h-4zM142 290h4v4h-4zM150 290h4v4h-4zM462 290h4v4h-4zM154 294h4v4h-4zM282 294h4v4h-4zM466 294h4v4h-4zM126 298h4v4h-4zM158 298h4v4h-4zM294 298h4v4h-4zM470 298h4v4h-4zM298 302h4v4h-4zM470 302h4v4h-4zM134 306h4v4h-4zM470 306h8v4h-8zM138 310h8v4h-8zM298 310h4v4h-4zM478 310h8v4h-8zM126 314h4v4h-4zM142 314h4v4h-4zM294 314h4v4h-4zM506 314h4v4h-4zM146 318h4v4h-4zM286 318h4v4h-4zM142 322h4v4h-4zM282 322h4v4h-4zM150 326h4v4h-4zM158 326h4v4h-4zM150 330h8v4h-8zM162 330h4v4h-4zM278 330h4v4h-4zM154 334h4v4h-4zM506 334h4v4h-4zM158 338h8v4h-8zM166 342h4v4h-4zM502 342h4v4h-4zM150 346h4v4h-4zM170 346h4v4h-4zM154 350h4v4h-4zM278 350h4v4h-4zM158 354h4v4h-4zM178 354h4v4h-4zM498 354h4v4h-4zM154 358h4v4h-4zM498 358h4v4h-4zM158 362h4v4h-4zM498 362h4v4h-4zM166 366h4v4h-4zM174 366h4v4h-4zM494 366h8v4h-8zM170 370h4v4h-4zM178 370h8v4h-8zM494 370h4v4h-4zM174 374h8v4h-8zM186 374h4v4h-4zM490 374h8v4h-8zM486 378h8v4h-8zM186 382h8v4h-8zM486 382h4v4h-4zM194 386h4v4h-4zM482 386h8v4h-8zM534 386h16v4h-16zM202 390h4v4h-4zM294 390h4v4h-4zM478 390h12v4h-12zM534 390h20v4h-20zM210 394h4v4h-4zM474 394h12v4h-12zM266 398h4v4h-4zM470 398h8v4h-8zM230 402h4v4h-4zM462 402h12v4h-12zM254 406h4v4h-4zM458 406h12v4h-12zM454 410h8v4h-8zM446 414h12v4h-12zM442 418h12v4h-12zM438 422h12v4h-12zM274 426h4v4h-4zM430 426h16v4h-16zM426 430h12v4h-12zM422 434h12v4h-12zM410 438h16v4h-16zM278 442h4v4h-4zM406 442h16v4h-16zM406 446h16v4h-16zM366 450h16v4h-16zM394 450h24v4h-24zM358 454h8v4h-8zM386 454h4v4h-4zM402 454h12v4h-12zM354 458h8v4h-8zM322 462h36v4h-36zM318 466h4v4h-4zM350 466h4v4h-4zM314 470h4v4h-4zM314 474h4v4h-4zM310 478h8v4h-8zM306 482h8v4h-8zM302 486h12v4h-12zM286 490h16v4h-16zM230 498h20v4h-20zM274 498h4v4h-4zM250 502h4v4h-4zM230 506h12v4h-12zM246 506h8v4h-8zM266 506h4v4h-4zM266 510h4v4h-4zM266 514h4v4h-4zM266 518h8v4h-8zM238 522h16v4h-16zM262 522h12v4h-12zM234 526h4v4h-4zM258 526h8v4h-8zM234 530h4v4h-4zM230 534h4v4h-4zM218 538h16v4h-16zM210 542h16v4h-16zM206 546h4v4h-4zM206 550h4v4h-4zM206 554h4v4h-4zM206 558h8v4h-8z"/>
<path fill="#fff700" d="M530 82h16v4h-16zM522 86h8v4h-8zM538 86h32v4h-32zM506 90h8v4h-8zM518 90h4v4h-4zM542 90h32v4h-32zM506 94h8v4h-8zM550 94h28v4h-28zM506 98h4v4h-4zM554 98h28v4h-28zM506 102h4v4h-4zM562 102h20v4h-20zM506 106h8v4h-8zM566 106h16v4h-16zM506 110h8v4h-8zM574 110h8v4h-8zM510 114h8v4h-8zM574 114h8v4h-8zM454 118h8v4h-8zM510 118h24v4h-24zM578 118h8v4h-8zM450 122h4v4h-4zM458 122h8v4h-8zM514 122h32v4h-32zM582 122h4v4h-4zM450 126h4v4h-4zM466 126h28v4h-28zM534 126h16v4h-16zM578 126h8v4h-8zM66 130h8v4h-8zM482 130h24v4h-24zM538 130h8v4h-8zM582 130h4v4h-4zM66 134h12v4h-12zM482 134h28v4h-28zM538 134h8v4h-8zM582 134h4v4h-4zM66 138h16v4h-16zM450 138h4v4h-4zM490 138h24v4h-24zM534 138h8v4h-8zM582 138h4v4h-4zM74 142h12v4h-12zM302 142h4v4h-4zM498 142h20v4h-20zM530 142h8v4h-8zM582 142h4v4h-4zM78 146h12v4h-12zM310 146h8v4h-8zM446 146h4v4h-4zM502 146h32v4h-32zM82 150h12v4h-12zM318 150h12v4h-12zM338 150h8v4h-8zM446 150h4v4h-4zM506 150h28v4h-28zM90 154h12v4h-12zM334 154h8v4h-8zM346 154h12v4h-12zM442 154h4v4h-4zM506 154h12v4h-12zM526 154h8v4h-8zM578 154h4v4h-4zM94 158h12v4h-12zM358 158h4v4h-4zM422 158h20v4h-20zM506 158h8v4h-8zM530 158h4v4h-4zM578 158h4v4h-4zM98 162h12v4h-12zM390 162h4v4h-4zM502 162h8v4h-8zM538 162h4v4h-4zM106 166h8v4h-8zM502 166h4v4h-4zM550 166h4v4h-4zM566 166h4v4h-4zM110 170h8v4h-8zM498 170h4v4h-4zM118 174h8v4h-8zM122 178h8v4h-8zM494 178h4v4h-4zM126 182h8v4h-8zM490 182h4v4h-4zM134 186h8v4h-8zM490 186h4v4h-4zM138 190h8v4h-8zM142 194h8v4h-8zM150 198h8v4h-8zM486 198h4v4h-4zM158 202h4v4h-4zM490 202h4v4h-4zM162 206h4v4h-4zM490 206h4v4h-4zM490 210h4v4h-4zM178 214h4v4h-4zM190 214h4v4h-4zM474 214h16v4h-16zM182 218h4v4h-4zM194 218h4v4h-4zM470 218h8v4h-8zM186 222h8v4h-8zM198 222h4v4h-4zM462 222h8v4h-8zM194 226h4v4h-4zM454 226h8v4h-8zM198 230h4v4h-4zM450 230h8v4h-8zM202 234h4v4h-4zM214 234h4v4h-4zM450 234h4v4h-4zM446 238h4v4h-4zM442 242h4v4h-4zM438 246h4v4h-4zM438 250h4v4h-4zM130 254h4v4h-4zM434 254h4v4h-4zM134 258h4v4h-4zM426 258h4v4h-4zM122 262h4v4h-4zM134 262h8v4h-8zM418 262h8v4h-8zM126 266h4v4h-4zM150 266h4v4h-4zM398 266h16v4h-16zM134 270h12v4h-12zM386 270h4v4h-4zM138 274h8v4h-8zM82 278h12v4h-12zM134 278h4v4h-4zM146 278h4v4h-4zM382 278h4v4h-4zM86 282h8v4h-8zM98 282h4v4h-4zM138 282h4v4h-4zM150 282h4v4h-4zM410 282h8v4h-8zM442 282h12v4h-12zM110 286h4v4h-4zM134 286h4v4h-4zM146 286h4v4h-4zM386 286h4v4h-4zM422 286h4v4h-4zM430 286h8v4h-8zM446 286h16v4h-16zM146 290h4v4h-4zM274 290h8v4h-8zM450 290h12v4h-12zM110 294h4v4h-4zM138 294h4v4h-4zM150 294h4v4h-4zM286 294h4v4h-4zM462 294h4v4h-4zM114 298h4v4h-4zM122 298h4v4h-4zM142 298h4v4h-4zM150 298h4v4h-4zM466 298h4v4h-4zM118 302h8v4h-8zM390 302h8v4h-8zM466 302h4v4h-4zM122 306h4v4h-4zM390 306h4v4h-4zM398 306h4v4h-4zM466 306h4v4h-4zM134 310h4v4h-4zM394 310h8v4h-8zM474 310h4v4h-4zM490 314h16v4h-16zM130 318h8v4h-8zM290 318h4v4h-4zM506 318h4v4h-4zM134 322h8v4h-8zM150 322h4v4h-4zM506 322h4v4h-4zM146 326h4v4h-4zM154 326h4v4h-4zM282 326h4v4h-4zM506 326h4v4h-4zM506 330h4v4h-4zM278 334h4v4h-4zM278 338h4v4h-4zM502 338h4v4h-4zM162 342h4v4h-4zM166 346h4v4h-4zM278 346h4v4h-4zM498 346h4v4h-4zM150 350h4v4h-4zM170 350h4v4h-4zM498 350h4v4h-4zM154 354h4v4h-4zM174 354h4v4h-4zM158 358h8v4h-8zM182 358h4v4h-4zM494 358h4v4h-4zM166 362h4v4h-4zM186 362h4v4h-4zM494 362h4v4h-4zM162 366h4v4h-4zM490 366h4v4h-4zM486 370h8v4h-8zM182 374h4v4h-4zM482 374h8v4h-8zM482 378h4v4h-4zM478 382h8v4h-8zM474 386h8v4h-8zM470 390h8v4h-8zM462 394h12v4h-12zM458 398h12v4h-12zM222 402h8v4h-8zM454 402h8v4h-8zM238 406h4v4h-4zM446 406h12v4h-12zM438 410h16v4h-16zM430 414h16v4h-16zM430 418h12v4h-12zM426 422h12v4h-12zM278 426h4v4h-4zM422 426h8v4h-8zM270 430h4v4h-4zM418 430h8v4h-8zM282 434h4v4h-4zM410 434h12v4h-12zM282 438h4v4h-4zM406 438h4v4h-4zM282 442h4v4h-4zM402 442h4v4h-4zM374 446h4v4h-4zM394 446h12v4h-12zM362 450h4v4h-4zM382 450h12v4h-12zM354 454h4v4h-4zM342 458h12v4h-12zM318 462h4v4h-4zM310 466h8v4h-8zM306 470h8v4h-8zM306 474h8v4h-8zM302 478h8v4h-8zM302 482h4v4h-4zM294 486h8v4h-8zM282 490h4v4h-4zM234 494h16v4h-16zM278 494h4v4h-4zM226 498h4v4h-4zM250 498h4v4h-4zM226 502h4v4h-4zM254 502h4v4h-4zM266 502h4v4h-4zM226 506h4v4h-4zM254 506h4v4h-4zM262 506h4v4h-4zM226 510h12v4h-12zM242 510h12v4h-12zM262 510h4v4h-4zM230 514h8v4h-8zM242 514h8v4h-8zM262 514h4v4h-4zM230 518h20v4h-20zM258 518h8v4h-8zM230 522h8v4h-8zM254 522h8v4h-8zM226 526h8v4h-8zM226 530h8v4h-8zM218 534h12v4h-12zM210 538h8v4h-8zM206 542h4v4h-4zM202 550h4v4h-4zM202 554h4v4h-4zM202 558h4v4h-4z"/>
<path fill="#ffe700" d="M530 86h8v4h-8zM522 90h4v4h-4zM534 90h8v4h-8zM514 94h8v4h-8zM538 94h12v4h-12zM510 98h8v4h-8zM542 98h12v4h-12zM510 102h4v4h-4zM542 102h20v4h-20zM514 106h4v4h-4zM542 106h24v4h-24zM514 110h60v4h-60zM518 114h56v4h-56zM534 118h44v4h-44zM454 122h4v4h-4zM546 122h36v4h-36zM454 126h12v4h-12zM550 126h12v4h-12zM570 126h8v4h-8zM454 130h4v4h-4zM474 130h8v4h-8zM546 130h8v4h-8zM574 130h8v4h-8zM454 134h4v4h-4zM478 134h4v4h-4zM546 134h8v4h-8zM574 134h8v4h-8zM478 138h12v4h-12zM542 138h8v4h-8zM578 138h4v4h-4zM450 142h4v4h-4zM482 142h16v4h-16zM538 142h4v4h-4zM578 142h4v4h-4zM450 146h4v4h-4zM486 146h16v4h-16zM534 146h4v4h-4zM578 146h4v4h-4zM494 150h12v4h-12zM534 150h4v4h-4zM578 150h4v4h-4zM322 154h12v4h-12zM342 154h4v4h-4zM446 154h4v4h-4zM498 154h8v4h-8zM534 154h4v4h-4zM346 158h12v4h-12zM362 158h8v4h-8zM442 158h8v4h-8zM498 158h8v4h-8zM534 158h4v4h-4zM574 158h4v4h-4zM366 162h24v4h-24zM394 162h52v4h-52zM498 162h4v4h-4zM542 162h4v4h-4zM570 162h4v4h-4zM498 166h4v4h-4zM554 166h12v4h-12zM494 170h4v4h-4zM494 174h4v4h-4zM438 178h4v4h-4zM478 178h4v4h-4zM490 178h4v4h-4zM442 182h4v4h-4zM486 182h4v4h-4zM486 186h4v4h-4zM486 190h4v4h-4zM486 194h4v4h-4zM482 198h4v4h-4zM486 202h4v4h-4zM482 210h8v4h-8zM466 214h8v4h-8zM462 218h8v4h-8zM454 222h8v4h-8zM450 226h4v4h-4zM66 234h4v4h-4zM446 234h4v4h-4zM66 238h4v4h-4zM442 238h4v4h-4zM438 242h4v4h-4zM134 246h4v4h-4zM434 246h4v4h-4zM134 250h8v4h-8zM434 250h4v4h-4zM122 254h8v4h-8zM138 254h8v4h-8zM430 254h4v4h-4zM114 258h4v4h-4zM126 258h8v4h-8zM142 258h4v4h-4zM422 258h4v4h-4zM86 262h4v4h-4zM118 262h4v4h-4zM130 262h4v4h-4zM146 262h4v4h-4zM410 262h8v4h-8zM122 266h4v4h-4zM130 266h12v4h-12zM390 266h8v4h-8zM126 270h8v4h-8zM74 274h4v4h-4zM130 274h8v4h-8zM382 274h4v4h-4zM130 278h4v4h-4zM262 278h4v4h-4zM130 282h8v4h-8zM266 282h8v4h-8zM94 286h4v4h-4zM142 286h4v4h-4zM270 286h12v4h-12zM382 286h4v4h-4zM402 286h4v4h-4zM418 286h4v4h-4zM438 286h8v4h-8zM98 290h8v4h-8zM114 290h8v4h-8zM138 290h4v4h-4zM282 290h4v4h-4zM386 290h8v4h-8zM446 290h4v4h-4zM118 294h8v4h-8zM134 294h4v4h-4zM142 294h8v4h-8zM290 294h4v4h-4zM446 294h16v4h-16zM110 298h4v4h-4zM118 298h4v4h-4zM146 298h4v4h-4zM462 298h4v4h-4zM126 302h4v4h-4zM114 306h8v4h-8zM126 306h8v4h-8zM302 306h4v4h-4zM118 310h4v4h-4zM126 310h8v4h-8zM470 310h4v4h-4zM138 314h4v4h-4zM298 314h4v4h-4zM478 314h12v4h-12zM142 318h4v4h-4zM502 318h4v4h-4zM146 322h4v4h-4zM286 322h4v4h-4zM142 326h4v4h-4zM146 330h4v4h-4zM282 330h4v4h-4zM150 334h4v4h-4zM502 334h4v4h-4zM154 338h4v4h-4zM278 342h4v4h-4zM494 354h4v4h-4zM178 358h4v4h-4zM490 358h4v4h-4zM490 362h4v4h-4zM486 366h4v4h-4zM482 370h4v4h-4zM478 374h4v4h-4zM474 378h8v4h-8zM470 382h8v4h-8zM466 386h8v4h-8zM458 390h12v4h-12zM454 394h8v4h-8zM294 398h4v4h-4zM446 398h12v4h-12zM438 402h16v4h-16zM258 406h4v4h-4zM430 406h16v4h-16zM426 410h12v4h-12zM422 414h8v4h-8zM422 418h8v4h-8zM422 422h4v4h-4zM414 426h8v4h-8zM282 430h4v4h-4zM410 430h8v4h-8zM402 434h8v4h-8zM286 438h4v4h-4zM398 438h8v4h-8zM270 442h4v4h-4zM286 442h4v4h-4zM394 442h8v4h-8zM278 446h8v4h-8zM362 446h12v4h-12zM378 446h16v4h-16zM358 450h4v4h-4zM350 454h4v4h-4zM318 458h24v4h-24zM310 462h8v4h-8zM306 466h4v4h-4zM302 470h4v4h-4zM302 474h4v4h-4zM298 478h4v4h-4zM294 482h8v4h-8zM286 486h8v4h-8zM234 490h12v4h-12zM226 494h8v4h-8zM250 494h4v4h-4zM254 498h4v4h-4zM270 498h4v4h-4zM222 502h4v4h-4zM258 502h8v4h-8zM222 506h4v4h-4zM258 506h4v4h-4zM222 510h4v4h-4zM238 510h4v4h-4zM254 510h8v4h-8zM226 514h4v4h-4zM238 514h4v4h-4zM250 514h4v4h-4zM258 514h4v4h-4zM222 518h8v4h-8zM250 518h8v4h-8zM222 522h8v4h-8zM218 526h8v4h-8zM214 530h12v4h-12zM210 534h8v4h-8zM206 538h4v4h-4zM202 542h4v4h-4zM202 546h4v4h-4zM198 550h4v4h-4zM198 554h4v4h-4zM198 558h4v4h-4z"/>
<path fill="#ffd700" d="M526 90h8v4h-8zM522 94h4v4h-4zM534 94h4v4h-4zM518 98h8v4h-8zM534 98h8v4h-8zM514 102h28v4h-28zM518 106h24v4h-24zM562 126h8v4h-8zM458 130h16v4h-16zM554 130h20v4h-20zM470 134h8v4h-8zM554 134h8v4h-8zM566 134h8v4h-8zM454 138h4v4h-4zM474 138h4v4h-4zM550 138h4v4h-4zM574 138h4v4h-4zM454 142h4v4h-4zM474 142h8v4h-8zM542 142h12v4h-12zM574 142h4v4h-4zM454 146h4v4h-4zM478 146h8v4h-8zM538 146h4v4h-4zM574 146h4v4h-4zM450 150h8v4h-8zM478 150h16v4h-16zM538 150h4v4h-4zM450 154h8v4h-8zM478 154h20v4h-20zM538 154h4v4h-4zM334 158h12v4h-12zM450 158h8v4h-8zM482 158h8v4h-8zM494 158h4v4h-4zM538 158h4v4h-4zM358 162h8v4h-8zM446 162h12v4h-12zM494 162h4v4h-4zM546 162h4v4h-4zM566 162h4v4h-4zM370 166h32v4h-32zM430 166h32v4h-32zM494 166h4v4h-4zM442 170h24v4h-24zM490 170h4v4h-4zM438 174h24v4h-24zM490 174h4v4h-4zM434 178h4v4h-4zM442 178h4v4h-4zM474 178h4v4h-4zM482 178h8v4h-8zM438 182h4v4h-4zM446 182h4v4h-4zM478 182h8v4h-8zM438 186h12v4h-12zM98 202h4v4h-4zM482 202h4v4h-4zM102 206h4v4h-4zM486 206h4v4h-4zM102 210h8v4h-8zM470 210h12v4h-12zM106 214h8v4h-8zM462 214h4v4h-4zM106 218h12v4h-12zM454 218h8v4h-8zM110 222h8v4h-8zM450 222h4v4h-4zM114 226h8v4h-8zM446 226h4v4h-4zM118 230h8v4h-8zM446 230h4v4h-4zM122 234h4v4h-4zM442 234h4v4h-4zM118 238h12v4h-12zM438 238h4v4h-4zM66 242h8v4h-8zM122 242h12v4h-12zM434 242h4v4h-4zM66 246h4v4h-4zM74 246h4v4h-4zM126 246h8v4h-8zM66 250h8v4h-8zM78 250h4v4h-4zM94 250h4v4h-4zM102 250h4v4h-4zM118 250h4v4h-4zM126 250h8v4h-8zM430 250h4v4h-4zM98 254h16v4h-16zM134 254h4v4h-4zM426 254h4v4h-4zM102 258h12v4h-12zM138 258h4v4h-4zM242 258h4v4h-4zM414 258h8v4h-8zM106 262h12v4h-12zM126 262h4v4h-4zM246 262h4v4h-4zM402 262h8v4h-8zM90 266h8v4h-8zM110 266h12v4h-12zM250 266h8v4h-8zM114 270h12v4h-12zM254 270h12v4h-12zM118 274h12v4h-12zM258 274h12v4h-12zM78 278h4v4h-4zM118 278h4v4h-4zM126 278h4v4h-4zM266 278h12v4h-12zM274 282h8v4h-8zM378 282h4v4h-4zM126 286h8v4h-8zM282 286h4v4h-4zM406 286h4v4h-4zM414 286h4v4h-4zM90 290h4v4h-4zM122 290h16v4h-16zM286 290h4v4h-4zM394 290h4v4h-4zM438 290h8v4h-8zM94 294h4v4h-4zM106 294h4v4h-4zM390 294h4v4h-4zM98 298h8v4h-8zM390 298h4v4h-4zM450 298h12v4h-12zM106 302h4v4h-4zM114 302h4v4h-4zM386 302h4v4h-4zM462 302h4v4h-4zM110 306h4v4h-4zM386 306h4v4h-4zM122 310h4v4h-4zM302 310h4v4h-4zM390 310h4v4h-4zM466 310h4v4h-4zM122 314h4v4h-4zM130 314h8v4h-8zM474 314h4v4h-4zM126 318h4v4h-4zM138 318h4v4h-4zM294 318h4v4h-4zM502 322h4v4h-4zM286 326h4v4h-4zM502 326h4v4h-4zM142 330h4v4h-4zM502 330h4v4h-4zM282 334h4v4h-4zM158 342h4v4h-4zM498 342h4v4h-4zM162 346h4v4h-4zM494 350h4v4h-4zM490 354h4v4h-4zM274 358h4v4h-4zM486 358h4v4h-4zM482 362h8v4h-8zM478 366h8v4h-8zM474 370h8v4h-8zM470 374h8v4h-8zM466 378h8v4h-8zM458 382h12v4h-12zM450 386h16v4h-16zM442 390h16v4h-16zM206 394h4v4h-4zM434 394h20v4h-20zM214 398h4v4h-4zM430 398h16v4h-16zM266 402h4v4h-4zM426 402h12v4h-12zM234 406h4v4h-4zM422 406h8v4h-8zM246 410h4v4h-4zM422 410h4v4h-4zM418 414h4v4h-4zM418 418h4v4h-4zM282 422h4v4h-4zM414 422h8v4h-8zM282 426h4v4h-4zM406 426h8v4h-8zM402 430h8v4h-8zM286 434h4v4h-4zM398 434h4v4h-4zM290 438h4v4h-4zM394 438h4v4h-4zM290 442h8v4h-8zM362 442h24v4h-24zM390 442h4v4h-4zM286 446h12v4h-12zM358 446h4v4h-4zM286 450h12v4h-12zM354 450h4v4h-4zM294 454h16v4h-16zM342 454h8v4h-8zM298 458h20v4h-20zM298 462h12v4h-12zM298 466h8v4h-8zM298 470h4v4h-4zM298 474h4v4h-4zM294 478h4v4h-4zM238 486h8v4h-8zM230 490h4v4h-4zM246 490h4v4h-4zM222 498h4v4h-4zM258 498h4v4h-4zM218 502h4v4h-4zM66 506h4v4h-4zM218 506h4v4h-4zM66 510h4v4h-4zM214 510h8v4h-8zM66 514h8v4h-8zM218 514h8v4h-8zM254 514h4v4h-4zM66 518h8v4h-8zM214 518h8v4h-8zM66 522h12v4h-12zM214 522h8v4h-8zM66 526h12v4h-12zM214 526h4v4h-4zM66 530h16v4h-16zM210 530h4v4h-4zM66 534h12v4h-12zM206 534h4v4h-4zM66 538h12v4h-12zM202 538h4v4h-4zM66 542h12v4h-12zM198 542h4v4h-4zM66 546h4v4h-4zM198 546h4v4h-4zM194 550h4v4h-4zM194 554h4v4h-4zM194 558h4v4h-4z"/>
<path fill="#ffc700" d="M74 46h16v4h-16zM82 50h12v4h-12zM86 54h12v4h-12zM90 58h12v4h-12zM98 62h4v4h-4zM102 66h4v4h-4zM526 94h8v4h-8zM526 98h8v4h-8zM458 134h12v4h-12zM562 134h4v4h-4zM458 138h16v4h-16zM554 138h8v4h-8zM566 138h8v4h-8zM458 142h16v4h-16zM570 142h4v4h-4zM458 146h20v4h-20zM542 146h8v4h-8zM458 150h20v4h-20zM542 150h4v4h-4zM574 150h4v4h-4zM458 154h20v4h-20zM574 154h4v4h-4zM458 158h24v4h-24zM490 158h4v4h-4zM542 158h4v4h-4zM570 158h4v4h-4zM342 162h16v4h-16zM458 162h36v4h-36zM550 162h16v4h-16zM358 166h12v4h-12zM402 166h28v4h-28zM462 166h32v4h-32zM378 170h20v4h-20zM434 170h8v4h-8zM466 170h16v4h-16zM486 170h4v4h-4zM434 174h4v4h-4zM462 174h20v4h-20zM486 174h4v4h-4zM446 178h28v4h-28zM434 182h4v4h-4zM450 182h16v4h-16zM474 182h4v4h-4zM434 186h4v4h-4zM450 186h8v4h-8zM482 186h4v4h-4zM86 190h4v4h-4zM482 190h4v4h-4zM86 194h12v4h-12zM482 194h4v4h-4zM90 198h12v4h-12zM94 202h4v4h-4zM74 206h4v4h-4zM82 206h4v4h-4zM98 206h4v4h-4zM478 206h8v4h-8zM78 210h16v4h-16zM462 210h8v4h-8zM82 214h24v4h-24zM454 214h8v4h-8zM86 218h20v4h-20zM450 218h4v4h-4zM90 222h20v4h-20zM446 222h4v4h-4zM98 226h16v4h-16zM102 230h16v4h-16zM442 230h4v4h-4zM110 234h12v4h-12zM218 234h4v4h-4zM438 234h4v4h-4zM70 238h4v4h-4zM114 238h4v4h-4zM222 238h8v4h-8zM74 242h4v4h-4zM114 242h8v4h-8zM226 242h12v4h-12zM242 242h4v4h-4zM114 246h12v4h-12zM230 246h12v4h-12zM246 246h8v4h-8zM430 246h4v4h-4zM98 250h4v4h-4zM122 250h4v4h-4zM234 250h24v4h-24zM426 250h4v4h-4zM78 254h4v4h-4zM238 254h24v4h-24zM418 254h8v4h-8zM82 258h4v4h-4zM118 258h8v4h-8zM246 258h20v4h-20zM410 258h4v4h-4zM102 262h4v4h-4zM250 262h20v4h-20zM394 262h8v4h-8zM86 266h4v4h-4zM258 266h16v4h-16zM386 266h4v4h-4zM86 270h12v4h-12zM266 270h12v4h-12zM382 270h4v4h-4zM78 274h16v4h-16zM270 274h12v4h-12zM122 278h4v4h-4zM278 278h4v4h-4zM378 278h4v4h-4zM78 282h4v4h-4zM102 282h4v4h-4zM122 282h8v4h-8zM282 282h4v4h-4zM82 286h4v4h-4zM90 286h4v4h-4zM122 286h4v4h-4zM286 286h4v4h-4zM378 286h4v4h-4zM410 286h4v4h-4zM290 290h4v4h-4zM382 290h4v4h-4zM426 290h12v4h-12zM102 294h4v4h-4zM294 294h4v4h-4zM386 294h4v4h-4zM442 294h4v4h-4zM298 298h4v4h-4zM386 298h4v4h-4zM394 298h4v4h-4zM446 298h4v4h-4zM302 302h4v4h-4zM398 302h4v4h-4zM458 302h4v4h-4zM102 306h4v4h-4zM462 306h4v4h-4zM106 310h4v4h-4zM402 310h4v4h-4zM470 314h4v4h-4zM482 318h20v4h-20zM290 322h4v4h-4zM138 326h4v4h-4zM146 334h4v4h-4zM498 334h4v4h-4zM150 338h4v4h-4zM498 338h4v4h-4zM494 346h4v4h-4zM166 350h4v4h-4zM490 350h4v4h-4zM486 354h4v4h-4zM482 358h4v4h-4zM474 362h8v4h-8zM470 366h8v4h-8zM462 370h12v4h-12zM458 374h12v4h-12zM446 378h20v4h-20zM434 382h24v4h-24zM430 386h20v4h-20zM426 390h16v4h-16zM290 394h4v4h-4zM426 394h8v4h-8zM422 398h8v4h-8zM422 402h4v4h-4zM418 406h4v4h-4zM250 410h4v4h-4zM418 410h4v4h-4zM414 414h4v4h-4zM282 418h4v4h-4zM414 418h4v4h-4zM278 422h4v4h-4zM302 422h8v4h-8zM406 422h8v4h-8zM398 426h8v4h-8zM306 430h4v4h-4zM394 430h8v4h-8zM266 434h4v4h-4zM370 434h4v4h-4zM386 434h12v4h-12zM294 438h8v4h-8zM362 438h4v4h-4zM370 438h24v4h-24zM298 442h8v4h-8zM354 442h8v4h-8zM386 442h4v4h-4zM274 446h4v4h-4zM298 446h8v4h-8zM354 446h4v4h-4zM282 450h4v4h-4zM298 450h12v4h-12zM350 450h4v4h-4zM286 454h8v4h-8zM310 454h20v4h-20zM338 454h4v4h-4zM290 458h8v4h-8zM290 462h8v4h-8zM294 466h4v4h-4zM294 470h4v4h-4zM66 474h4v4h-4zM294 474h4v4h-4zM66 478h8v4h-8zM290 478h4v4h-4zM66 482h8v4h-8zM238 482h8v4h-8zM290 482h4v4h-4zM66 486h8v4h-8zM230 486h8v4h-8zM246 486h4v4h-4zM282 486h4v4h-4zM66 490h16v4h-16zM226 490h4v4h-4zM250 490h4v4h-4zM278 490h4v4h-4zM66 494h16v4h-16zM218 494h8v4h-8zM254 494h4v4h-4zM274 494h4v4h-4zM66 498h16v4h-16zM214 498h8v4h-8zM262 498h8v4h-8zM66 502h16v4h-16zM210 502h8v4h-8zM70 506h12v4h-12zM210 506h8v4h-8zM70 510h12v4h-12zM206 510h8v4h-8zM74 514h12v4h-12zM206 514h12v4h-12zM74 518h12v4h-12zM206 518h8v4h-8zM78 522h12v4h-12zM206 522h8v4h-8zM78 526h12v4h-12zM206 526h8v4h-8zM82 530h12v4h-12zM206 530h4v4h-4zM78 534h16v4h-16zM202 534h4v4h-4zM78 538h16v4h-16zM198 538h4v4h-4zM78 542h12v4h-12zM70 546h16v4h-16zM194 546h4v4h-4zM66 550h20v4h-20zM190 550h4v4h-4zM66 554h16v4h-16zM190 554h4v4h-4zM66 558h12v4h-12zM186 558h8v4h-8z"/>
<path fill="#ffb700" d="M90 46h16v4h-16zM94 50h20v4h-20zM98 54h20v4h-20zM102 58h20v4h-20zM94 62h4v4h-4zM102 62h24v4h-24zM98 66h4v4h-4zM106 66h24v4h-24zM98 70h40v4h-40zM102 74h40v4h-40zM106 78h40v4h-40zM110 82h40v4h-40zM66 86h4v4h-4zM114 86h44v4h-44zM70 90h4v4h-4zM118 90h44v4h-44zM122 94h44v4h-44zM82 98h4v4h-4zM130 98h36v4h-36zM86 102h4v4h-4zM134 102h40v4h-40zM138 106h36v4h-36zM146 110h32v4h-32zM150 114h32v4h-32zM154 118h32v4h-32zM162 122h28v4h-28zM166 126h28v4h-28zM174 130h12v4h-12zM190 130h4v4h-4zM166 134h4v4h-4zM182 134h4v4h-4zM170 138h4v4h-4zM562 138h4v4h-4zM174 142h4v4h-4zM554 142h4v4h-4zM566 142h4v4h-4zM134 146h4v4h-4zM550 146h4v4h-4zM570 146h4v4h-4zM138 150h4v4h-4zM178 150h4v4h-4zM570 150h4v4h-4zM142 154h4v4h-4zM182 154h4v4h-4zM542 154h4v4h-4zM570 154h4v4h-4zM150 158h4v4h-4zM186 158h4v4h-4zM546 158h4v4h-4zM566 158h4v4h-4zM154 162h4v4h-4zM186 162h8v4h-8zM158 166h4v4h-4zM190 166h8v4h-8zM162 170h8v4h-8zM194 170h8v4h-8zM370 170h8v4h-8zM398 170h16v4h-16zM426 170h8v4h-8zM482 170h4v4h-4zM166 174h8v4h-8zM198 174h4v4h-4zM482 174h4v4h-4zM150 178h4v4h-4zM170 178h8v4h-8zM86 182h4v4h-4zM154 182h8v4h-8zM174 182h12v4h-12zM430 182h4v4h-4zM466 182h8v4h-8zM86 186h4v4h-4zM162 186h4v4h-4zM178 186h12v4h-12zM430 186h4v4h-4zM458 186h4v4h-4zM478 186h4v4h-4zM90 190h4v4h-4zM166 190h8v4h-8zM182 190h16v4h-16zM434 190h24v4h-24zM170 194h12v4h-12zM186 194h16v4h-16zM174 198h12v4h-12zM190 198h20v4h-20zM70 202h8v4h-8zM90 202h4v4h-4zM178 202h12v4h-12zM194 202h16v4h-16zM478 202h4v4h-4zM94 206h4v4h-4zM182 206h32v4h-32zM458 206h20v4h-20zM98 210h4v4h-4zM186 210h16v4h-16zM206 210h8v4h-8zM454 210h8v4h-8zM194 214h24v4h-24zM450 214h4v4h-4zM82 218h4v4h-4zM198 218h24v4h-24zM446 218h4v4h-4zM86 222h4v4h-4zM202 222h24v4h-24zM86 226h12v4h-12zM206 226h28v4h-28zM442 226h4v4h-4zM98 230h4v4h-4zM214 230h24v4h-24zM438 230h4v4h-4zM222 234h20v4h-20zM106 238h8v4h-8zM230 238h16v4h-16zM434 238h4v4h-4zM238 242h4v4h-4zM246 242h8v4h-8zM430 242h4v4h-4zM242 246h4v4h-4zM254 246h4v4h-4zM426 246h4v4h-4zM90 250h4v4h-4zM114 250h4v4h-4zM258 250h8v4h-8zM350 250h4v4h-4zM422 250h4v4h-4zM82 254h4v4h-4zM94 254h4v4h-4zM114 254h8v4h-8zM262 254h8v4h-8zM414 254h4v4h-4zM86 258h4v4h-4zM98 258h4v4h-4zM266 258h8v4h-8zM402 258h8v4h-8zM82 262h4v4h-4zM90 262h4v4h-4zM270 262h8v4h-8zM390 262h4v4h-4zM102 266h8v4h-8zM274 266h8v4h-8zM70 270h8v4h-8zM82 270h4v4h-4zM98 270h4v4h-4zM106 270h8v4h-8zM278 270h4v4h-4zM94 274h8v4h-8zM106 274h12v4h-12zM282 274h4v4h-4zM378 274h4v4h-4zM94 278h8v4h-8zM114 278h4v4h-4zM282 278h4v4h-4zM106 282h4v4h-4zM118 282h4v4h-4zM286 282h4v4h-4zM114 286h8v4h-8zM398 290h4v4h-4zM422 290h4v4h-4zM382 294h4v4h-4zM394 294h4v4h-4zM438 294h4v4h-4zM94 298h4v4h-4zM106 298h4v4h-4zM98 302h8v4h-8zM110 302h4v4h-4zM450 302h8v4h-8zM106 306h4v4h-4zM402 306h4v4h-4zM458 306h4v4h-4zM110 310h8v4h-8zM386 310h4v4h-4zM462 310h4v4h-4zM106 314h16v4h-16zM302 314h4v4h-4zM394 314h8v4h-8zM466 314h4v4h-4zM110 318h12v4h-12zM298 318h4v4h-4zM474 318h8v4h-8zM118 322h16v4h-16zM294 322h4v4h-4zM494 322h8v4h-8zM126 326h12v4h-12zM498 326h4v4h-4zM134 330h8v4h-8zM286 330h4v4h-4zM498 330h4v4h-4zM138 334h4v4h-4zM282 338h4v4h-4zM154 342h4v4h-4zM494 342h4v4h-4zM490 346h4v4h-4zM486 350h4v4h-4zM278 354h4v4h-4zM482 354h4v4h-4zM474 358h8v4h-8zM274 362h4v4h-4zM458 362h16v4h-16zM450 366h20v4h-20zM442 370h20v4h-20zM434 374h24v4h-24zM422 378h24v4h-24zM418 382h16v4h-16zM418 386h12v4h-12zM198 390h4v4h-4zM290 390h4v4h-4zM418 390h8v4h-8zM418 394h8v4h-8zM290 398h4v4h-4zM314 398h4v4h-4zM418 398h4v4h-4zM218 402h4v4h-4zM418 402h4v4h-4zM226 406h8v4h-8zM414 406h4v4h-4zM242 410h4v4h-4zM414 410h4v4h-4zM410 414h4v4h-4zM286 418h4v4h-4zM302 418h4v4h-4zM406 418h8v4h-8zM286 422h4v4h-4zM398 422h8v4h-8zM270 426h4v4h-4zM302 426h8v4h-8zM386 426h12v4h-12zM286 430h4v4h-4zM302 430h4v4h-4zM370 430h24v4h-24zM290 434h4v4h-4zM298 434h12v4h-12zM350 434h20v4h-20zM374 434h12v4h-12zM302 438h8v4h-8zM350 438h12v4h-12zM366 438h4v4h-4zM306 442h4v4h-4zM306 446h8v4h-8zM350 446h4v4h-4zM278 450h4v4h-4zM310 450h8v4h-8zM346 450h4v4h-4zM66 454h4v4h-4zM282 454h4v4h-4zM330 454h8v4h-8zM66 458h12v4h-12zM286 458h4v4h-4zM66 462h16v4h-16zM66 466h20v4h-20zM290 466h4v4h-4zM66 470h24v4h-24zM290 470h4v4h-4zM70 474h24v4h-24zM122 474h12v4h-12zM234 474h12v4h-12zM290 474h4v4h-4zM74 478h20v4h-20zM126 478h4v4h-4zM234 478h16v4h-16zM74 482h20v4h-20zM234 482h4v4h-4zM246 482h8v4h-8zM286 482h4v4h-4zM74 486h20v4h-20zM226 486h4v4h-4zM250 486h4v4h-4zM82 490h12v4h-12zM222 490h4v4h-4zM254 490h4v4h-4zM82 494h12v4h-12zM214 494h4v4h-4zM258 494h4v4h-4zM82 498h8v4h-8zM206 498h8v4h-8zM82 502h8v4h-8zM206 502h4v4h-4zM82 506h8v4h-8zM202 506h8v4h-8zM82 510h8v4h-8zM202 510h4v4h-4zM86 514h4v4h-4zM198 514h8v4h-8zM86 518h8v4h-8zM198 518h8v4h-8zM90 522h4v4h-4zM198 522h8v4h-8zM90 526h8v4h-8zM202 526h4v4h-4zM94 530h4v4h-4zM202 530h4v4h-4zM94 534h8v4h-8zM198 534h4v4h-4zM94 538h4v4h-4zM194 538h4v4h-4zM90 542h8v4h-8zM194 542h4v4h-4zM86 546h8v4h-8zM190 546h4v4h-4zM86 550h8v4h-8zM186 550h4v4h-4zM82 554h8v4h-8zM186 554h4v4h-4zM78 558h12v4h-12zM182 558h4v4h-4z"/>
<path fill="#ffa700" d="M66 46h8v4h-8zM106 46h36v4h-36zM66 50h16v4h-16zM114 50h32v4h-32zM66 54h20v4h-20zM118 54h36v4h-36zM66 58h24v4h-24zM122 58h40v4h-40zM66 62h28v4h-28zM126 62h24v4h-24zM154 62h12v4h-12zM66 66h32v4h-32zM130 66h24v4h-24zM158 66h16v4h-16zM66 70h32v4h-32zM138 70h20v4h-20zM162 70h16v4h-16zM66 74h36v4h-36zM142 74h20v4h-20zM166 74h20v4h-20zM66 78h40v4h-40zM146 78h20v4h-20zM174 78h16v4h-16zM66 82h44v4h-44zM150 82h16v4h-16zM178 82h20v4h-20zM70 86h44v4h-44zM158 86h12v4h-12zM182 86h24v4h-24zM66 90h4v4h-4zM74 90h44v4h-44zM162 90h12v4h-12zM186 90h24v4h-24zM66 94h56v4h-56zM166 94h12v4h-12zM190 94h4v4h-4zM198 94h20v4h-20zM66 98h16v4h-16zM86 98h40v4h-40zM166 98h12v4h-12zM194 98h4v4h-4zM206 98h16v4h-16zM66 102h20v4h-20zM90 102h40v4h-40zM174 102h8v4h-8zM214 102h12v4h-12zM66 106h68v4h-68zM174 106h12v4h-12zM218 106h4v4h-4zM226 106h4v4h-4zM70 110h68v4h-68zM178 110h12v4h-12zM218 110h16v4h-16zM78 114h64v4h-64zM182 114h12v4h-12zM230 114h8v4h-8zM82 118h64v4h-64zM186 118h16v4h-16zM230 118h8v4h-8zM86 122h64v4h-64zM158 122h4v4h-4zM190 122h16v4h-16zM234 122h8v4h-8zM90 126h64v4h-64zM162 126h4v4h-4zM194 126h16v4h-16zM238 126h4v4h-4zM94 130h64v4h-64zM166 130h8v4h-8zM186 130h4v4h-4zM194 130h20v4h-20zM98 134h64v4h-64zM170 134h12v4h-12zM186 134h28v4h-28zM102 138h64v4h-64zM174 138h44v4h-44zM106 142h64v4h-64zM178 142h40v4h-40zM558 142h8v4h-8zM110 146h24v4h-24zM138 146h36v4h-36zM178 146h48v4h-48zM566 146h4v4h-4zM114 150h24v4h-24zM142 150h36v4h-36zM182 150h48v4h-48zM546 150h4v4h-4zM118 154h24v4h-24zM146 154h36v4h-36zM186 154h48v4h-48zM546 154h4v4h-4zM566 154h4v4h-4zM122 158h28v4h-28zM154 158h32v4h-32zM190 158h44v4h-44zM550 158h4v4h-4zM562 158h4v4h-4zM130 162h24v4h-24zM158 162h28v4h-28zM194 162h24v4h-24zM226 162h8v4h-8zM66 166h4v4h-4zM134 166h24v4h-24zM162 166h28v4h-28zM198 166h20v4h-20zM230 166h4v4h-4zM66 170h8v4h-8zM138 170h24v4h-24zM170 170h24v4h-24zM202 170h20v4h-20zM414 170h12v4h-12zM66 174h12v4h-12zM146 174h20v4h-20zM174 174h24v4h-24zM202 174h24v4h-24zM382 174h24v4h-24zM430 174h4v4h-4zM70 178h16v4h-16zM154 178h16v4h-16zM178 178h52v4h-52zM430 178h4v4h-4zM66 182h20v4h-20zM162 182h12v4h-12zM186 182h44v4h-44zM66 186h20v4h-20zM166 186h12v4h-12zM190 186h44v4h-44zM426 186h4v4h-4zM462 186h8v4h-8zM66 190h20v4h-20zM174 190h8v4h-8zM198 190h20v4h-20zM222 190h16v4h-16zM426 190h8v4h-8zM458 190h4v4h-4zM66 194h20v4h-20zM182 194h4v4h-4zM202 194h20v4h-20zM226 194h12v4h-12zM442 194h16v4h-16zM66 198h24v4h-24zM186 198h4v4h-4zM210 198h16v4h-16zM230 198h12v4h-12zM450 198h8v4h-8zM478 198h4v4h-4zM66 202h4v4h-4zM78 202h12v4h-12zM190 202h4v4h-4zM210 202h20v4h-20zM234 202h12v4h-12zM450 202h12v4h-12zM474 202h4v4h-4zM70 206h4v4h-4zM78 206h4v4h-4zM86 206h8v4h-8zM214 206h20v4h-20zM238 206h8v4h-8zM450 206h8v4h-8zM74 210h4v4h-4zM94 210h4v4h-4zM202 210h4v4h-4zM214 210h24v4h-24zM242 210h8v4h-8zM450 210h4v4h-4zM78 214h4v4h-4zM218 214h24v4h-24zM246 214h8v4h-8zM446 214h4v4h-4zM70 218h12v4h-12zM222 218h24v4h-24zM250 218h8v4h-8zM74 222h12v4h-12zM226 222h32v4h-32zM442 222h4v4h-4zM66 226h4v4h-4zM74 226h12v4h-12zM234 226h28v4h-28zM438 226h4v4h-4zM66 230h20v4h-20zM238 230h28v4h-28zM70 234h8v4h-8zM86 234h4v4h-4zM106 234h4v4h-4zM242 234h28v4h-28zM434 234h4v4h-4zM90 238h4v4h-4zM246 238h20v4h-20zM430 238h4v4h-4zM90 242h4v4h-4zM106 242h8v4h-8zM254 242h20v4h-20zM426 242h4v4h-4zM70 246h4v4h-4zM86 246h16v4h-16zM106 246h8v4h-8zM258 246h20v4h-20zM422 246h4v4h-4zM74 250h4v4h-4zM110 250h4v4h-4zM266 250h12v4h-12zM354 250h4v4h-4zM418 250h4v4h-4zM70 254h8v4h-8zM270 254h8v4h-8zM350 254h8v4h-8zM410 254h4v4h-4zM66 258h4v4h-4zM78 258h4v4h-4zM274 258h8v4h-8zM350 258h8v4h-8zM394 258h8v4h-8zM94 262h4v4h-4zM278 262h8v4h-8zM350 262h8v4h-8zM386 262h4v4h-4zM82 266h4v4h-4zM98 266h4v4h-4zM282 266h4v4h-4zM350 266h8v4h-8zM382 266h4v4h-4zM66 270h4v4h-4zM102 270h4v4h-4zM282 270h8v4h-8zM350 270h8v4h-8zM66 274h8v4h-8zM286 274h4v4h-4zM350 274h8v4h-8zM70 278h4v4h-4zM102 278h4v4h-4zM286 278h4v4h-4zM66 282h4v4h-4zM82 282h4v4h-4zM110 282h4v4h-4zM290 282h4v4h-4zM374 282h4v4h-4zM66 286h4v4h-4zM86 286h4v4h-4zM290 286h4v4h-4zM374 286h4v4h-4zM70 290h4v4h-4zM86 290h4v4h-4zM94 290h4v4h-4zM294 290h4v4h-4zM378 290h4v4h-4zM402 290h4v4h-4zM418 290h4v4h-4zM74 294h4v4h-4zM90 294h4v4h-4zM98 294h4v4h-4zM434 294h4v4h-4zM382 298h4v4h-4zM442 298h4v4h-4zM382 302h4v4h-4zM446 302h4v4h-4zM306 306h4v4h-4zM382 306h4v4h-4zM454 306h4v4h-4zM306 310h4v4h-4zM390 314h4v4h-4zM122 318h4v4h-4zM302 318h4v4h-4zM470 318h4v4h-4zM298 322h4v4h-4zM482 322h12v4h-12zM110 326h4v4h-4zM290 326h4v4h-4zM494 326h4v4h-4zM114 330h4v4h-4zM118 334h4v4h-4zM286 334h4v4h-4zM122 338h4v4h-4zM494 338h4v4h-4zM126 342h8v4h-8zM134 346h4v4h-4zM162 350h4v4h-4zM450 350h8v4h-8zM482 350h4v4h-4zM446 354h20v4h-20zM474 354h8v4h-8zM446 358h28v4h-28zM442 362h16v4h-16zM274 366h4v4h-4zM438 366h12v4h-12zM430 370h12v4h-12zM422 374h12v4h-12zM418 378h4v4h-4zM274 382h4v4h-4zM414 382h4v4h-4zM274 386h4v4h-4zM414 386h4v4h-4zM414 390h4v4h-4zM414 394h4v4h-4zM210 398h4v4h-4zM414 398h4v4h-4zM214 402h4v4h-4zM410 402h8v4h-8zM222 406h4v4h-4zM262 406h4v4h-4zM410 406h4v4h-4zM238 410h4v4h-4zM406 410h8v4h-8zM402 414h8v4h-8zM306 418h4v4h-4zM394 418h12v4h-12zM274 422h4v4h-4zM386 422h12v4h-12zM286 426h4v4h-4zM310 426h4v4h-4zM374 426h12v4h-12zM266 430h4v4h-4zM310 430h4v4h-4zM342 430h28v4h-28zM294 434h4v4h-4zM322 434h4v4h-4zM342 434h8v4h-8zM266 438h4v4h-4zM346 438h4v4h-4zM66 442h4v4h-4zM310 442h4v4h-4zM350 442h4v4h-4zM66 446h12v4h-12zM314 446h8v4h-8zM66 450h16v4h-16zM318 450h12v4h-12zM342 450h4v4h-4zM70 454h20v4h-20zM78 458h20v4h-20zM82 462h24v4h-24zM286 462h4v4h-4zM86 466h32v4h-32zM286 466h4v4h-4zM90 470h44v4h-44zM234 470h12v4h-12zM286 470h4v4h-4zM94 474h28v4h-28zM246 474h4v4h-4zM286 474h4v4h-4zM94 478h32v4h-32zM130 478h4v4h-4zM230 478h4v4h-4zM250 478h4v4h-4zM286 478h4v4h-4zM94 482h24v4h-24zM230 482h4v4h-4zM282 482h4v4h-4zM94 486h12v4h-12zM202 486h4v4h-4zM222 486h4v4h-4zM254 486h4v4h-4zM94 490h8v4h-8zM202 490h20v4h-20zM94 494h8v4h-8zM202 494h12v4h-12zM262 494h4v4h-4zM270 494h4v4h-4zM90 498h8v4h-8zM202 498h4v4h-4zM90 502h8v4h-8zM202 502h4v4h-4zM90 506h8v4h-8zM198 506h4v4h-4zM90 510h8v4h-8zM198 510h4v4h-4zM90 514h8v4h-8zM94 518h4v4h-4zM194 518h4v4h-4zM94 522h4v4h-4zM198 526h4v4h-4zM98 530h4v4h-4zM198 530h4v4h-4zM194 534h4v4h-4zM98 538h4v4h-4zM98 542h4v4h-4zM142 542h4v4h-4zM190 542h4v4h-4zM94 546h8v4h-8zM186 546h4v4h-4zM94 550h4v4h-4zM182 550h4v4h-4zM90 554h8v4h-8zM182 554h4v4h-4zM90 558h8v4h-8zM178 558h4v4h-4z"/>
<path fill="#ff9700" d="M150 62h4v4h-4zM154 66h4v4h-4zM158 70h4v4h-4zM162 74h4v4h-4zM166 78h8v4h-8zM166 82h12v4h-12zM170 86h12v4h-12zM174 90h12v4h-12zM178 94h12v4h-12zM194 94h4v4h-4zM126 98h4v4h-4zM178 98h16v4h-16zM198 98h8v4h-8zM130 102h4v4h-4zM182 102h32v4h-32zM134 106h4v4h-4zM186 106h32v4h-32zM222 106h4v4h-4zM138 110h8v4h-8zM190 110h28v4h-28zM142 114h8v4h-8zM194 114h36v4h-36zM146 118h8v4h-8zM202 118h28v4h-28zM238 118h8v4h-8zM150 122h8v4h-8zM206 122h28v4h-28zM242 122h8v4h-8zM154 126h8v4h-8zM210 126h28v4h-28zM242 126h8v4h-8zM158 130h8v4h-8zM214 130h36v4h-36zM162 134h4v4h-4zM214 134h36v4h-36zM166 138h4v4h-4zM218 138h36v4h-36zM170 142h4v4h-4zM218 142h36v4h-36zM174 146h4v4h-4zM226 146h8v4h-8zM238 146h20v4h-20zM554 146h12v4h-12zM230 150h32v4h-32zM550 150h4v4h-4zM566 150h4v4h-4zM234 154h16v4h-16zM258 154h4v4h-4zM550 154h4v4h-4zM234 158h20v4h-20zM262 158h4v4h-4zM554 158h8v4h-8zM218 162h8v4h-8zM234 162h20v4h-20zM218 166h12v4h-12zM234 166h36v4h-36zM222 170h44v4h-44zM226 174h40v4h-40zM406 174h8v4h-8zM66 178h4v4h-4zM230 178h36v4h-36zM230 182h40v4h-40zM426 182h4v4h-4zM234 186h20v4h-20zM258 186h12v4h-12zM422 186h4v4h-4zM470 186h8v4h-8zM218 190h4v4h-4zM238 190h20v4h-20zM422 190h4v4h-4zM478 190h4v4h-4zM222 194h4v4h-4zM238 194h20v4h-20zM418 194h24v4h-24zM458 194h4v4h-4zM478 194h4v4h-4zM226 198h4v4h-4zM242 198h20v4h-20zM446 198h4v4h-4zM458 198h4v4h-4zM230 202h4v4h-4zM246 202h16v4h-16zM462 202h12v4h-12zM66 206h4v4h-4zM234 206h4v4h-4zM246 206h20v4h-20zM70 210h4v4h-4zM238 210h4v4h-4zM250 210h16v4h-16zM446 210h4v4h-4zM70 214h8v4h-8zM242 214h4v4h-4zM254 214h16v4h-16zM442 214h4v4h-4zM66 218h4v4h-4zM246 218h4v4h-4zM258 218h12v4h-12zM442 218h4v4h-4zM66 222h8v4h-8zM258 222h16v4h-16zM438 222h4v4h-4zM70 226h4v4h-4zM262 226h12v4h-12zM94 230h4v4h-4zM266 230h12v4h-12zM434 230h4v4h-4zM78 234h4v4h-4zM98 234h8v4h-8zM270 234h8v4h-8zM430 234h4v4h-4zM82 238h4v4h-4zM102 238h4v4h-4zM266 238h16v4h-16zM426 238h4v4h-4zM82 242h8v4h-8zM274 242h8v4h-8zM422 242h4v4h-4zM78 246h4v4h-4zM278 246h8v4h-8zM346 246h16v4h-16zM418 246h4v4h-4zM106 250h4v4h-4zM278 250h8v4h-8zM346 250h4v4h-4zM358 250h8v4h-8zM410 250h8v4h-8zM66 254h4v4h-4zM278 254h12v4h-12zM346 254h4v4h-4zM358 254h8v4h-8zM402 254h8v4h-8zM74 258h4v4h-4zM282 258h8v4h-8zM346 258h4v4h-4zM358 258h8v4h-8zM390 258h4v4h-4zM78 262h4v4h-4zM286 262h4v4h-4zM346 262h4v4h-4zM358 262h4v4h-4zM382 262h4v4h-4zM286 266h4v4h-4zM346 266h4v4h-4zM358 266h4v4h-4zM290 270h4v4h-4zM346 270h4v4h-4zM358 270h4v4h-4zM378 270h4v4h-4zM102 274h4v4h-4zM290 274h4v4h-4zM346 274h4v4h-4zM358 274h4v4h-4zM74 278h4v4h-4zM106 278h8v4h-8zM290 278h4v4h-4zM346 278h12v4h-12zM374 278h4v4h-4zM114 282h4v4h-4zM350 282h8v4h-8zM350 286h4v4h-4zM374 290h4v4h-4zM406 290h12v4h-12zM298 294h4v4h-4zM350 294h4v4h-4zM378 294h4v4h-4zM426 294h8v4h-8zM346 298h8v4h-8zM398 298h4v4h-4zM82 302h4v4h-4zM94 302h4v4h-4zM86 306h4v4h-4zM450 306h4v4h-4zM102 310h4v4h-4zM382 310h4v4h-4zM458 310h4v4h-4zM402 314h4v4h-4zM462 314h4v4h-4zM466 318h4v4h-4zM114 322h4v4h-4zM474 322h8v4h-8zM122 326h4v4h-4zM490 326h4v4h-4zM130 330h4v4h-4zM290 330h4v4h-4zM494 330h4v4h-4zM134 334h4v4h-4zM142 334h4v4h-4zM494 334h4v4h-4zM142 338h8v4h-8zM150 342h4v4h-4zM282 342h4v4h-4zM450 342h4v4h-4zM490 342h4v4h-4zM158 346h4v4h-4zM282 346h4v4h-4zM442 346h20v4h-20zM486 346h4v4h-4zM138 350h4v4h-4zM442 350h8v4h-8zM458 350h24v4h-24zM142 354h8v4h-8zM442 354h4v4h-4zM466 354h8v4h-8zM142 358h12v4h-12zM438 358h8v4h-8zM434 362h8v4h-8zM426 366h12v4h-12zM274 370h4v4h-4zM422 370h8v4h-8zM302 374h4v4h-4zM418 374h4v4h-4zM274 378h4v4h-4zM414 378h4v4h-4zM190 386h4v4h-4zM294 386h4v4h-4zM410 386h4v4h-4zM410 390h4v4h-4zM202 394h4v4h-4zM298 394h4v4h-4zM410 394h4v4h-4zM206 398h4v4h-4zM270 398h4v4h-4zM410 398h4v4h-4zM210 402h4v4h-4zM294 402h4v4h-4zM314 402h4v4h-4zM406 402h4v4h-4zM218 406h4v4h-4zM402 406h8v4h-8zM254 410h4v4h-4zM398 410h8v4h-8zM246 414h4v4h-4zM286 414h4v4h-4zM394 414h8v4h-8zM386 418h8v4h-8zM310 422h4v4h-4zM374 422h12v4h-12zM66 426h4v4h-4zM298 426h4v4h-4zM342 426h32v4h-32zM66 430h4v4h-4zM298 430h4v4h-4zM322 430h8v4h-8zM338 430h4v4h-4zM66 434h8v4h-8zM310 434h4v4h-4zM326 434h4v4h-4zM66 438h12v4h-12zM310 438h4v4h-4zM70 442h20v4h-20zM266 442h4v4h-4zM314 442h8v4h-8zM346 442h4v4h-4zM78 446h16v4h-16zM270 446h4v4h-4zM322 446h4v4h-4zM346 446h4v4h-4zM82 450h16v4h-16zM274 450h4v4h-4zM330 450h12v4h-12zM90 454h16v4h-16zM278 454h4v4h-4zM98 458h16v4h-16zM214 458h4v4h-4zM282 458h4v4h-4zM106 462h16v4h-16zM282 462h4v4h-4zM118 466h12v4h-12zM230 466h16v4h-16zM230 470h4v4h-4zM246 470h8v4h-8zM134 474h4v4h-4zM230 474h4v4h-4zM250 474h4v4h-4zM134 478h4v4h-4zM254 478h4v4h-4zM118 482h16v4h-16zM194 482h12v4h-12zM226 482h4v4h-4zM254 482h4v4h-4zM106 486h16v4h-16zM194 486h8v4h-8zM206 486h16v4h-16zM278 486h4v4h-4zM102 490h8v4h-8zM194 490h8v4h-8zM258 490h4v4h-4zM102 494h4v4h-4zM198 494h4v4h-4zM266 494h4v4h-4zM98 498h8v4h-8zM198 498h4v4h-4zM98 502h4v4h-4zM198 502h4v4h-4zM98 506h4v4h-4zM98 510h4v4h-4zM194 510h4v4h-4zM98 514h4v4h-4zM194 514h4v4h-4zM98 518h4v4h-4zM98 522h4v4h-4zM194 522h4v4h-4zM98 526h4v4h-4zM194 526h4v4h-4zM194 530h4v4h-4zM102 534h4v4h-4zM102 538h4v4h-4zM190 538h4v4h-4zM138 542h4v4h-4zM186 542h4v4h-4zM142 546h4v4h-4zM182 546h4v4h-4zM98 550h4v4h-4zM178 550h4v4h-4zM98 554h4v4h-4zM178 554h4v4h-4zM98 558h4v4h-4zM174 558h4v4h-4z"/>
<path fill="#ff8700" d="M222 98h4v4h-4zM226 102h8v4h-8zM230 106h12v4h-12zM234 110h12v4h-12zM238 114h16v4h-16zM246 118h8v4h-8zM250 122h4v4h-4zM250 126h8v4h-8zM250 130h12v4h-12zM250 134h16v4h-16zM254 138h16v4h-16zM254 142h20v4h-20zM234 146h4v4h-4zM258 146h16v4h-16zM262 150h16v4h-16zM562 150h4v4h-4zM250 154h8v4h-8zM262 154h20v4h-20zM562 154h4v4h-4zM254 158h8v4h-8zM266 158h16v4h-16zM254 162h32v4h-32zM270 166h8v4h-8zM266 170h12v4h-12zM266 174h16v4h-16zM414 174h16v4h-16zM266 178h16v4h-16zM398 178h8v4h-8zM270 182h16v4h-16zM422 182h4v4h-4zM254 186h4v4h-4zM270 186h16v4h-16zM258 190h28v4h-28zM418 190h4v4h-4zM462 190h4v4h-4zM258 194h32v4h-32zM414 194h4v4h-4zM462 194h4v4h-4zM262 198h28v4h-28zM414 198h32v4h-32zM462 198h8v4h-8zM474 198h4v4h-4zM262 202h20v4h-20zM418 202h12v4h-12zM446 202h4v4h-4zM266 206h16v4h-16zM446 206h4v4h-4zM66 210h4v4h-4zM266 210h16v4h-16zM442 210h4v4h-4zM66 214h4v4h-4zM270 214h12v4h-12zM438 214h4v4h-4zM270 218h16v4h-16zM438 218h4v4h-4zM274 222h12v4h-12zM434 222h4v4h-4zM274 226h12v4h-12zM434 226h4v4h-4zM86 230h8v4h-8zM278 230h8v4h-8zM430 230h4v4h-4zM90 234h8v4h-8zM278 234h12v4h-12zM426 234h4v4h-4zM74 238h8v4h-8zM86 238h4v4h-4zM94 238h8v4h-8zM282 238h8v4h-8zM422 238h4v4h-4zM78 242h4v4h-4zM94 242h12v4h-12zM282 242h8v4h-8zM346 242h16v4h-16zM418 242h4v4h-4zM82 246h4v4h-4zM102 246h4v4h-4zM286 246h4v4h-4zM342 246h4v4h-4zM362 246h8v4h-8zM414 246h4v4h-4zM82 250h8v4h-8zM286 250h8v4h-8zM342 250h4v4h-4zM366 250h4v4h-4zM86 254h8v4h-8zM290 254h4v4h-4zM342 254h4v4h-4zM366 254h4v4h-4zM398 254h4v4h-4zM70 258h4v4h-4zM90 258h8v4h-8zM290 258h4v4h-4zM342 258h4v4h-4zM366 258h4v4h-4zM382 258h8v4h-8zM74 262h4v4h-4zM98 262h4v4h-4zM290 262h4v4h-4zM342 262h4v4h-4zM362 262h8v4h-8zM378 262h4v4h-4zM66 266h4v4h-4zM78 266h4v4h-4zM290 266h4v4h-4zM342 266h4v4h-4zM362 266h4v4h-4zM378 266h4v4h-4zM78 270h4v4h-4zM294 270h4v4h-4zM342 270h4v4h-4zM362 270h4v4h-4zM294 274h4v4h-4zM342 274h4v4h-4zM374 274h4v4h-4zM294 278h4v4h-4zM342 278h4v4h-4zM358 278h4v4h-4zM370 278h4v4h-4zM294 282h4v4h-4zM342 282h8v4h-8zM358 282h4v4h-4zM370 282h4v4h-4zM294 286h4v4h-4zM342 286h8v4h-8zM354 286h8v4h-8zM370 286h4v4h-4zM342 290h20v4h-20zM78 294h4v4h-4zM86 294h4v4h-4zM342 294h8v4h-8zM354 294h8v4h-8zM398 294h4v4h-4zM422 294h4v4h-4zM82 298h12v4h-12zM302 298h4v4h-4zM342 298h4v4h-4zM354 298h8v4h-8zM378 298h4v4h-4zM434 298h8v4h-8zM86 302h8v4h-8zM306 302h4v4h-4zM346 302h16v4h-16zM402 302h4v4h-4zM442 302h4v4h-4zM90 306h12v4h-12zM310 306h4v4h-4zM346 306h12v4h-12zM406 306h4v4h-4zM446 306h4v4h-4zM90 310h4v4h-4zM350 310h8v4h-8zM406 310h4v4h-4zM454 310h4v4h-4zM94 314h4v4h-4zM102 314h4v4h-4zM306 314h4v4h-4zM350 314h8v4h-8zM386 314h4v4h-4zM458 314h4v4h-4zM98 318h4v4h-4zM350 318h8v4h-8zM462 318h4v4h-4zM302 322h4v4h-4zM354 322h4v4h-4zM466 322h8v4h-8zM294 326h8v4h-8zM478 326h12v4h-12zM490 330h4v4h-4zM290 334h4v4h-4zM422 334h4v4h-4zM442 334h12v4h-12zM490 334h4v4h-4zM286 338h4v4h-4zM438 338h24v4h-24zM486 338h8v4h-8zM438 342h12v4h-12zM454 342h12v4h-12zM482 342h8v4h-8zM130 346h4v4h-4zM154 346h4v4h-4zM438 346h4v4h-4zM462 346h24v4h-24zM134 350h4v4h-4zM438 350h4v4h-4zM138 354h4v4h-4zM434 354h8v4h-8zM434 358h4v4h-4zM150 362h8v4h-8zM426 362h8v4h-8zM382 366h8v4h-8zM418 366h8v4h-8zM302 370h8v4h-8zM382 370h8v4h-8zM414 370h8v4h-8zM274 374h4v4h-4zM306 374h4v4h-4zM414 374h4v4h-4zM178 378h4v4h-4zM410 378h4v4h-4zM182 382h4v4h-4zM410 382h4v4h-4zM406 386h4v4h-4zM194 390h4v4h-4zM406 390h4v4h-4zM198 394h4v4h-4zM406 394h4v4h-4zM202 398h4v4h-4zM298 398h4v4h-4zM366 398h8v4h-8zM402 398h8v4h-8zM206 402h4v4h-4zM290 402h4v4h-4zM334 402h8v4h-8zM366 402h4v4h-4zM398 402h8v4h-8zM66 406h4v4h-4zM210 406h8v4h-8zM334 406h8v4h-8zM394 406h8v4h-8zM66 410h4v4h-4zM286 410h4v4h-4zM390 410h8v4h-8zM66 414h8v4h-8zM242 414h4v4h-4zM250 414h4v4h-4zM282 414h4v4h-4zM386 414h8v4h-8zM66 418h12v4h-12zM278 418h4v4h-4zM298 418h4v4h-4zM374 418h12v4h-12zM66 422h12v4h-12zM290 422h4v4h-4zM298 422h4v4h-4zM342 422h4v4h-4zM350 422h24v4h-24zM70 426h12v4h-12zM314 426h12v4h-12zM334 426h8v4h-8zM70 430h12v4h-12zM290 430h8v4h-8zM314 430h8v4h-8zM330 430h8v4h-8zM74 434h12v4h-12zM330 434h4v4h-4zM338 434h4v4h-4zM78 438h16v4h-16zM314 438h16v4h-16zM342 438h4v4h-4zM90 442h8v4h-8zM322 442h8v4h-8zM94 446h8v4h-8zM266 446h4v4h-4zM326 446h4v4h-4zM342 446h4v4h-4zM98 450h8v4h-8zM106 454h8v4h-8zM210 454h16v4h-16zM274 454h4v4h-4zM114 458h8v4h-8zM210 458h4v4h-4zM218 458h16v4h-16zM278 458h4v4h-4zM122 462h8v4h-8zM214 462h28v4h-28zM130 466h4v4h-4zM218 466h12v4h-12zM246 466h12v4h-12zM282 466h4v4h-4zM134 470h4v4h-4zM222 470h8v4h-8zM254 470h4v4h-4zM282 470h4v4h-4zM190 474h8v4h-8zM222 474h8v4h-8zM254 474h4v4h-4zM282 474h4v4h-4zM186 478h16v4h-16zM226 478h4v4h-4zM282 478h4v4h-4zM134 482h4v4h-4zM190 482h4v4h-4zM206 482h4v4h-4zM222 482h4v4h-4zM258 482h4v4h-4zM122 486h12v4h-12zM190 486h4v4h-4zM258 486h4v4h-4zM110 490h12v4h-12zM274 490h4v4h-4zM106 494h8v4h-8zM194 494h4v4h-4zM106 498h4v4h-4zM194 498h4v4h-4zM102 502h4v4h-4zM194 502h4v4h-4zM102 506h4v4h-4zM194 506h4v4h-4zM146 510h8v4h-8zM146 514h8v4h-8zM146 518h8v4h-8zM102 530h4v4h-4zM190 534h4v4h-4zM138 538h8v4h-8zM186 538h4v4h-4zM102 542h4v4h-4zM146 542h4v4h-4zM182 542h4v4h-4zM102 546h4v4h-4zM138 546h4v4h-4zM146 546h4v4h-4zM178 546h4v4h-4zM102 550h4v4h-4zM138 550h12v4h-12zM174 550h4v4h-4zM102 554h4v4h-4zM142 554h8v4h-8zM170 554h8v4h-8zM102 558h4v4h-4zM150 558h24v4h-24z"/>
<path fill="#ff7800" d="M254 118h4v4h-4zM254 122h4v4h-4zM258 126h4v4h-4zM262 130h4v4h-4zM274 146h4v4h-4zM282 150h4v4h-4zM554 150h8v4h-8zM554 154h8v4h-8zM282 158h4v4h-4zM294 158h4v4h-4zM298 162h4v4h-4zM278 166h12v4h-12zM278 170h16v4h-16zM282 174h12v4h-12zM282 178h16v4h-16zM406 178h4v4h-4zM414 178h16v4h-16zM286 182h12v4h-12zM418 182h4v4h-4zM286 186h12v4h-12zM414 186h8v4h-8zM286 190h16v4h-16zM414 190h4v4h-4zM466 190h12v4h-12zM290 194h12v4h-12zM390 194h8v4h-8zM466 194h4v4h-4zM290 198h16v4h-16zM394 198h8v4h-8zM410 198h4v4h-4zM470 198h4v4h-4zM282 202h24v4h-24zM398 202h20v4h-20zM430 202h16v4h-16zM282 206h20v4h-20zM398 206h48v4h-48zM282 210h12v4h-12zM414 210h28v4h-28zM282 214h16v4h-16zM430 214h8v4h-8zM286 218h12v4h-12zM434 218h4v4h-4zM286 222h12v4h-12zM430 222h4v4h-4zM286 226h12v4h-12zM430 226h4v4h-4zM286 230h12v4h-12zM426 230h4v4h-4zM290 234h8v4h-8zM422 234h4v4h-4zM290 238h8v4h-8zM346 238h20v4h-20zM418 238h4v4h-4zM290 242h8v4h-8zM342 242h4v4h-4zM362 242h12v4h-12zM410 242h8v4h-8zM290 246h8v4h-8zM338 246h4v4h-4zM370 246h8v4h-8zM406 246h8v4h-8zM294 250h4v4h-4zM338 250h4v4h-4zM370 250h12v4h-12zM398 250h12v4h-12zM294 254h4v4h-4zM338 254h4v4h-4zM370 254h28v4h-28zM294 258h4v4h-4zM338 258h4v4h-4zM370 258h12v4h-12zM66 262h8v4h-8zM294 262h4v4h-4zM338 262h4v4h-4zM370 262h8v4h-8zM70 266h8v4h-8zM294 266h4v4h-4zM338 266h4v4h-4zM366 266h12v4h-12zM298 270h4v4h-4zM338 270h4v4h-4zM366 270h4v4h-4zM374 270h4v4h-4zM298 274h4v4h-4zM338 274h4v4h-4zM362 274h12v4h-12zM66 278h4v4h-4zM298 278h4v4h-4zM338 278h4v4h-4zM362 278h8v4h-8zM70 282h8v4h-8zM338 282h4v4h-4zM362 282h8v4h-8zM70 286h12v4h-12zM334 286h8v4h-8zM362 286h8v4h-8zM74 290h12v4h-12zM298 290h4v4h-4zM326 290h16v4h-16zM362 290h12v4h-12zM82 294h4v4h-4zM334 294h8v4h-8zM362 294h4v4h-4zM374 294h4v4h-4zM402 294h4v4h-4zM418 294h4v4h-4zM78 298h4v4h-4zM306 298h8v4h-8zM338 298h4v4h-4zM362 298h4v4h-4zM402 298h4v4h-4zM430 298h4v4h-4zM310 302h4v4h-4zM342 302h4v4h-4zM362 302h4v4h-4zM378 302h4v4h-4zM406 302h4v4h-4zM438 302h4v4h-4zM342 306h4v4h-4zM358 306h4v4h-4zM378 306h4v4h-4zM410 306h4v4h-4zM442 306h4v4h-4zM98 310h4v4h-4zM310 310h4v4h-4zM346 310h4v4h-4zM358 310h4v4h-4zM378 310h4v4h-4zM410 310h4v4h-4zM450 310h4v4h-4zM346 314h4v4h-4zM358 314h8v4h-8zM382 314h4v4h-4zM406 314h8v4h-8zM454 314h4v4h-4zM306 318h4v4h-4zM346 318h4v4h-4zM358 318h8v4h-8zM398 318h4v4h-4zM454 318h8v4h-8zM102 322h4v4h-4zM306 322h4v4h-4zM350 322h4v4h-4zM358 322h4v4h-4zM458 322h8v4h-8zM106 326h4v4h-4zM118 326h4v4h-4zM302 326h4v4h-4zM350 326h12v4h-12zM414 326h4v4h-4zM426 326h12v4h-12zM442 326h36v4h-36zM110 330h4v4h-4zM294 330h4v4h-4zM350 330h16v4h-16zM418 330h52v4h-52zM482 330h8v4h-8zM114 334h4v4h-4zM354 334h12v4h-12zM418 334h4v4h-4zM426 334h16v4h-16zM454 334h16v4h-16zM482 334h8v4h-8zM118 338h4v4h-4zM354 338h16v4h-16zM414 338h24v4h-24zM462 338h8v4h-8zM482 338h4v4h-4zM122 342h4v4h-4zM146 342h4v4h-4zM362 342h4v4h-4zM426 342h12v4h-12zM466 342h16v4h-16zM126 346h4v4h-4zM430 346h8v4h-8zM130 350h4v4h-4zM282 350h4v4h-4zM430 350h8v4h-8zM134 354h4v4h-4zM430 354h4v4h-4zM426 358h8v4h-8zM146 362h4v4h-4zM418 362h8v4h-8zM154 366h4v4h-4zM390 366h4v4h-4zM414 366h4v4h-4zM158 370h4v4h-4zM166 370h4v4h-4zM378 370h4v4h-4zM390 370h4v4h-4zM410 370h4v4h-4zM378 374h16v4h-16zM410 374h4v4h-4zM302 378h4v4h-4zM382 378h8v4h-8zM406 378h4v4h-4zM178 382h4v4h-4zM402 382h8v4h-8zM182 386h8v4h-8zM402 386h4v4h-4zM190 390h4v4h-4zM274 390h4v4h-4zM298 390h4v4h-4zM402 390h4v4h-4zM194 394h4v4h-4zM314 394h4v4h-4zM370 394h8v4h-8zM398 394h8v4h-8zM198 398h4v4h-4zM318 398h4v4h-4zM362 398h4v4h-4zM374 398h8v4h-8zM394 398h8v4h-8zM66 402h4v4h-4zM202 402h4v4h-4zM362 402h4v4h-4zM370 402h8v4h-8zM390 402h8v4h-8zM206 406h4v4h-4zM282 406h12v4h-12zM366 406h8v4h-8zM390 406h4v4h-4zM70 410h4v4h-4zM210 410h28v4h-28zM258 410h4v4h-4zM282 410h4v4h-4zM334 410h8v4h-8zM386 410h4v4h-4zM210 414h8v4h-8zM302 414h8v4h-8zM334 414h8v4h-8zM366 414h20v4h-20zM242 418h8v4h-8zM290 418h8v4h-8zM310 418h4v4h-4zM338 418h4v4h-4zM358 418h16v4h-16zM78 422h8v4h-8zM210 422h8v4h-8zM242 422h4v4h-4zM294 422h4v4h-4zM314 422h8v4h-8zM334 422h8v4h-8zM346 422h4v4h-4zM82 426h8v4h-8zM210 426h12v4h-12zM290 426h8v4h-8zM326 426h8v4h-8zM82 430h16v4h-16zM210 430h16v4h-16zM86 434h12v4h-12zM214 434h8v4h-8zM314 434h8v4h-8zM334 434h4v4h-4zM94 438h8v4h-8zM330 438h4v4h-4zM338 438h4v4h-4zM98 442h8v4h-8zM330 442h4v4h-4zM342 442h4v4h-4zM102 446h12v4h-12zM210 446h8v4h-8zM330 446h12v4h-12zM106 450h12v4h-12zM210 450h16v4h-16zM114 454h8v4h-8zM226 454h4v4h-4zM270 454h4v4h-4zM122 458h4v4h-4zM234 458h4v4h-4zM274 458h4v4h-4zM130 462h4v4h-4zM210 462h4v4h-4zM242 462h8v4h-8zM278 462h4v4h-4zM210 466h8v4h-8zM258 466h4v4h-4zM278 466h4v4h-4zM190 470h32v4h-32zM258 470h4v4h-4zM278 470h4v4h-4zM186 474h4v4h-4zM198 474h24v4h-24zM258 474h4v4h-4zM138 478h4v4h-4zM202 478h24v4h-24zM258 478h4v4h-4zM138 482h4v4h-4zM186 482h4v4h-4zM210 482h12v4h-12zM278 482h4v4h-4zM134 486h12v4h-12zM122 490h24v4h-24zM190 490h4v4h-4zM262 490h8v4h-8zM114 494h8v4h-8zM190 494h4v4h-4zM110 498h4v4h-4zM106 502h4v4h-4zM106 506h4v4h-4zM146 506h8v4h-8zM102 510h4v4h-4zM142 510h4v4h-4zM154 510h4v4h-4zM190 510h4v4h-4zM102 514h4v4h-4zM142 514h4v4h-4zM154 514h4v4h-4zM190 514h4v4h-4zM102 518h4v4h-4zM142 518h4v4h-4zM154 518h4v4h-4zM190 518h4v4h-4zM102 522h4v4h-4zM142 522h12v4h-12zM190 522h4v4h-4zM102 526h4v4h-4zM146 526h4v4h-4zM190 526h4v4h-4zM190 530h4v4h-4zM142 534h8v4h-8zM186 534h4v4h-4zM146 538h4v4h-4zM182 538h4v4h-4zM150 542h4v4h-4zM178 542h4v4h-4zM106 546h4v4h-4zM134 546h4v4h-4zM150 546h4v4h-4zM174 546h4v4h-4zM150 550h4v4h-4zM170 550h4v4h-4zM138 554h4v4h-4zM150 554h20v4h-20zM106 558h4v4h-4zM138 558h12v4h-12z"/>
<path fill="#ff6800" d="M258 122h8v4h-8zM262 126h8v4h-8zM266 130h12v4h-12zM266 134h20v4h-20zM270 138h24v4h-24zM274 142h28v4h-28zM278 146h32v4h-32zM278 150h4v4h-4zM286 150h32v4h-32zM282 154h40v4h-40zM286 158h8v4h-8zM298 158h36v4h-36zM286 162h12v4h-12zM302 162h40v4h-40zM290 166h28v4h-28zM322 166h20v4h-20zM354 166h4v4h-4zM294 170h28v4h-28zM330 170h16v4h-16zM362 170h8v4h-8zM294 174h24v4h-24zM334 174h12v4h-12zM370 174h12v4h-12zM298 178h24v4h-24zM338 178h12v4h-12zM374 178h24v4h-24zM410 178h4v4h-4zM298 182h28v4h-28zM374 182h44v4h-44zM298 186h28v4h-28zM330 186h4v4h-4zM374 186h40v4h-40zM302 190h24v4h-24zM374 190h40v4h-40zM302 194h12v4h-12zM378 194h12v4h-12zM398 194h16v4h-16zM470 194h8v4h-8zM306 198h8v4h-8zM378 198h16v4h-16zM402 198h8v4h-8zM306 202h8v4h-8zM386 202h12v4h-12zM302 206h12v4h-12zM294 210h16v4h-16zM398 210h16v4h-16zM298 214h12v4h-12zM414 214h16v4h-16zM298 218h12v4h-12zM422 218h12v4h-12zM298 222h12v4h-12zM426 222h4v4h-4zM298 226h12v4h-12zM422 226h8v4h-8zM298 230h12v4h-12zM422 230h4v4h-4zM82 234h4v4h-4zM298 234h8v4h-8zM342 234h28v4h-28zM418 234h4v4h-4zM298 238h8v4h-8zM334 238h12v4h-12zM366 238h12v4h-12zM410 238h8v4h-8zM298 242h8v4h-8zM334 242h8v4h-8zM374 242h8v4h-8zM406 242h4v4h-4zM298 246h8v4h-8zM334 246h4v4h-4zM378 246h4v4h-4zM398 246h8v4h-8zM298 250h4v4h-4zM334 250h4v4h-4zM382 250h16v4h-16zM298 254h4v4h-4zM334 254h4v4h-4zM298 258h4v4h-4zM334 258h4v4h-4zM298 262h4v4h-4zM334 262h4v4h-4zM298 266h4v4h-4zM334 266h4v4h-4zM334 270h4v4h-4zM370 270h4v4h-4zM302 274h4v4h-4zM334 274h4v4h-4zM334 278h4v4h-4zM298 282h4v4h-4zM326 282h12v4h-12zM298 286h4v4h-4zM322 286h12v4h-12zM302 290h4v4h-4zM318 290h8v4h-8zM302 294h32v4h-32zM366 294h8v4h-8zM406 294h12v4h-12zM314 298h4v4h-4zM334 298h4v4h-4zM366 298h4v4h-4zM374 298h4v4h-4zM406 298h4v4h-4zM426 298h4v4h-4zM314 302h4v4h-4zM338 302h4v4h-4zM410 302h4v4h-4zM434 302h4v4h-4zM314 306h4v4h-4zM362 306h4v4h-4zM438 306h4v4h-4zM342 310h4v4h-4zM362 310h4v4h-4zM414 310h4v4h-4zM442 310h8v4h-8zM310 314h4v4h-4zM342 314h4v4h-4zM378 314h4v4h-4zM414 314h4v4h-4zM450 314h4v4h-4zM106 318h4v4h-4zM390 318h8v4h-8zM402 318h16v4h-16zM346 322h4v4h-4zM362 322h4v4h-4zM414 322h44v4h-44zM306 326h4v4h-4zM346 326h4v4h-4zM362 326h4v4h-4zM418 326h8v4h-8zM438 326h4v4h-4zM298 330h4v4h-4zM346 330h4v4h-4zM414 330h4v4h-4zM470 330h12v4h-12zM350 334h4v4h-4zM366 334h4v4h-4zM414 334h4v4h-4zM470 334h12v4h-12zM290 338h4v4h-4zM350 338h4v4h-4zM470 338h12v4h-12zM354 342h8v4h-8zM366 342h4v4h-4zM414 342h12v4h-12zM422 346h8v4h-8zM426 350h4v4h-4zM422 354h8v4h-8zM138 358h4v4h-4zM278 358h4v4h-4zM418 358h8v4h-8zM142 362h4v4h-4zM386 362h8v4h-8zM410 362h8v4h-8zM146 366h8v4h-8zM158 366h4v4h-4zM278 366h4v4h-4zM306 366h4v4h-4zM378 366h4v4h-4zM394 366h4v4h-4zM410 366h4v4h-4zM150 370h8v4h-8zM162 370h4v4h-4zM310 370h4v4h-4zM394 370h4v4h-4zM166 374h8v4h-8zM394 374h4v4h-4zM406 374h4v4h-4zM170 378h8v4h-8zM278 378h4v4h-4zM378 378h4v4h-4zM390 378h16v4h-16zM66 382h4v4h-4zM378 382h24v4h-24zM178 386h4v4h-4zM290 386h4v4h-4zM374 386h28v4h-28zM186 390h4v4h-4zM370 390h32v4h-32zM66 394h4v4h-4zM190 394h4v4h-4zM366 394h4v4h-4zM378 394h20v4h-20zM66 398h8v4h-8zM194 398h4v4h-4zM310 398h4v4h-4zM334 398h8v4h-8zM382 398h12v4h-12zM70 402h8v4h-8zM198 402h4v4h-4zM286 402h4v4h-4zM310 402h4v4h-4zM318 402h4v4h-4zM378 402h12v4h-12zM70 406h12v4h-12zM202 406h4v4h-4zM266 406h4v4h-4zM294 406h4v4h-4zM362 406h4v4h-4zM374 406h4v4h-4zM382 406h8v4h-8zM74 410h8v4h-8zM206 410h4v4h-4zM290 410h4v4h-4zM362 410h24v4h-24zM74 414h12v4h-12zM206 414h4v4h-4zM218 414h8v4h-8zM238 414h4v4h-4zM254 414h4v4h-4zM290 414h4v4h-4zM298 414h4v4h-4zM362 414h4v4h-4zM78 418h8v4h-8zM210 418h12v4h-12zM250 418h4v4h-4zM314 418h4v4h-4zM334 418h4v4h-4zM342 418h16v4h-16zM86 422h4v4h-4zM206 422h4v4h-4zM218 422h4v4h-4zM322 422h4v4h-4zM330 422h4v4h-4zM90 426h4v4h-4zM206 426h4v4h-4zM222 426h4v4h-4zM234 426h4v4h-4zM98 430h4v4h-4zM206 430h4v4h-4zM226 430h12v4h-12zM98 434h8v4h-8zM206 434h8v4h-8zM222 434h8v4h-8zM262 434h4v4h-4zM102 438h8v4h-8zM210 438h12v4h-12zM262 438h4v4h-4zM334 438h4v4h-4zM106 442h4v4h-4zM210 442h12v4h-12zM262 442h4v4h-4zM338 442h4v4h-4zM114 446h4v4h-4zM206 446h4v4h-4zM218 446h4v4h-4zM262 446h4v4h-4zM118 450h4v4h-4zM206 450h4v4h-4zM226 450h4v4h-4zM266 450h8v4h-8zM122 454h4v4h-4zM206 454h4v4h-4zM230 454h8v4h-8zM266 454h4v4h-4zM126 458h4v4h-4zM206 458h4v4h-4zM238 458h4v4h-4zM270 458h4v4h-4zM206 462h4v4h-4zM250 462h12v4h-12zM274 462h4v4h-4zM134 466h4v4h-4zM198 466h12v4h-12zM186 470h4v4h-4zM138 474h4v4h-4zM182 474h4v4h-4zM278 474h4v4h-4zM182 478h4v4h-4zM278 478h4v4h-4zM142 482h4v4h-4zM262 482h4v4h-4zM146 486h4v4h-4zM186 486h4v4h-4zM262 486h4v4h-4zM274 486h4v4h-4zM146 490h4v4h-4zM270 490h4v4h-4zM122 494h24v4h-24zM114 498h8v4h-8zM190 498h4v4h-4zM110 502h4v4h-4zM190 502h4v4h-4zM142 506h4v4h-4zM154 506h4v4h-4zM190 506h4v4h-4zM106 510h4v4h-4zM138 510h4v4h-4zM138 514h4v4h-4zM138 518h4v4h-4zM138 522h4v4h-4zM154 522h4v4h-4zM138 526h8v4h-8zM150 526h4v4h-4zM186 526h4v4h-4zM138 530h16v4h-16zM186 530h4v4h-4zM138 534h4v4h-4zM150 534h4v4h-4zM182 534h4v4h-4zM150 538h4v4h-4zM178 538h4v4h-4zM106 542h4v4h-4zM134 542h4v4h-4zM174 542h4v4h-4zM154 546h4v4h-4zM170 546h4v4h-4zM106 550h4v4h-4zM134 550h4v4h-4zM154 550h16v4h-16zM106 554h4v4h-4zM134 554h4v4h-4zM110 558h4v4h-4zM134 558h4v4h-4z"/>
<path fill="#ff5800" d="M318 166h4v4h-4zM342 166h12v4h-12zM322 170h8v4h-8zM346 170h16v4h-16zM318 174h16v4h-16zM346 174h24v4h-24zM322 178h16v4h-16zM350 178h24v4h-24zM326 182h48v4h-48zM326 186h4v4h-4zM334 186h40v4h-40zM326 190h48v4h-48zM314 194h64v4h-64zM314 198h64v4h-64zM314 202h72v4h-72zM314 206h84v4h-84zM310 210h88v4h-88zM310 214h104v4h-104zM310 218h76v4h-76zM410 218h12v4h-12zM310 222h72v4h-72zM418 222h8v4h-8zM310 226h72v4h-72zM418 226h4v4h-4zM310 230h72v4h-72zM414 230h8v4h-8zM306 234h36v4h-36zM370 234h12v4h-12zM410 234h8v4h-8zM306 238h28v4h-28zM378 238h8v4h-8zM402 238h8v4h-8zM306 242h28v4h-28zM382 242h24v4h-24zM306 246h8v4h-8zM326 246h8v4h-8zM382 246h16v4h-16zM302 250h8v4h-8zM326 250h8v4h-8zM302 254h4v4h-4zM326 254h8v4h-8zM302 258h4v4h-4zM330 258h4v4h-4zM330 262h4v4h-4zM330 266h4v4h-4zM302 270h4v4h-4zM330 270h4v4h-4zM330 274h4v4h-4zM302 278h4v4h-4zM326 278h8v4h-8zM318 282h8v4h-8zM302 286h4v4h-4zM310 286h12v4h-12zM306 290h12v4h-12zM318 298h16v4h-16zM370 298h4v4h-4zM410 298h4v4h-4zM318 302h4v4h-4zM334 302h4v4h-4zM366 302h4v4h-4zM374 302h4v4h-4zM430 302h4v4h-4zM338 306h4v4h-4zM366 306h4v4h-4zM374 306h4v4h-4zM414 306h4v4h-4zM434 306h4v4h-4zM94 310h4v4h-4zM314 310h4v4h-4zM338 310h4v4h-4zM366 310h12v4h-12zM438 310h4v4h-4zM366 314h12v4h-12zM418 314h4v4h-4zM438 314h12v4h-12zM310 318h4v4h-4zM342 318h4v4h-4zM366 318h4v4h-4zM382 318h8v4h-8zM418 318h36v4h-36zM310 322h4v4h-4zM342 322h4v4h-4zM406 322h8v4h-8zM410 326h4v4h-4zM302 330h8v4h-8zM366 330h4v4h-4zM66 334h4v4h-4zM294 334h4v4h-4zM346 334h4v4h-4zM66 338h4v4h-4zM346 338h4v4h-4zM370 338h4v4h-4zM66 342h8v4h-8zM286 342h4v4h-4zM350 342h4v4h-4zM66 346h8v4h-8zM354 346h12v4h-12zM418 346h4v4h-4zM66 350h12v4h-12zM418 350h8v4h-8zM66 354h12v4h-12zM418 354h4v4h-4zM66 358h12v4h-12zM406 358h12v4h-12zM66 362h8v4h-8zM278 362h4v4h-4zM382 362h4v4h-4zM394 362h16v4h-16zM70 366h8v4h-8zM302 366h4v4h-4zM310 366h4v4h-4zM374 366h4v4h-4zM398 366h12v4h-12zM66 370h4v4h-4zM74 370h4v4h-4zM278 370h4v4h-4zM374 370h4v4h-4zM398 370h12v4h-12zM66 374h4v4h-4zM78 374h4v4h-4zM154 374h12v4h-12zM298 374h4v4h-4zM310 374h4v4h-4zM374 374h4v4h-4zM398 374h8v4h-8zM66 378h8v4h-8zM78 378h4v4h-4zM166 378h4v4h-4zM306 378h4v4h-4zM374 378h4v4h-4zM70 382h4v4h-4zM174 382h4v4h-4zM374 382h4v4h-4zM66 386h12v4h-12zM174 386h4v4h-4zM298 386h4v4h-4zM370 386h4v4h-4zM66 390h8v4h-8zM78 390h4v4h-4zM178 390h8v4h-8zM366 390h4v4h-4zM70 394h4v4h-4zM82 394h4v4h-4zM182 394h8v4h-8zM362 394h4v4h-4zM74 398h4v4h-4zM86 398h4v4h-4zM190 398h4v4h-4zM358 398h4v4h-4zM78 402h4v4h-4zM194 402h4v4h-4zM298 402h4v4h-4zM330 402h4v4h-4zM342 402h4v4h-4zM358 402h4v4h-4zM198 406h4v4h-4zM314 406h4v4h-4zM330 406h4v4h-4zM358 406h4v4h-4zM378 406h4v4h-4zM82 410h4v4h-4zM202 410h4v4h-4zM298 410h4v4h-4zM330 410h4v4h-4zM342 410h4v4h-4zM358 410h4v4h-4zM86 414h4v4h-4zM226 414h4v4h-4zM310 414h4v4h-4zM330 414h4v4h-4zM342 414h4v4h-4zM354 414h8v4h-8zM86 418h8v4h-8zM206 418h4v4h-4zM222 418h4v4h-4zM238 418h4v4h-4zM318 418h4v4h-4zM90 422h8v4h-8zM222 422h4v4h-4zM238 422h4v4h-4zM246 422h4v4h-4zM270 422h4v4h-4zM326 422h4v4h-4zM94 426h8v4h-8zM202 426h4v4h-4zM226 426h8v4h-8zM238 426h4v4h-4zM266 426h4v4h-4zM102 430h4v4h-4zM202 430h4v4h-4zM262 430h4v4h-4zM106 434h4v4h-4zM202 434h4v4h-4zM230 434h4v4h-4zM110 438h4v4h-4zM206 438h4v4h-4zM222 438h8v4h-8zM110 442h12v4h-12zM206 442h4v4h-4zM222 442h4v4h-4zM334 442h4v4h-4zM118 446h8v4h-8zM222 446h4v4h-4zM122 450h4v4h-4zM230 450h4v4h-4zM262 450h4v4h-4zM126 454h8v4h-8zM262 454h4v4h-4zM130 458h4v4h-4zM202 458h4v4h-4zM242 458h4v4h-4zM262 458h8v4h-8zM134 462h4v4h-4zM198 462h8v4h-8zM262 462h4v4h-4zM270 462h4v4h-4zM190 466h8v4h-8zM262 466h4v4h-4zM274 466h4v4h-4zM138 470h4v4h-4zM262 470h4v4h-4zM274 470h4v4h-4zM262 474h4v4h-4zM142 478h4v4h-4zM262 478h4v4h-4zM146 482h4v4h-4zM182 482h4v4h-4zM274 482h4v4h-4zM266 486h8v4h-8zM186 490h4v4h-4zM146 494h4v4h-4zM122 498h24v4h-24zM114 502h8v4h-8zM138 502h16v4h-16zM110 506h4v4h-4zM138 506h4v4h-4zM158 510h4v4h-4zM106 514h4v4h-4zM158 514h4v4h-4zM186 514h4v4h-4zM158 518h4v4h-4zM186 518h4v4h-4zM186 522h4v4h-4zM154 526h4v4h-4zM182 530h4v4h-4zM106 534h4v4h-4zM134 534h4v4h-4zM178 534h4v4h-4zM106 538h4v4h-4zM134 538h4v4h-4zM154 538h4v4h-4zM174 538h4v4h-4zM154 542h4v4h-4zM170 542h4v4h-4zM158 546h4v4h-4zM166 546h4v4h-4zM110 554h4v4h-4zM130 554h4v4h-4zM114 558h4v4h-4zM130 558h4v4h-4z"/>
<path fill="#ff4800" d="M386 218h24v4h-24zM382 222h24v4h-24zM410 222h8v4h-8zM382 226h16v4h-16zM414 226h4v4h-4zM382 230h20v4h-20zM410 230h4v4h-4zM382 234h28v4h-28zM386 238h16v4h-16zM314 246h12v4h-12zM310 250h16v4h-16zM306 254h20v4h-20zM306 258h4v4h-4zM322 258h8v4h-8zM302 262h4v4h-4zM326 262h4v4h-4zM302 266h4v4h-4zM326 266h4v4h-4zM306 270h4v4h-4zM326 270h4v4h-4zM306 274h8v4h-8zM322 274h8v4h-8zM306 278h20v4h-20zM302 282h16v4h-16zM306 286h4v4h-4zM414 298h4v4h-4zM422 298h4v4h-4zM322 302h4v4h-4zM414 302h4v4h-4zM426 302h4v4h-4zM318 306h4v4h-4zM334 306h4v4h-4zM370 306h4v4h-4zM430 306h4v4h-4zM418 310h4v4h-4zM434 310h4v4h-4zM314 314h4v4h-4zM338 314h4v4h-4zM422 314h16v4h-16zM338 318h4v4h-4zM370 318h4v4h-4zM378 318h4v4h-4zM398 322h8v4h-8zM310 326h4v4h-4zM342 326h4v4h-4zM342 330h4v4h-4zM410 330h4v4h-4zM298 334h4v4h-4zM342 334h4v4h-4zM370 334h4v4h-4zM410 334h4v4h-4zM294 338h4v4h-4zM342 338h4v4h-4zM410 338h4v4h-4zM74 342h4v4h-4zM342 342h8v4h-8zM370 342h4v4h-4zM410 342h4v4h-4zM78 346h4v4h-4zM286 346h4v4h-4zM346 346h8v4h-8zM366 346h4v4h-4zM414 346h4v4h-4zM78 350h4v4h-4zM354 350h12v4h-12zM414 350h4v4h-4zM82 354h4v4h-4zM406 354h12v4h-12zM78 358h8v4h-8zM398 358h8v4h-8zM74 362h8v4h-8zM378 362h4v4h-4zM66 366h4v4h-4zM78 366h8v4h-8zM70 370h4v4h-4zM78 370h8v4h-8zM370 370h4v4h-4zM70 374h8v4h-8zM82 374h8v4h-8zM370 374h4v4h-4zM74 378h4v4h-4zM82 378h12v4h-12zM158 378h8v4h-8zM298 378h4v4h-4zM370 378h4v4h-4zM74 382h20v4h-20zM162 382h4v4h-4zM170 382h4v4h-4zM294 382h8v4h-8zM370 382h4v4h-4zM78 386h20v4h-20zM366 386h4v4h-4zM74 390h4v4h-4zM82 390h20v4h-20zM362 390h4v4h-4zM74 394h8v4h-8zM86 394h16v4h-16zM274 394h4v4h-4zM310 394h4v4h-4zM318 394h4v4h-4zM358 394h4v4h-4zM78 398h8v4h-8zM90 398h16v4h-16zM186 398h4v4h-4zM286 398h4v4h-4zM82 402h12v4h-12zM98 402h8v4h-8zM190 402h4v4h-4zM270 402h4v4h-4zM82 406h16v4h-16zM102 406h4v4h-4zM194 406h4v4h-4zM298 406h4v4h-4zM318 406h4v4h-4zM342 406h4v4h-4zM86 410h12v4h-12zM106 410h4v4h-4zM198 410h4v4h-4zM262 410h4v4h-4zM302 410h4v4h-4zM90 414h12v4h-12zM202 414h4v4h-4zM230 414h4v4h-4zM294 414h4v4h-4zM314 414h4v4h-4zM346 414h8v4h-8zM94 418h12v4h-12zM202 418h4v4h-4zM226 418h4v4h-4zM274 418h4v4h-4zM322 418h4v4h-4zM330 418h4v4h-4zM98 422h12v4h-12zM202 422h4v4h-4zM226 422h4v4h-4zM234 422h4v4h-4zM102 426h12v4h-12zM242 426h4v4h-4zM106 430h8v4h-8zM110 434h12v4h-12zM114 438h8v4h-8zM202 438h4v4h-4zM122 442h4v4h-4zM202 442h4v4h-4zM126 446h4v4h-4zM202 446h4v4h-4zM226 446h4v4h-4zM126 450h8v4h-8zM202 450h4v4h-4zM234 450h4v4h-4zM202 454h4v4h-4zM238 454h4v4h-4zM134 458h4v4h-4zM198 458h4v4h-4zM246 458h16v4h-16zM138 462h4v4h-4zM194 462h4v4h-4zM266 462h4v4h-4zM138 466h4v4h-4zM186 466h4v4h-4zM266 466h8v4h-8zM182 470h4v4h-4zM274 474h4v4h-4zM274 478h4v4h-4zM266 482h8v4h-8zM150 486h4v4h-4zM150 490h4v4h-4zM186 494h4v4h-4zM146 498h4v4h-4zM186 498h4v4h-4zM122 502h16v4h-16zM154 502h4v4h-4zM114 506h8v4h-8zM134 506h4v4h-4zM186 506h4v4h-4zM110 510h4v4h-4zM134 510h4v4h-4zM186 510h4v4h-4zM134 514h4v4h-4zM106 518h4v4h-4zM134 518h4v4h-4zM106 522h4v4h-4zM134 522h4v4h-4zM158 522h4v4h-4zM182 522h4v4h-4zM106 526h4v4h-4zM134 526h4v4h-4zM182 526h4v4h-4zM106 530h4v4h-4zM134 530h4v4h-4zM154 530h4v4h-4zM154 534h4v4h-4zM174 534h4v4h-4zM158 538h4v4h-4zM170 538h4v4h-4zM158 542h4v4h-4zM166 542h4v4h-4zM130 546h4v4h-4zM162 546h4v4h-4zM110 550h4v4h-4zM130 550h4v4h-4zM118 558h12v4h-12z"/>
<path fill="#ff3800" d="M406 222h4v4h-4zM398 226h16v4h-16zM402 230h8v4h-8zM310 258h12v4h-12zM306 262h20v4h-20zM306 266h12v4h-12zM322 266h4v4h-4zM310 270h16v4h-16zM314 274h8v4h-8zM326 302h8v4h-8zM370 302h4v4h-4zM418 306h12v4h-12zM318 310h4v4h-4zM334 310h4v4h-4zM422 310h12v4h-12zM314 318h4v4h-4zM374 318h4v4h-4zM314 322h4v4h-4zM338 322h4v4h-4zM366 322h4v4h-4zM382 322h16v4h-16zM314 326h4v4h-4zM338 326h4v4h-4zM406 326h4v4h-4zM310 330h4v4h-4zM70 334h4v4h-4zM302 334h8v4h-8zM70 338h8v4h-8zM338 338h4v4h-4zM78 342h4v4h-4zM290 342h4v4h-4zM338 342h4v4h-4zM74 346h4v4h-4zM82 346h4v4h-4zM334 346h12v4h-12zM370 346h4v4h-4zM406 346h8v4h-8zM82 350h4v4h-4zM342 350h12v4h-12zM366 350h4v4h-4zM402 350h8v4h-8zM78 354h4v4h-4zM86 354h4v4h-4zM282 354h4v4h-4zM358 354h8v4h-8zM402 354h4v4h-4zM86 358h8v4h-8zM390 358h8v4h-8zM82 362h16v4h-16zM306 362h8v4h-8zM374 362h4v4h-4zM86 366h20v4h-20zM314 366h4v4h-4zM370 366h4v4h-4zM86 370h20v4h-20zM298 370h4v4h-4zM314 370h4v4h-4zM90 374h20v4h-20zM366 374h4v4h-4zM94 378h16v4h-16zM366 378h4v4h-4zM94 382h16v4h-16zM166 382h4v4h-4zM302 382h4v4h-4zM366 382h4v4h-4zM98 386h12v4h-12zM170 386h4v4h-4zM362 386h4v4h-4zM102 390h8v4h-8zM174 390h4v4h-4zM102 394h8v4h-8zM178 394h4v4h-4zM286 394h4v4h-4zM182 398h4v4h-4zM342 398h4v4h-4zM354 398h4v4h-4zM94 402h4v4h-4zM106 402h8v4h-8zM186 402h4v4h-4zM346 402h4v4h-4zM354 402h4v4h-4zM98 406h4v4h-4zM106 406h8v4h-8zM310 406h4v4h-4zM346 406h4v4h-4zM354 406h4v4h-4zM98 410h8v4h-8zM110 410h4v4h-4zM278 410h4v4h-4zM306 410h4v4h-4zM346 410h12v4h-12zM102 414h16v4h-16zM198 414h4v4h-4zM234 414h4v4h-4zM318 414h4v4h-4zM326 414h4v4h-4zM106 418h8v4h-8zM198 418h4v4h-4zM230 418h8v4h-8zM254 418h4v4h-4zM326 418h4v4h-4zM110 422h8v4h-8zM198 422h4v4h-4zM230 422h4v4h-4zM114 426h4v4h-4zM198 426h4v4h-4zM114 430h8v4h-8zM198 430h4v4h-4zM238 430h4v4h-4zM122 434h4v4h-4zM198 434h4v4h-4zM234 434h4v4h-4zM122 438h4v4h-4zM198 438h4v4h-4zM230 438h4v4h-4zM126 442h4v4h-4zM198 442h4v4h-4zM226 442h8v4h-8zM130 446h4v4h-4zM198 446h4v4h-4zM230 446h4v4h-4zM134 450h4v4h-4zM198 450h4v4h-4zM134 454h4v4h-4zM198 454h4v4h-4zM242 454h4v4h-4zM258 454h4v4h-4zM138 458h4v4h-4zM194 458h4v4h-4zM190 462h4v4h-4zM182 466h4v4h-4zM142 470h4v4h-4zM266 470h8v4h-8zM142 474h4v4h-4zM178 474h4v4h-4zM266 474h4v4h-4zM146 478h4v4h-4zM178 478h4v4h-4zM266 478h4v4h-4zM150 482h4v4h-4zM182 486h4v4h-4zM150 494h4v4h-4zM150 498h4v4h-4zM186 502h4v4h-4zM122 506h12v4h-12zM158 506h4v4h-4zM114 510h4v4h-4zM126 510h8v4h-8zM110 514h4v4h-4zM130 514h4v4h-4zM162 514h4v4h-4zM182 514h4v4h-4zM130 518h4v4h-4zM162 518h4v4h-4zM182 518h4v4h-4zM130 522h4v4h-4zM130 526h4v4h-4zM158 526h4v4h-4zM178 526h4v4h-4zM158 530h4v4h-4zM178 530h4v4h-4zM158 534h4v4h-4zM170 534h4v4h-4zM162 538h8v4h-8zM130 542h4v4h-4zM162 542h4v4h-4zM110 546h4v4h-4zM114 554h16v4h-16z"/>
<path fill="#ff2800" d="M318 266h4v4h-4zM66 290h4v4h-4zM66 294h8v4h-8zM66 298h4v4h-4zM74 298h4v4h-4zM418 298h4v4h-4zM66 302h4v4h-4zM418 302h8v4h-8zM66 306h8v4h-8zM322 306h4v4h-4zM330 306h4v4h-4zM66 310h8v4h-8zM66 314h12v4h-12zM334 314h4v4h-4zM66 318h12v4h-12zM334 318h4v4h-4zM66 322h12v4h-12zM370 322h12v4h-12zM66 326h16v4h-16zM366 326h4v4h-4zM402 326h4v4h-4zM66 330h20v4h-20zM314 330h4v4h-4zM338 330h4v4h-4zM370 330h4v4h-4zM406 330h4v4h-4zM74 334h12v4h-12zM310 334h8v4h-8zM338 334h4v4h-4zM374 334h4v4h-4zM78 338h12v4h-12zM298 338h24v4h-24zM334 338h4v4h-4zM374 338h4v4h-4zM82 342h12v4h-12zM314 342h24v4h-24zM406 342h4v4h-4zM86 346h12v4h-12zM322 346h4v4h-4zM330 346h4v4h-4zM402 346h4v4h-4zM86 350h16v4h-16zM334 350h8v4h-8zM370 350h4v4h-4zM410 350h4v4h-4zM90 354h12v4h-12zM346 354h12v4h-12zM366 354h4v4h-4zM398 354h4v4h-4zM94 358h12v4h-12zM362 358h12v4h-12zM378 358h12v4h-12zM98 362h12v4h-12zM302 362h4v4h-4zM314 362h4v4h-4zM366 362h8v4h-8zM106 366h8v4h-8zM282 366h4v4h-4zM366 366h4v4h-4zM106 370h12v4h-12zM366 370h4v4h-4zM110 374h8v4h-8zM278 374h4v4h-4zM314 374h4v4h-4zM362 374h4v4h-4zM110 378h8v4h-8zM310 378h4v4h-4zM362 378h4v4h-4zM110 382h12v4h-12zM278 382h4v4h-4zM362 382h4v4h-4zM110 386h12v4h-12zM166 386h4v4h-4zM278 386h4v4h-4zM110 390h12v4h-12zM170 390h4v4h-4zM314 390h4v4h-4zM358 390h4v4h-4zM110 394h16v4h-16zM174 394h4v4h-4zM354 394h4v4h-4zM106 398h20v4h-20zM330 398h4v4h-4zM114 402h12v4h-12zM350 402h4v4h-4zM114 406h12v4h-12zM350 406h4v4h-4zM114 410h12v4h-12zM194 410h4v4h-4zM294 410h4v4h-4zM314 410h8v4h-8zM326 410h4v4h-4zM118 414h8v4h-8zM194 414h4v4h-4zM258 414h4v4h-4zM278 414h4v4h-4zM322 414h4v4h-4zM114 418h16v4h-16zM194 418h4v4h-4zM118 422h12v4h-12zM194 422h4v4h-4zM250 422h4v4h-4zM118 426h12v4h-12zM194 426h4v4h-4zM262 426h4v4h-4zM122 430h8v4h-8zM194 430h4v4h-4zM126 434h8v4h-8zM194 434h4v4h-4zM258 434h4v4h-4zM126 438h8v4h-8zM194 438h4v4h-4zM234 438h4v4h-4zM258 438h4v4h-4zM130 442h8v4h-8zM194 442h4v4h-4zM134 446h4v4h-4zM194 446h4v4h-4zM234 446h4v4h-4zM258 446h4v4h-4zM138 450h4v4h-4zM194 450h4v4h-4zM238 450h4v4h-4zM258 450h4v4h-4zM138 454h4v4h-4zM194 454h4v4h-4zM246 454h4v4h-4zM254 454h4v4h-4zM190 458h4v4h-4zM142 462h4v4h-4zM186 462h4v4h-4zM142 466h4v4h-4zM178 470h4v4h-4zM270 474h4v4h-4zM150 478h4v4h-4zM270 478h4v4h-4zM154 482h4v4h-4zM178 482h4v4h-4zM154 486h4v4h-4zM154 490h4v4h-4zM182 490h4v4h-4zM154 494h4v4h-4zM154 498h4v4h-4zM158 502h4v4h-4zM118 510h8v4h-8zM162 510h4v4h-4zM182 510h4v4h-4zM114 514h4v4h-4zM126 514h4v4h-4zM110 518h4v4h-4zM178 518h4v4h-4zM162 522h4v4h-4zM178 522h4v4h-4zM162 526h4v4h-4zM174 526h4v4h-4zM130 530h4v4h-4zM162 530h16v4h-16zM130 534h4v4h-4zM162 534h8v4h-8zM130 538h4v4h-4zM110 542h4v4h-4zM114 550h4v4h-4zM126 550h4v4h-4z"/>
<path fill="#ff1800" d="M70 298h4v4h-4zM70 302h12v4h-12zM74 306h12v4h-12zM326 306h4v4h-4zM74 310h16v4h-16zM330 310h4v4h-4zM78 314h16v4h-16zM318 314h4v4h-4zM330 314h4v4h-4zM78 318h20v4h-20zM318 318h4v4h-4zM78 322h24v4h-24zM318 322h4v4h-4zM334 322h4v4h-4zM82 326h24v4h-24zM318 326h4v4h-4zM334 326h4v4h-4zM374 326h12v4h-12zM398 326h4v4h-4zM86 330h20v4h-20zM318 330h4v4h-4zM334 330h4v4h-4zM374 330h4v4h-4zM86 334h24v4h-24zM318 334h8v4h-8zM330 334h8v4h-8zM406 334h4v4h-4zM90 338h28v4h-28zM322 338h12v4h-12zM406 338h4v4h-4zM94 342h20v4h-20zM118 342h4v4h-4zM294 342h8v4h-8zM306 342h8v4h-8zM374 342h4v4h-4zM98 346h16v4h-16zM118 346h4v4h-4zM290 346h4v4h-4zM310 346h12v4h-12zM326 346h4v4h-4zM374 346h4v4h-4zM102 350h12v4h-12zM286 350h4v4h-4zM314 350h20v4h-20zM398 350h4v4h-4zM102 354h16v4h-16zM314 354h8v4h-8zM338 354h8v4h-8zM370 354h8v4h-8zM394 354h4v4h-4zM106 358h12v4h-12zM306 358h12v4h-12zM350 358h12v4h-12zM374 358h4v4h-4zM110 362h12v4h-12zM318 362h4v4h-4zM362 362h4v4h-4zM114 366h12v4h-12zM318 366h4v4h-4zM362 366h4v4h-4zM118 370h12v4h-12zM282 370h4v4h-4zM318 370h4v4h-4zM362 370h4v4h-4zM118 374h8v4h-8zM118 378h8v4h-8zM294 378h4v4h-4zM314 378h4v4h-4zM122 382h8v4h-8zM290 382h4v4h-4zM358 382h4v4h-4zM122 386h12v4h-12zM358 386h4v4h-4zM122 390h12v4h-12zM318 390h4v4h-4zM126 394h12v4h-12zM126 398h8v4h-8zM302 398h4v4h-4zM346 398h8v4h-8zM126 402h12v4h-12zM282 402h4v4h-4zM126 406h8v4h-8zM190 406h4v4h-4zM302 406h8v4h-8zM126 410h8v4h-8zM310 410h4v4h-4zM322 410h4v4h-4zM126 414h8v4h-8zM130 418h4v4h-4zM130 422h8v4h-8zM130 426h8v4h-8zM246 426h4v4h-4zM130 430h8v4h-8zM242 430h4v4h-4zM258 430h4v4h-4zM134 434h4v4h-4zM190 434h4v4h-4zM238 434h4v4h-4zM134 438h4v4h-4zM190 438h4v4h-4zM138 442h4v4h-4zM190 442h4v4h-4zM234 442h4v4h-4zM258 442h4v4h-4zM138 446h4v4h-4zM190 446h4v4h-4zM190 450h4v4h-4zM242 450h4v4h-4zM142 454h4v4h-4zM190 454h4v4h-4zM250 454h4v4h-4zM142 458h4v4h-4zM186 458h4v4h-4zM182 462h4v4h-4zM178 466h4v4h-4zM146 474h4v4h-4zM154 478h4v4h-4zM158 486h4v4h-4zM158 490h4v4h-4zM158 494h4v4h-4zM182 494h4v4h-4zM158 498h4v4h-4zM182 502h4v4h-4zM162 506h4v4h-4zM182 506h4v4h-4zM118 514h8v4h-8zM166 514h4v4h-4zM178 514h4v4h-4zM126 518h4v4h-4zM166 518h12v4h-12zM166 522h12v4h-12zM166 526h8v4h-8zM110 538h4v4h-4zM114 546h4v4h-4zM126 546h4v4h-4zM118 550h8v4h-8z"/>
<path fill="#ff0800" d="M322 310h4v4h-4zM330 318h4v4h-4zM330 322h4v4h-4zM322 326h4v4h-4zM330 326h4v4h-4zM370 326h4v4h-4zM386 326h12v4h-12zM106 330h4v4h-4zM322 330h12v4h-12zM378 330h8v4h-8zM402 330h4v4h-4zM110 334h4v4h-4zM326 334h4v4h-4zM378 334h4v4h-4zM378 338h4v4h-4zM114 342h4v4h-4zM302 342h4v4h-4zM402 342h4v4h-4zM114 346h4v4h-4zM122 346h4v4h-4zM306 346h4v4h-4zM398 346h4v4h-4zM114 350h16v4h-16zM310 350h4v4h-4zM374 350h4v4h-4zM394 350h4v4h-4zM118 354h16v4h-16zM306 354h8v4h-8zM322 354h16v4h-16zM378 354h4v4h-4zM390 354h4v4h-4zM118 358h20v4h-20zM302 358h4v4h-4zM318 358h8v4h-8zM342 358h8v4h-8zM122 362h20v4h-20zM350 362h12v4h-12zM126 366h20v4h-20zM298 366h4v4h-4zM354 366h8v4h-8zM130 370h20v4h-20zM358 370h4v4h-4zM126 374h28v4h-28zM318 374h4v4h-4zM358 374h4v4h-4zM126 378h24v4h-24zM154 378h4v4h-4zM318 378h4v4h-4zM358 378h4v4h-4zM130 382h12v4h-12zM158 382h4v4h-4zM306 382h4v4h-4zM134 386h8v4h-8zM302 386h4v4h-4zM314 386h4v4h-4zM134 390h12v4h-12zM286 390h4v4h-4zM310 390h4v4h-4zM354 390h4v4h-4zM138 394h4v4h-4zM302 394h4v4h-4zM322 394h4v4h-4zM334 394h8v4h-8zM350 394h4v4h-4zM134 398h12v4h-12zM274 398h4v4h-4zM306 398h4v4h-4zM322 398h4v4h-4zM138 402h8v4h-8zM306 402h4v4h-4zM322 402h4v4h-4zM134 406h12v4h-12zM186 406h4v4h-4zM270 406h4v4h-4zM322 406h8v4h-8zM134 410h12v4h-12zM190 410h4v4h-4zM134 414h8v4h-8zM190 414h4v4h-4zM134 418h8v4h-8zM190 418h4v4h-4zM270 418h4v4h-4zM138 422h4v4h-4zM190 422h4v4h-4zM266 422h4v4h-4zM138 426h4v4h-4zM190 426h4v4h-4zM138 430h4v4h-4zM190 430h4v4h-4zM138 434h4v4h-4zM138 438h8v4h-8zM142 442h4v4h-4zM142 446h4v4h-4zM186 446h4v4h-4zM238 446h4v4h-4zM142 450h4v4h-4zM186 450h4v4h-4zM254 450h4v4h-4zM186 454h4v4h-4zM146 458h4v4h-4zM182 458h4v4h-4zM146 462h4v4h-4zM178 462h4v4h-4zM146 466h4v4h-4zM146 470h4v4h-4zM174 470h4v4h-4zM150 474h4v4h-4zM174 474h4v4h-4zM158 478h4v4h-4zM174 478h4v4h-4zM158 482h4v4h-4zM178 486h4v4h-4zM182 498h4v4h-4zM162 502h4v4h-4zM166 510h4v4h-4zM178 510h4v4h-4zM170 514h8v4h-8zM114 518h4v4h-4zM122 518h4v4h-4zM110 522h4v4h-4zM126 522h4v4h-4zM126 526h4v4h-4zM110 534h4v4h-4zM126 542h4v4h-4z"/>
<path fill="#f70000" d="M326 310h4v4h-4zM322 314h8v4h-8zM322 318h8v4h-8zM322 322h8v4h-8zM326 326h4v4h-4zM398 330h4v4h-4zM382 334h4v4h-4zM402 334h4v4h-4zM402 338h4v4h-4zM378 342h4v4h-4zM294 346h12v4h-12zM378 346h4v4h-4zM306 350h4v4h-4zM302 354h4v4h-4zM382 354h8v4h-8zM282 358h4v4h-4zM326 358h16v4h-16zM298 362h4v4h-4zM322 362h4v4h-4zM342 362h8v4h-8zM346 366h8v4h-8zM350 370h8v4h-8zM294 374h4v4h-4zM322 374h4v4h-4zM350 374h8v4h-8zM150 378h4v4h-4zM354 378h4v4h-4zM142 382h16v4h-16zM310 382h12v4h-12zM354 382h4v4h-4zM142 386h24v4h-24zM310 386h4v4h-4zM318 386h4v4h-4zM354 386h4v4h-4zM146 390h24v4h-24zM322 390h4v4h-4zM142 394h24v4h-24zM330 394h4v4h-4zM342 394h8v4h-8zM146 398h16v4h-16zM178 398h4v4h-4zM146 402h12v4h-12zM182 402h4v4h-4zM302 402h4v4h-4zM326 402h4v4h-4zM146 406h8v4h-8zM182 406h4v4h-4zM146 410h4v4h-4zM186 410h4v4h-4zM266 410h4v4h-4zM142 414h12v4h-12zM186 414h4v4h-4zM274 414h4v4h-4zM142 418h8v4h-8zM186 418h4v4h-4zM142 422h8v4h-8zM254 422h4v4h-4zM142 426h8v4h-8zM258 426h4v4h-4zM142 430h8v4h-8zM142 434h8v4h-8zM186 434h4v4h-4zM146 438h4v4h-4zM186 438h4v4h-4zM238 438h4v4h-4zM146 442h4v4h-4zM186 442h4v4h-4zM238 442h4v4h-4zM146 446h4v4h-4zM182 446h4v4h-4zM254 446h4v4h-4zM146 450h4v4h-4zM182 450h4v4h-4zM246 450h8v4h-8zM146 454h4v4h-4zM182 454h4v4h-4zM178 458h4v4h-4zM150 462h4v4h-4zM150 466h4v4h-4zM174 466h4v4h-4zM150 470h8v4h-8zM154 474h8v4h-8zM170 474h4v4h-4zM162 478h4v4h-4zM162 482h4v4h-4zM174 482h4v4h-4zM162 486h4v4h-4zM162 490h4v4h-4zM178 490h4v4h-4zM162 494h4v4h-4zM162 498h4v4h-4zM166 506h4v4h-4zM178 506h4v4h-4zM118 518h4v4h-4zM110 526h4v4h-4zM110 530h4v4h-4zM126 530h4v4h-4zM126 534h4v4h-4zM126 538h4v4h-4zM114 542h4v4h-4zM118 546h8v4h-8z"/>
<path fill="#e70000" d="M386 330h4v4h-4zM382 338h4v4h-4zM382 342h4v4h-4zM398 342h4v4h-4zM394 346h4v4h-4zM290 350h4v4h-4zM302 350h4v4h-4zM378 350h4v4h-4zM390 350h4v4h-4zM286 354h4v4h-4zM298 358h4v4h-4zM282 362h4v4h-4zM326 362h4v4h-4zM338 362h4v4h-4zM322 366h4v4h-4zM342 366h4v4h-4zM322 370h4v4h-4zM342 370h8v4h-8zM326 374h4v4h-4zM342 374h8v4h-8zM290 378h4v4h-4zM322 378h4v4h-4zM346 378h8v4h-8zM350 382h4v4h-4zM286 386h4v4h-4zM306 386h4v4h-4zM322 386h4v4h-4zM350 386h4v4h-4zM278 390h4v4h-4zM302 390h4v4h-4zM350 390h4v4h-4zM166 394h8v4h-8zM306 394h4v4h-4zM326 394h4v4h-4zM162 398h8v4h-8zM174 398h4v4h-4zM282 398h4v4h-4zM326 398h4v4h-4zM158 402h24v4h-24zM154 406h12v4h-12zM170 406h4v4h-4zM178 406h4v4h-4zM278 406h4v4h-4zM150 410h16v4h-16zM178 410h8v4h-8zM154 414h12v4h-12zM182 414h4v4h-4zM262 414h4v4h-4zM150 418h8v4h-8zM182 418h4v4h-4zM258 418h4v4h-4zM150 422h8v4h-8zM186 422h4v4h-4zM258 422h4v4h-4zM150 426h4v4h-4zM186 426h4v4h-4zM150 430h4v4h-4zM186 430h4v4h-4zM246 430h4v4h-4zM150 434h4v4h-4zM242 434h4v4h-4zM150 438h4v4h-4zM182 438h4v4h-4zM254 438h4v4h-4zM150 442h4v4h-4zM182 442h4v4h-4zM254 442h4v4h-4zM150 446h4v4h-4zM178 446h4v4h-4zM242 446h4v4h-4zM150 450h4v4h-4zM178 450h4v4h-4zM150 454h4v4h-4zM178 454h4v4h-4zM150 458h4v4h-4zM154 462h4v4h-4zM174 462h4v4h-4zM154 466h4v4h-4zM170 466h4v4h-4zM158 470h4v4h-4zM170 470h4v4h-4zM162 474h8v4h-8zM166 478h8v4h-8zM166 482h4v4h-4zM166 486h4v4h-4zM174 486h4v4h-4zM178 494h4v4h-4zM166 502h4v4h-4zM178 502h4v4h-4zM170 510h8v4h-8zM114 522h12v4h-12zM114 538h4v4h-4zM122 542h4v4h-4z"/>
<path fill="#d70000" d="M390 330h8v4h-8zM386 334h4v4h-4zM398 334h4v4h-4zM386 338h4v4h-4zM398 338h4v4h-4zM386 342h12v4h-12zM390 346h4v4h-4zM294 350h8v4h-8zM298 354h4v4h-4zM330 362h8v4h-8zM286 366h4v4h-4zM338 366h4v4h-4zM294 370h4v4h-4zM326 370h4v4h-4zM338 370h4v4h-4zM282 374h4v4h-4zM290 374h4v4h-4zM330 374h12v4h-12zM282 378h4v4h-4zM326 378h4v4h-4zM342 378h4v4h-4zM322 382h4v4h-4zM306 390h4v4h-4zM326 390h4v4h-4zM170 398h4v4h-4zM166 406h4v4h-4zM174 406h4v4h-4zM166 410h12v4h-12zM166 414h16v4h-16zM158 418h12v4h-12zM178 418h4v4h-4zM158 422h8v4h-8zM182 422h4v4h-4zM262 422h4v4h-4zM154 426h8v4h-8zM182 426h4v4h-4zM250 426h4v4h-4zM154 430h4v4h-4zM182 430h4v4h-4zM154 434h4v4h-4zM182 434h4v4h-4zM254 434h4v4h-4zM154 438h4v4h-4zM154 442h4v4h-4zM178 442h4v4h-4zM154 446h4v4h-4zM246 446h8v4h-8zM154 450h4v4h-4zM174 450h4v4h-4zM154 454h4v4h-4zM174 454h4v4h-4zM154 458h4v4h-4zM174 458h4v4h-4zM158 462h4v4h-4zM170 462h4v4h-4zM158 466h12v4h-12zM162 470h8v4h-8zM170 482h4v4h-4zM170 486h4v4h-4zM166 490h4v4h-4zM174 490h4v4h-4zM166 494h4v4h-4zM166 498h4v4h-4zM178 498h4v4h-4zM170 506h8v4h-8zM122 526h4v4h-4zM122 538h4v4h-4zM118 542h4v4h-4z"/>
<path fill="#c70000" d="M394 334h4v4h-4zM390 338h8v4h-8zM382 346h8v4h-8zM382 350h8v4h-8zM290 354h8v4h-8zM286 358h4v4h-4zM294 358h4v4h-4zM294 362h4v4h-4zM294 366h4v4h-4zM326 366h4v4h-4zM334 366h4v4h-4zM286 370h4v4h-4zM330 370h8v4h-8zM330 378h12v4h-12zM346 382h4v4h-4zM346 386h4v4h-4zM346 390h4v4h-4zM282 394h4v4h-4zM274 402h4v4h-4zM274 410h4v4h-4zM266 414h8v4h-8zM170 418h8v4h-8zM166 422h16v4h-16zM162 426h20v4h-20zM254 426h4v4h-4zM158 430h8v4h-8zM158 434h8v4h-8zM178 434h4v4h-4zM246 434h4v4h-4zM158 438h4v4h-4zM178 438h4v4h-4zM242 438h4v4h-4zM158 442h4v4h-4zM174 442h4v4h-4zM158 446h4v4h-4zM174 446h4v4h-4zM158 450h4v4h-4zM158 454h4v4h-4zM158 458h4v4h-4zM170 458h4v4h-4zM162 462h8v4h-8zM170 490h4v4h-4zM170 502h8v4h-8zM114 526h8v4h-8zM122 530h4v4h-4zM114 534h4v4h-4zM122 534h4v4h-4zM118 538h4v4h-4z"/>
<path fill="#b70000" d="M390 334h4v4h-4zM290 358h4v4h-4zM286 362h4v4h-4zM290 366h4v4h-4zM330 366h4v4h-4zM286 382h4v4h-4zM326 382h4v4h-4zM326 386h4v4h-4zM330 390h16v4h-16zM278 394h4v4h-4zM270 410h4v4h-4zM266 418h4v4h-4zM166 430h16v4h-16zM254 430h4v4h-4zM166 434h12v4h-12zM162 438h16v4h-16zM162 442h8v4h-8zM242 442h4v4h-4zM250 442h4v4h-4zM162 446h12v4h-12zM162 450h4v4h-4zM170 450h4v4h-4zM170 454h4v4h-4zM162 458h8v4h-8zM170 494h8v4h-8zM170 498h8v4h-8zM114 530h8v4h-8z"/>
<path fill="#a70000" d="M290 362h4v4h-4zM290 370h4v4h-4zM286 374h4v4h-4zM286 378h4v4h-4zM282 382h4v4h-4zM342 382h4v4h-4zM282 390h4v4h-4zM278 398h4v4h-4zM278 402h4v4h-4zM274 406h4v4h-4zM262 418h4v4h-4zM250 430h4v4h-4zM250 438h4v4h-4zM170 442h4v4h-4zM166 450h4v4h-4zM162 454h8v4h-8zM118 534h4v4h-4z"/>
<path fill="#970000" d="M330 382h12v4h-12zM282 386h4v4h-4zM342 386h4v4h-4zM250 434h4v4h-4zM246 438h4v4h-4zM246 442h4v4h-4z"/>
<path fill="#870000" d="M330 386h12v4h-12z"/>
</g></g>
<g clip-path="url(#sea)" fill="none" stroke="#000" stroke-width="1" stroke-linejoin="round">
<g clip-path="url(#o0)"><path d="M186.2 428.8 L183.0 437.5 L177.5 447.5 L177.5 455.0 L173.8 463.8 L168.0 472.0 L163.2 472.0 L158.0 465.5 L154.5 458.0 L155.5 450.0 M173.8 483.8 L178.8 493.8 L180.0 500.0 L176.2 510.0 L171.2 510.0 L167.5 497.5 L170.0 490.0 L173.8 483.8 M113.8 526.2 L122.5 525.0 L125.0 530.0 L125.0 540.0 L122.5 547.5 L116.2 540.0 L113.0 532.5 L113.8 526.2 M243.0 437.5 L250.0 435.0 L253.8 427.5 L258.0 426.2 L257.0 435.0 L255.0 443.8 L246.2 448.0 L242.0 443.8 L243.0 437.5 M213.8 420.8 L213.0 427.5 L220.0 432.5 L226.2 432.5 L235.0 431.2 L245.0 425.0 L255.0 417.5 L262.5 411.2 L266.2 405.0 L268.8 400.0 M175.0 547.5 L180.0 542.5 L188.8 536.2 L192.5 530.0 L191.2 522.5 L193.0 510.0 L192.5 497.5 L188.8 487.5 L185.0 480.0 L186.2 475.0 L193.8 471.2 L204.5 475.0 L210.0 481.2 L220.0 482.5 L226.2 480.0 L222.5 477.5 L217.5 470.0 L210.0 462.5 L209.5 453.8 M137.5 472.5 L140.0 482.5 L147.0 486.2 L144.5 493.0 L136.2 490.0 L127.5 489.5 L123.2 493.0 M143.0 515.0 L146.2 510.0 L154.5 508.8 L157.5 513.8 L155.5 522.5 L148.8 524.5 L143.8 520.0 L143.0 515.0 M136.2 547.5 L138.8 540.0 L143.8 536.2 L148.8 540.0 L151.2 547.5 M105.0 516.2 L105.5 530.0 L107.5 547.5 M209.5 453.8 L215.5 449.5 L222.0 452.0 L229.2 455.5 L238.5 460.2 M270.5 437.0 L276.2 428.0 L281.2 437.0 L276.2 445.5 L270.5 437.0"/></g>
<g clip-path="url(#o1)"><path d="M264.2 440.0 L265.1 447.3 L269.7 455.6 L276.1 462.0 L279.8 469.3 L281.6 476.7 L280.7 483.1 L277.9 488.6 L273.3 493.2 L266.0 493.2 L262.3 489.1 L261.4 482.2 L261.4 471.2 L258.7 466.6 L254.1 464.8 L245.8 464.8 L238.5 460.2 L229.3 455.6 L222.0 451.9 L215.6 449.2 L209.2 452.8 L210.1 460.2 L214.7 465.7 L219.3 469.3 L220.2 474.8 L226.6 479.4 L218.3 483.1 L211.0 482.2 L204.6 478.5 L200.0 476.7 M330.0 468.4 L326.5 464.8 L321.0 470.3 L318.3 479.4 L315.5 488.6 L302.7 492.3 L295.3 493.5 L289.3 493.2 L285.8 491.3 L278.8 498.7 L271.5 504.2 L270.6 509.7 L273.3 517.0 L275.5 523.4 L269.7 528.0 L265.1 529.8 L253.2 527.1 L244.9 524.7 L239.4 529.8 L234.8 538.1 L227.5 544.5 L220.2 545.4 L214.7 544.9 L211.9 547.3 M230.8 505.1 L239.4 502.7 L247.3 502.0 L250.4 504.5 L244.9 508.2 L235.8 506.9 L230.8 505.1"/></g>
<g clip-path="url(#o2)"><path d="M395.0 331.2 L400.0 337.5 L397.5 343.8 L391.2 347.5 L389.5 353.8 L383.8 354.5 L382.5 348.8 L386.2 343.8 L390.0 340.0 L390.0 333.8 L395.0 331.2 M379.5 371.2 L383.8 366.2 L392.0 365.5 L393.0 368.8 L387.5 375.0 L381.2 377.0 L379.5 371.2 M362.0 401.8 L366.2 399.5 L377.5 400.0 L378.0 402.5 L372.5 404.5 L365.0 404.2 L362.0 401.8 M430.0 330.5 L416.2 329.5 L415.5 341.2 L421.2 340.0 L430.0 337.5 M378.8 300.0 L380.0 310.0 L387.5 317.5 L400.0 320.0 L410.0 316.2 L412.5 308.8 L406.2 302.5 L405.0 300.0 M395.0 308.0 L396.8 306.2 L398.5 308.0 L396.8 309.8 L395.0 308.0 M341.2 300.0 L346.2 312.5 L350.0 325.0 L355.0 335.0 L361.2 340.0 L365.0 343.8 M362.5 300.0 L360.0 312.5 L361.2 325.0 L366.2 332.5 L368.8 340.0 L365.0 343.8 M346.2 422.5 L362.5 421.2 L380.0 416.2 L392.5 407.5 L402.5 397.5 L407.5 385.0 L412.5 372.5 L420.0 363.8 L430.0 360.0 M330.8 443.0 L337.5 436.2 L345.0 445.0 L340.0 449.5 L333.8 448.8 L330.8 443.0"/></g>
<g clip-path="url(#o3)"><path d="M295.0 300.0 L301.9 307.5 L295.0 315.6 M305.0 300.0 L310.0 303.1 L315.6 306.9 L312.5 311.2 L308.8 316.2 L308.1 323.8 L305.6 329.0 L295.0 329.8 M293.8 335.0 L290.0 340.0 L285.6 342.5 M292.5 351.9 L291.2 355.0 L285.6 358.8 L284.4 365.0 L282.5 375.0 M300.0 351.9 L299.4 360.0 L298.1 368.1 L295.0 375.0 M283.8 352.5 L279.4 358.8 L278.1 367.5 L276.2 375.0 M280.0 352.5 L275.6 357.5 M341.9 300.0 L345.0 307.5 L347.5 315.0 L348.8 321.2 M325.0 368.1 L328.8 364.8 L336.2 363.5 L342.5 368.1 L338.8 372.5 L330.0 373.1 L325.0 368.1 M301.2 375.0 L305.6 368.1 L310.0 375.0"/></g>
<g clip-path="url(#o4)"><path d="M288.8 370.0 L286.2 373.8 L283.8 380.0 L281.9 388.8 L278.1 396.9 L275.0 405.0 L273.1 410.0 L268.8 414.4 L263.8 416.9 L260.6 420.0 L261.2 423.1 L264.4 425.0 L267.5 422.5 L271.2 416.2 L277.5 411.2 L281.2 406.2 L283.1 398.8 L287.5 391.2 L290.0 382.5 L291.2 375.0 L296.2 370.0 M282.5 370.0 L280.6 380.0 L278.8 390.0 L275.0 395.0 L273.8 401.2 L268.8 407.5 L262.5 411.2 L256.2 413.8 L250.0 418.1 M270.6 386.2 L270.0 395.0 L266.2 401.2 L260.0 404.4 L255.0 405.6 M267.5 386.2 L266.9 395.0 L265.0 400.0 M273.1 386.0 L272.5 396.2 L268.1 403.1 L261.2 406.2 L255.0 407.5 M323.8 386.2 L326.2 381.2 L335.0 379.0 L345.0 380.6 L350.0 382.5 M323.8 386.2 L327.5 391.2 L335.0 394.4 L345.0 395.0 L350.0 393.8 M325.0 370.0 L330.0 372.8 L337.5 372.8 L340.6 370.0 M289.8 395.6 L291.9 388.8 L295.6 386.2 L299.4 390.0 L300.6 396.2 L299.4 402.5 L295.0 405.2 L290.6 403.1 L289.8 395.6 M294.0 395.0 L295.6 391.9 L297.2 395.0 L295.6 398.1 L294.0 395.0 M300.6 376.2 L302.5 371.9 L305.6 370.0 M300.6 376.2 L305.0 380.0 L310.9 375.6 L308.8 371.2 L307.5 370.0 M312.1 401.2 L313.8 396.9 L316.2 395.6 L319.4 398.8 L320.6 401.9 L318.1 406.2 L314.4 406.0 L312.1 401.2 M333.1 405.0 L335.0 400.6 L339.4 400.0 L341.9 403.8 L340.6 411.2 L338.1 415.6 L334.4 414.4 L333.1 405.0 M270.6 436.9 L275.6 428.1 L281.0 435.0 L279.4 441.2 L275.6 444.8 L272.5 442.5 L270.6 436.9 M305.0 404.4 L305.6 388.8 L310.0 384.4 M305.0 404.4 L306.9 397.5 L307.8 392.5 M325.6 398.1 L326.9 402.5 L326.2 407.5 L325.2 402.5 L325.6 398.1 M294.4 410.0 L299.4 410.0 L295.6 418.8 L294.4 410.0 M265.6 445.0 L264.4 440.0 L264.4 433.8 L268.8 428.8 L275.0 422.5 L280.0 413.8 L283.8 407.5 L286.2 405.6 L288.8 408.8 L290.0 420.0 L291.2 428.8 L293.8 431.9 L296.9 430.0 L298.8 423.8 L302.5 416.2 L306.2 414.4 L310.0 416.9 L313.8 422.5 L318.1 425.0 L322.5 423.8 L335.0 423.1 L346.9 423.1 L350.0 423.1 M331.2 445.0 L332.5 440.6 L336.2 436.2 L341.2 441.2 L343.1 445.0 M250.0 428.8 L253.8 426.2 L257.5 426.9 L256.9 432.5 L255.0 440.0 L254.4 445.0 M315.0 435.6 L318.1 435.0 L320.0 436.2 L317.5 438.5 L315.0 435.6"/></g>
<g clip-path="url(#o5)"><path d="M297.5 258.8 L298.8 270.0 L301.2 280.0 L298.8 290.0 L302.5 297.5 L308.8 302.5 L315.0 307.5 L311.2 315.0 L308.8 320.0 M347.5 320.0 L345.0 310.0 L342.5 300.0 L336.2 292.5 L326.2 290.5 L336.2 289.5 L341.2 280.0 L340.0 262.5 L341.2 247.5 L350.0 241.2 L356.2 239.5 L365.0 242.5 L375.0 247.5 L382.5 255.0 L393.8 256.2 L406.2 252.5 L415.0 242.5 L426.2 235.0 L433.8 227.5 L437.5 211.2 L447.5 203.8 L440.0 201.2 L430.0 206.2 L415.0 210.0 L400.0 207.5 L395.0 197.5 M365.0 275.0 L370.0 268.8 L376.2 263.8 L378.8 262.5 L377.5 270.0 L373.8 275.0 L370.0 281.2 L366.2 283.8 L365.0 275.0 M365.0 320.0 L363.8 305.0 L365.0 295.0 L372.5 293.8 L377.5 300.0 L378.8 310.0 L382.5 315.0 L395.0 318.8 L405.0 317.5 L412.5 311.2 L410.0 306.2 L405.0 300.0 L400.0 296.2 L407.5 293.8 L418.8 295.0 L430.0 298.8 L440.0 305.0 L450.0 312.5 L457.5 320.0 M490.0 220.0 L475.0 226.2 L460.0 235.0 L450.0 245.0 L442.5 257.5 L425.0 267.5 L415.0 271.2 L407.5 272.0 L400.0 271.2 L390.0 273.8 L384.5 282.5 L390.0 286.2 L400.0 287.5 L407.5 283.8 L420.0 282.5 L426.2 287.5 L435.0 283.8 L446.2 271.2 L455.0 277.5 L465.0 283.8 L475.0 295.0 L477.5 300.0 L470.0 307.5 L480.0 310.0 M490.0 236.2 L480.0 242.5 L475.0 252.5 L476.2 267.5 L482.5 277.5 L487.5 285.0 L490.0 287.5 M417.5 188.8 L423.8 185.0 L427.0 181.2 L428.0 180.0 M466.2 193.8 L470.0 192.5 L477.5 193.0 L478.8 195.0 L476.2 197.5 L468.8 198.0 L465.5 196.2 L466.2 193.8 M394.5 307.5 L396.5 305.8 L398.5 307.5 L396.5 309.2 L394.5 307.5"/></g>
<g clip-path="url(#o6)"><path d="M320.0 472.8 L322.3 468.3 L326.3 464.2 L332.4 467.1 L338.0 469.4 L346.6 467.8 L352.6 471.6 L356.5 477.7 L358.3 470.5 L360.5 461.5 L365.0 455.9 L375.1 453.0 L385.3 457.0 L394.3 455.9 L400.6 457.0 L407.8 460.4 L415.6 459.3 L420.1 452.5 L425.8 444.6 L431.4 439.0 L439.3 434.5 L446.0 430.0 M330.8 444.6 L336.2 436.8 L340.3 440.1 L344.3 445.8 L338.0 449.1 L330.8 444.6 M500.0 450.3 L495.5 454.8 L487.6 461.5 L484.3 471.6 L474.1 478.4 L474.1 488.5 L469.6 499.8 L464.0 508.8 L460.6 514.4 L466.3 518.9 L478.6 518.2 L486.5 520.5 L500.0 520.5 M342.1 547.0 L345.2 520.0 L346.6 509.9 L348.1 520.0 L349.7 547.0"/></g>
<g clip-path="url(#o7)"><path d="M470.0 290.0 L476.2 300.0 L470.0 307.5 L481.2 311.2 L488.8 312.5 L496.2 313.0 L507.5 313.8 L512.5 322.5 L510.0 332.5 L503.8 347.5 L501.2 357.5 L503.8 367.5 L493.8 381.2 L490.0 393.8 L475.0 403.8 L463.8 412.5 L456.2 420.0 L445.0 430.0 L437.5 436.2 L430.0 440.0 M410.0 293.8 L420.0 296.2 L432.5 300.0 L447.5 308.8 L462.5 320.0 L475.0 327.5 L488.8 333.0 L485.0 338.8 L478.8 346.2 L470.0 342.5 L467.5 330.0 L458.8 328.8 L446.2 329.2 L434.5 329.5 L417.0 328.8 L416.2 341.2 L423.8 337.5 L430.0 338.8 L433.8 347.5 L435.0 352.5 L431.2 358.8 L421.2 363.8 L412.5 371.2 L406.2 382.5 L402.5 395.0 L400.0 397.5 M400.0 320.0 L410.0 315.0 L412.5 307.5 L405.0 303.8 L402.5 297.5 M491.2 290.0 L493.8 296.2 L500.0 301.2 L517.5 301.2 L527.5 307.5 L528.8 316.2 L537.5 321.2 L538.8 333.8 L547.5 336.2 L552.5 347.5 L557.5 357.5 L560.0 367.5 L570.0 373.8 L585.0 378.8 L593.8 383.8 L600.0 388.8 M532.5 392.5 L536.2 385.0 L543.8 383.2 L550.0 385.0 L554.5 392.0 L550.0 396.2 L537.5 396.2 L532.5 392.5 M545.0 317.0 L548.0 314.2 L552.0 316.2 L549.0 319.5 L545.0 317.0 M568.0 290.0 L566.2 297.5 L567.5 303.8 L570.0 307.5 M575.0 290.0 L581.2 297.5 L580.5 303.8 L577.0 307.5 L570.0 307.5 M508.8 437.5 L517.5 433.8 L525.0 428.8 L536.2 426.2 L547.5 422.5 L556.2 418.8 L565.0 413.8 L580.0 413.8 L592.5 416.2 L600.0 417.5 M533.8 440.0 L536.2 435.0 L543.8 433.8 L548.8 437.5 L546.2 440.0 M565.0 436.2 L571.2 434.5 L577.5 436.2 L571.2 438.0 L565.0 436.2"/></g>
<g clip-path="url(#o8)"><path d="M475.6 83.1 L473.3 88.0 L468.8 92.5 L473.8 95.2 L485.0 96.6 L499.0 95.2 L500.3 103.8 L502.6 110.1 L499.0 112.8 L495.8 113.2 L488.4 115.0 L481.6 115.0 L476.0 116.1 L472.6 122.9 L468.1 124.5 L464.8 118.4 L462.5 109.4 L461.4 100.4 L458.0 97.5 L455.3 101.5 L453.5 109.4 L450.1 117.3 L447.9 125.1 M510.9 86.2 L516.5 89.1 L519.9 86.9 M555.2 153.3 L558.8 151.0 L562.6 153.3 L558.8 156.0 L555.2 153.3 M501.9 205.0 L500.8 202.8 L496.3 198.3 L497.4 191.5 L500.8 182.5 L504.1 174.6 L509.8 169.0 L517.6 165.6 L522.1 164.1 L528.9 164.5 L536.3 166.8 L545.8 169.0 L557.0 172.4 L566.0 172.4 L572.8 167.9 L580.6 163.4 L586.3 162.3 L584.0 155.5 L587.4 148.3 M523.3 187.0 L528.2 183.0 L531.8 188.1 L528.2 194.2 L523.3 187.0 M464.8 194.9 L468.1 192.6 L477.1 192.2 L478.7 194.9 L476.0 197.8 L467.0 198.3 L464.8 194.9 M620.0 178.0 L611.0 180.3 L602.0 184.8 L593.0 189.3 L587.4 194.9 L585.8 200.5 L587.4 205.0 M451.7 95.2 L450.8 103.8 L448.1 110.1 M449.9 95.2 L449.0 101.5 L447.4 106.0"/></g>
<g clip-path="url(#o9)"><path d="M470.0 230.0 L480.0 222.5 L492.5 217.5 L501.2 210.0 L505.0 205.0 L498.8 198.8 L496.2 195.0 L501.2 185.0 L505.0 175.0 L512.5 167.5 L521.2 163.8 L528.8 163.0 L535.5 167.0 L547.5 170.0 L557.5 173.0 L567.5 172.0 L577.5 165.0 L585.0 161.2 L584.5 153.8 L586.2 150.0 M555.0 153.5 L557.5 151.5 L561.2 152.0 L563.0 153.5 L560.0 155.5 L556.2 155.0 L555.0 153.5 M523.2 187.5 L527.5 183.2 L531.2 187.5 L528.8 194.5 L523.2 187.5 M645.0 163.8 L640.0 167.5 L630.0 172.5 L617.5 176.2 L606.2 180.0 L595.0 186.2 L586.2 195.0 L587.0 203.8 L589.5 212.5 L587.5 218.8 L577.5 223.0 L566.2 225.0 L558.8 231.2 L551.2 237.5 L549.5 246.2 L545.0 248.8 L537.5 250.0 L534.5 255.0 L537.5 260.0 L542.5 263.8 L542.5 267.5 L537.5 272.5 L525.5 269.5 L517.5 266.2 L511.2 257.5 L505.0 250.0 L503.8 242.5 L505.0 232.5 L498.8 228.0 L492.5 230.0 L483.8 237.5 L475.0 247.5 L475.5 260.0 L478.8 266.2 L475.5 272.5 L481.2 280.0 L487.5 290.0 L495.0 297.5 L497.5 300.0 M470.0 286.2 L473.8 292.5 L477.5 300.0 M670.0 163.8 L662.5 167.5 L655.0 175.0 L645.0 183.8 L632.5 190.0 L623.8 195.0 L621.2 200.0 L622.5 205.0 L630.0 210.0 L637.5 214.5 L642.5 217.5 L650.0 216.2 L657.5 220.5 L665.0 227.5 L670.0 236.2 M656.2 187.5 L658.8 186.2 L661.2 187.5 L658.8 188.8 L656.2 187.5 M566.2 300.0 L567.5 290.0 L568.8 280.0 L570.0 267.5 L573.8 257.5 L580.0 253.8 L587.5 256.2 L592.5 262.5 L591.2 270.0 L585.0 277.5 L577.5 285.0 L572.5 290.0 L581.2 297.5 L582.5 300.0 M646.2 257.5 L648.8 253.0 L656.2 253.8 L658.8 257.5 L655.0 265.0 L650.5 267.5 L647.0 262.5 L646.2 257.5 M520.0 282.5 L527.5 281.0 L534.5 282.5 L528.8 285.0 L520.0 282.5"/></g>
<g clip-path="url(#o10)"><path d="M480.0 475.3 L484.9 468.8 L486.5 460.6 L494.6 455.8 L497.9 449.3 L509.3 444.4 L510.9 436.3 L525.5 429.8 L538.5 423.9 L549.9 423.3 L558.0 420.0 M533.0 437.9 L538.5 433.7 L546.6 434.6 L548.9 436.9 L543.4 441.1 L537.9 443.4 L533.0 437.9 M501.8 461.6 L506.7 457.4 L510.9 459.0 L512.5 462.9 L506.0 463.9 L501.8 461.6 M564.5 435.6 L571.0 434.3 L577.5 435.6 L571.0 436.9 L564.5 435.6 M664.6 436.3 L673.4 433.7 L687.4 433.7 L699.4 436.3 L691.3 439.5 L675.0 440.2 L664.6 436.3 M589.5 461.6 L598.6 458.0 L610.0 457.4 L623.0 461.6 L611.6 465.5 L598.6 465.5 L589.5 461.6 M725.4 449.3 L710.8 443.4 L704.3 449.3 L696.1 453.2 L704.3 457.4 L712.4 460.6 L707.5 467.1 L701.0 472.0 L694.5 468.8 L689.6 468.1 L681.5 475.3 L668.5 480.1 L649.0 481.1 L639.3 480.1 L631.1 475.3 L619.8 474.6 L606.8 475.9 L595.4 478.5 L592.1 486.6 L584.0 488.3 L577.5 486.6 L571.0 496.4 L574.3 502.9 L579.1 507.8 L586.6 503.9 L592.1 503.9 L600.3 511.0 L610.0 515.9 L619.8 517.5 L624.6 522.4 L616.5 525.6 L603.5 528.9 L595.4 530.5 L590.5 537.0 L582.4 539.6 L574.3 546.8 M639.9 530.5 L639.9 537.7 L649.0 540.9 L657.1 538.6 L649.0 536.4 L641.9 535.4 L639.9 530.5 M685.4 546.1 L694.5 543.5 L707.5 542.9 L717.3 538.6 L725.4 536.4 M480.0 519.1 L493.0 518.2 L509.3 517.5 L519.0 515.9 L528.8 510.4 L536.9 514.3 L541.8 522.4 L535.3 532.1 L543.4 537.0 L548.9 540.9 L545.0 546.8"/></g>
<g clip-path="url(#o11)"><path d="M567.5 290.0 L566.2 300.0 L567.5 305.0 L571.2 308.0 M572.5 290.0 L581.2 297.5 L580.5 303.8 L577.5 308.0 L571.2 308.0 M560.0 367.5 L565.0 372.5 L575.0 377.5 L585.0 380.0 L595.0 383.8 L602.5 388.8 L607.0 393.8 L617.5 396.2 L625.0 400.0 L626.2 410.0 L620.0 414.5 L610.0 416.2 L597.5 417.5 L585.0 415.0 L572.5 413.0 L560.0 416.2 M611.2 367.5 L618.8 362.0 L629.5 362.5 L637.5 368.8 L648.8 376.2 L649.5 382.5 L646.2 390.0 L635.0 392.5 L620.0 388.8 L615.0 385.0 L614.5 375.0 L611.2 367.5 M725.0 366.2 L715.0 365.8 L708.0 367.5 L716.2 370.5 L725.0 371.5 M663.8 436.2 L673.8 433.8 L688.0 433.8 L700.0 436.2 L695.0 438.8 L667.5 438.8 L663.8 436.2 M565.0 436.2 L571.2 434.5 L577.5 436.2 L571.2 438.0 L565.0 436.2"/></g>
<g clip-path="url(#o12)"><path d="M646.2 258.8 L650.0 252.5 L656.2 253.8 L658.8 257.5 L655.5 264.5 L650.0 267.5 L647.0 262.5 L646.2 258.8 M656.2 187.5 L658.8 186.2 L661.2 187.5 L658.8 189.0 L656.2 187.5 M665.0 162.5 L662.5 170.0 L655.0 176.2 L647.5 182.5 L635.0 188.8 L623.8 195.0 L621.2 201.2 L625.0 206.2 L633.8 211.2 L640.0 216.2 L650.0 217.5 L657.5 221.2 L665.0 227.5 L670.0 237.5 L671.2 248.8 L672.5 256.2 L681.2 260.0 L692.5 261.2 L702.5 258.8 L711.2 261.2 L715.0 265.0 L708.8 272.5 L712.5 275.0 L720.0 276.2 L725.0 280.0 M643.8 162.5 L640.0 167.5 L630.0 173.8 L617.5 177.5 L605.0 183.8 L595.0 187.5 L590.0 191.2"/></g>
</g>
<ellipse cx="345" cy="325.3" rx="3.2" ry="2.6" fill="#fff" stroke="#000" stroke-width="1.2"/>
<path d="M483.0 53.0 L474.0 57.0 L460.0 61.0 L446.0 66.0 L441.0 71.6 L445.0 75.0 L447.0 82.0 L446.5 90.0 L442.0 97.0 L435.0 102.0 L426.0 104.0 L429.0 110.0 L428.0 117.0 L422.0 124.0 L414.0 131.0 L412.5 135.0 L406.0 140.0 L402.5 145.0 L401.0 150.0 L395.0 156.0 L384.0 165.0 L380.0 166.0 L371.0 176.0 L369.0 182.5 L363.0 189.0 L357.0 193.6 L350.0 197.0 L342.0 202.0 L330.0 208.0 L318.0 217.0 L305.0 228.0 L294.0 235.0 L282.0 242.0 L271.0 249.0 L260.0 260.0 L252.0 268.0 L258.0 276.0 L263.0 271.0 L268.0 274.0 L276.0 272.0 L277.0 284.0 L278.4 300.0 L276.0 307.5 L271.0 317.5 L257.5 318.8 L256.0 322.5 L260.0 327.5 L267.5 331.0 L262.5 337.5 L262.0 360.0 L258.5 375.0 L255.0 387.0 L250.0 393.0 L242.5 394.5 L220.0 397.5 L198.0 398.5 L187.5 400.2 L180.0 402.5 L174.0 405.8 L169.5 406.2 M335.5 103.0 L340.0 96.0 L350.0 93.0 L356.0 100.0 L361.0 104.0 L367.0 101.0 L375.0 112.5 L384.0 119.0 L389.0 127.5 L390.0 132.5 L399.0 139.5 L396.0 150.0 L389.5 153.0 L384.0 142.5 L376.0 130.0 L369.0 125.0 L360.0 124.0 L351.0 120.0 L342.5 112.5 L337.5 106.0 L335.5 103.0 M342.0 202.0 L339.0 205.0 L335.0 193.0 L334.0 202.0 L326.0 204.0 L319.0 198.0 L312.0 201.0 L311.0 212.0 L305.0 207.0 L305.0 218.0 L299.0 214.0 L290.0 217.0 L288.0 226.0 L294.0 231.0 L290.0 237.0 L285.0 240.0 M271.0 248.0 L274.4 243.0 L272.0 233.0 L268.0 229.0 L266.0 222.0 L266.0 207.0 L258.0 204.0 L256.0 220.0 L252.4 234.0 L252.4 250.0 L254.0 255.6 L263.0 255.0 L269.0 250.0 M153.8 407.3 L159.0 405.8 L166.5 403.2 L174.8 401.8 L177.8 396.5 L177.8 393.5 L169.5 392.0 L163.5 389.0 L160.5 385.2 L160.5 377.8 L165.0 371.0 L171.0 367.7 L164.2 361.7 L156.0 360.2 L147.8 359.8 L142.5 364.2 L135.0 367.2 L132.5 372.5 L132.0 378.5 L135.0 384.5 L141.8 389.8 L143.2 395.0 L144.8 398.8 L141.8 406.2 L133.5 407.8 L124.8 411.2 L123.3 417.5 L120.0 428.0 L125.2 428.8 L130.5 425.8 L135.0 420.5 L138.8 415.2 L146.2 416.8 L151.5 422.8 L145.5 428.8 L147.0 422.0 L142.5 420.5 L138.0 422.0 L130.5 429.5 L124.5 434.8 L118.5 437.0 L114.8 441.7 L111.2 462.2 L116.6 455.8 L130.7 449.2 L135.0 443.8 L141.5 435.2 M149.2 408.2 L154.5 407.0 L166.5 403.2 L174.0 401.8 L171.0 406.2 L165.0 409.2 L162.0 412.2 L153.0 416.8 L149.2 408.2 M141.5 435.2 L135.0 443.8 L132.8 452.5 L124.2 460.0 L116.6 466.6 L109.0 473.0 L104.7 479.6 L102.5 486.0 L95.0 489.0 L92.8 498.0 L97.0 508.8 L98.2 517.5 L91.7 522.3 L95.0 528.3 L97.0 541.3 L98.2 548.0 M725.5 152.5 L705.0 148.8 L696.2 145.0 L690.0 137.5 L685.0 132.0 L668.8 129.5 L666.2 125.0 L657.5 119.5 L647.5 117.5 L640.0 113.8 L632.5 112.5 L623.8 115.0 L615.0 113.8 L609.5 108.0 L615.0 103.8 L625.0 102.0 L640.0 102.5 L647.5 96.2 L657.5 95.0 L647.5 82.0 L632.5 82.0 L620.0 75.0 L607.5 73.0 L597.5 75.0 L593.8 81.2 L568.8 58.8 L580.0 65.0 L590.0 63.8 L598.8 61.8 L610.0 63.8 L622.5 67.5 L635.0 69.5 L647.5 72.0 L660.0 72.5 L680.0 73.0 L690.0 76.2 L702.5 79.5 L710.0 77.5 L715.0 68.8 L722.5 61.2 L726.0 56.2 M668.8 53.8 L670.0 60.0 L675.0 60.5 L682.5 54.5 L690.0 53.8 L697.5 60.5 L710.0 61.2 L720.0 58.8 L726.0 55.0 M568.3 98.6 L565.2 103.3 L569.8 111.9 L575.3 118.1 L583.1 121.2 L595.6 125.2 L611.2 128.3 L626.9 130.9 L642.5 133.8 L655.0 135.6 L669.8 137.2 M568.3 98.6 L569.8 104.8 L574.5 112.7 L580.0 117.8 L591.0 120.5 L606.6 124.7 L620.6 127.2 L633.1 129.4 L648.8 133.0 L669.8 137.2" fill="none" stroke="#000" stroke-width="2.35" stroke-linejoin="round" stroke-linecap="round"/>
<path d="" fill="none" stroke="#000" stroke-width="4.5" stroke-linejoin="round" stroke-linecap="round"/>
<g opacity="0.999"><rect x="481.2" y="109.3" width="15.0" height="11.3" fill="#fff"/><text x="482.8" y="119.4" font-size="10.8" textLength="11.8" lengthAdjust="spacingAndGlyphs">13</text>
<rect x="520.9" y="155.8" width="15.0" height="11.3" fill="#fff"/><text x="522.5" y="165.9" font-size="10.8" textLength="11.8" lengthAdjust="spacingAndGlyphs">13</text>
<rect x="382.1" y="251.3" width="24.5" height="11.3" fill="#fff"/><text x="383.8" y="261.4" font-size="10.8" textLength="21.3" lengthAdjust="spacingAndGlyphs">13.5</text>
<rect x="400.0" y="265.9" width="15.0" height="11.3" fill="#fff"/><text x="401.6" y="276.0" font-size="10.8" textLength="11.8" lengthAdjust="spacingAndGlyphs">13</text>
<rect x="395.8" y="286.9" width="24.5" height="11.3" fill="#fff"/><text x="397.4" y="297.0" font-size="10.8" textLength="21.3" lengthAdjust="spacingAndGlyphs">13.5</text>
<rect x="642.5" y="209.4" width="15.0" height="11.3" fill="#fff"/><text x="644.1" y="219.5" font-size="10.8" textLength="11.8" lengthAdjust="spacingAndGlyphs">12</text>
<rect x="525.2" y="266.9" width="24.5" height="11.3" fill="#fff"/><text x="526.9" y="277.0" font-size="10.8" textLength="21.3" lengthAdjust="spacingAndGlyphs">12.5</text>
<rect x="481.2" y="306.2" width="15.0" height="11.3" fill="#fff"/><text x="482.8" y="316.3" font-size="10.8" textLength="11.8" lengthAdjust="spacingAndGlyphs">13</text>
<rect x="562.5" y="303.9" width="15.0" height="11.3" fill="#fff"/><text x="564.1" y="314.0" font-size="10.8" textLength="11.8" lengthAdjust="spacingAndGlyphs">12</text>
<rect x="434.4" y="323.2" width="24.5" height="11.3" fill="#fff"/><text x="436.0" y="333.4" font-size="10.8" textLength="21.3" lengthAdjust="spacingAndGlyphs">13.5</text>
<rect x="288.1" y="340.9" width="15.0" height="11.3" fill="#fff"/><text x="289.7" y="351.0" font-size="10.8" textLength="11.8" lengthAdjust="spacingAndGlyphs">14</text>
<rect x="352.1" y="340.9" width="24.5" height="11.3" fill="#fff"/><text x="353.8" y="351.0" font-size="10.8" textLength="21.3" lengthAdjust="spacingAndGlyphs">13.5</text>
<rect x="309.1" y="380.9" width="15.0" height="11.3" fill="#fff"/><text x="310.7" y="391.0" font-size="10.8" textLength="11.8" lengthAdjust="spacingAndGlyphs">14</text>
<rect x="353.4" y="371.9" width="24.5" height="11.3" fill="#fff"/><text x="355.0" y="382.0" font-size="10.8" textLength="21.3" lengthAdjust="spacingAndGlyphs">13.5</text>
<rect x="606.1" y="388.9" width="24.5" height="11.3" fill="#fff"/><text x="607.8" y="399.0" font-size="10.8" textLength="21.3" lengthAdjust="spacingAndGlyphs">12.5</text>
<rect x="645.8" y="380.5" width="24.5" height="11.3" fill="#fff"/><text x="647.4" y="390.6" font-size="10.8" textLength="21.3" lengthAdjust="spacingAndGlyphs">12.5</text>
<rect x="322.8" y="416.4" width="24.5" height="11.3" fill="#fff"/><text x="324.4" y="426.5" font-size="10.8" textLength="21.3" lengthAdjust="spacingAndGlyphs">13.5</text>
<rect x="201.5" y="426.4" width="24.5" height="11.3" fill="#fff"/><text x="203.1" y="436.5" font-size="10.8" textLength="21.3" lengthAdjust="spacingAndGlyphs">13.5</text>
<rect x="672.9" y="432.4" width="15.0" height="11.3" fill="#fff"/><text x="674.5" y="442.5" font-size="10.8" textLength="11.8" lengthAdjust="spacingAndGlyphs">12</text>
<rect x="400.5" y="455.2" width="15.0" height="11.3" fill="#fff"/><text x="402.1" y="465.3" font-size="10.8" textLength="11.8" lengthAdjust="spacingAndGlyphs">13</text>
<rect x="181.5" y="464.8" width="24.5" height="11.3" fill="#fff"/><text x="183.1" y="474.9" font-size="10.8" textLength="21.3" lengthAdjust="spacingAndGlyphs">13.5</text>
<rect x="693.5" y="466.7" width="15.0" height="11.3" fill="#fff"/><text x="695.1" y="476.8" font-size="10.8" textLength="11.8" lengthAdjust="spacingAndGlyphs">12</text>
<rect x="252.1" y="489.9" width="24.5" height="11.3" fill="#fff"/><text x="253.7" y="500.0" font-size="10.8" textLength="21.3" lengthAdjust="spacingAndGlyphs">13.5</text>
<rect x="288.5" y="487.4" width="15.0" height="11.3" fill="#fff"/><text x="290.1" y="497.5" font-size="10.8" textLength="11.8" lengthAdjust="spacingAndGlyphs">13</text>
<rect x="572.1" y="502.9" width="15.0" height="11.3" fill="#fff"/><text x="573.7" y="513.0" font-size="10.8" textLength="11.8" lengthAdjust="spacingAndGlyphs">12</text>
<rect x="167.5" y="510.9" width="15.0" height="11.3" fill="#fff"/><text x="169.1" y="521.0" font-size="10.8" textLength="11.8" lengthAdjust="spacingAndGlyphs">14</text>
<rect x="454.4" y="513.2" width="24.5" height="11.3" fill="#fff"/><text x="456.0" y="523.4" font-size="10.8" textLength="21.3" lengthAdjust="spacingAndGlyphs">12.5</text></g>
<g stroke="#888" stroke-width="1" stroke-dasharray="1.7 5" shape-rendering="crispEdges">
<line x1="153.5" y1="55" x2="153.5" y2="547"/><line x1="235.5" y1="55" x2="235.5" y2="547"/><line x1="318.5" y1="55" x2="318.5" y2="547"/><line x1="400.5" y1="55" x2="400.5" y2="547"/><line x1="482.5" y1="55" x2="482.5" y2="547"/><line x1="565.5" y1="55" x2="565.5" y2="547"/><line x1="647.5" y1="55" x2="647.5" y2="547"/><line x1="76" y1="72.5" x2="725" y2="72.5"/><line x1="76" y1="168.5" x2="725" y2="168.5"/><line x1="76" y1="264.5" x2="725" y2="264.5"/><line x1="76" y1="359.5" x2="725" y2="359.5"/><line x1="76" y1="455.5" x2="725" y2="455.5"/>
</g>
</g>
<g opacity="0.999"><rect x="73" y="53" width="653" height="495" fill="none" stroke="#000" stroke-width="2" shape-rendering="crispEdges"/>
<line x1="153.5" y1="549" x2="153.5" y2="552" stroke="#000" stroke-width="1" shape-rendering="crispEdges"/>
<line x1="235.5" y1="549" x2="235.5" y2="552" stroke="#000" stroke-width="1" shape-rendering="crispEdges"/>
<line x1="318.5" y1="549" x2="318.5" y2="552" stroke="#000" stroke-width="1" shape-rendering="crispEdges"/>
<line x1="400.5" y1="549" x2="400.5" y2="552" stroke="#000" stroke-width="1" shape-rendering="crispEdges"/>
<line x1="482.5" y1="549" x2="482.5" y2="552" stroke="#000" stroke-width="1" shape-rendering="crispEdges"/>
<line x1="565.5" y1="549" x2="565.5" y2="552" stroke="#000" stroke-width="1" shape-rendering="crispEdges"/>
<line x1="647.5" y1="549" x2="647.5" y2="552" stroke="#000" stroke-width="1" shape-rendering="crispEdges"/>
<line x1="69" y1="72.5" x2="72" y2="72.5" stroke="#000" stroke-width="1" shape-rendering="crispEdges"/>
<line x1="69" y1="168.5" x2="72" y2="168.5" stroke="#000" stroke-width="1" shape-rendering="crispEdges"/>
<line x1="69" y1="264.5" x2="72" y2="264.5" stroke="#000" stroke-width="1" shape-rendering="crispEdges"/>
<line x1="69" y1="359.5" x2="72" y2="359.5" stroke="#000" stroke-width="1" shape-rendering="crispEdges"/>
<line x1="69" y1="455.5" x2="72" y2="455.5" stroke="#000" stroke-width="1" shape-rendering="crispEdges"/>
<text x="153.5" y="563" font-size="12" text-anchor="middle">29</text>
<text x="235.8" y="563" font-size="12" text-anchor="middle">29.5</text>
<text x="318.2" y="563" font-size="12" text-anchor="middle">30</text>
<text x="400.5" y="563" font-size="12" text-anchor="middle">30.5</text>
<text x="482.8" y="563" font-size="12" text-anchor="middle">31</text>
<text x="565.2" y="563" font-size="12" text-anchor="middle">31.5</text>
<text x="647.5" y="563" font-size="12" text-anchor="middle">32</text>
<text x="66" y="77.3" font-size="12" text-anchor="end">46.5</text>
<text x="66" y="173.0" font-size="12" text-anchor="end">46</text>
<text x="66" y="268.7" font-size="12" text-anchor="end">45.5</text>
<text x="66" y="364.3" font-size="12" text-anchor="end">45</text>
<text x="66" y="460.0" font-size="12" text-anchor="end">44.5</text>
<text x="55.5" y="41.3" font-size="24" textLength="138.5" lengthAdjust="spacingAndGlyphs" stroke="#fff" stroke-width="0.2">Temperature</text>
<text x="211" y="41.3" font-size="24" textLength="39" lengthAdjust="spacingAndGlyphs" stroke="#fff" stroke-width="0.2">(C).</text>
<text x="266.5" y="41.3" font-size="24" textLength="47.5" lengthAdjust="spacingAndGlyphs" stroke="#fff" stroke-width="0.2">Date</text>
<text x="330" y="41.3" font-size="24" textLength="137.5" lengthAdjust="spacingAndGlyphs" stroke="#fff" stroke-width="0.2">2009.05.07.</text>
<text x="482.5" y="41.3" font-size="24" textLength="48.5" lengthAdjust="spacingAndGlyphs" stroke="#fff" stroke-width="0.2">Time</text>
<text x="547.5" y="41.3" font-size="24" textLength="140.0" lengthAdjust="spacingAndGlyphs" stroke="#fff" stroke-width="0.2">00(h):00(m)</text>
<text x="704" y="41.3" font-size="24" textLength="41" lengthAdjust="spacingAndGlyphs" stroke="#fff" stroke-width="0.2">GMT</text>
<text x="323.75" y="588.6" font-size="19.5" textLength="85.5" lengthAdjust="spacingAndGlyphs" stroke="#fff" stroke-width="0.15">Longitude</text>
<text x="422.5" y="588.6" font-size="19.5" textLength="52.5" lengthAdjust="spacingAndGlyphs" stroke="#fff" stroke-width="0.15">(East)</text>
<g transform="translate(31.5,372) rotate(-90)">
<text x="0" y="0" font-size="19.5" textLength="69" lengthAdjust="spacingAndGlyphs" stroke="#fff" stroke-width="0.15">Latitude</text>
<text x="81.3" y="0" font-size="19.5" textLength="61.39999999999999" lengthAdjust="spacingAndGlyphs" stroke="#fff" stroke-width="0.15">(North)</text>
</g>
<text x="110" y="107" font-size="19.5" textLength="12.5" lengthAdjust="spacingAndGlyphs" stroke="#fff" stroke-width="0.3">Z</text>
<text x="138" y="107" font-size="19.5" textLength="15" lengthAdjust="spacingAndGlyphs" stroke="#fff" stroke-width="0.3">=</text>
<text x="170" y="107" font-size="19.5" textLength="34" lengthAdjust="spacingAndGlyphs" stroke="#fff" stroke-width="0.3">2.5</text>
<text x="220" y="107" font-size="19.5" textLength="18" lengthAdjust="spacingAndGlyphs" stroke="#fff" stroke-width="0.3">m</text>
<text x="760" y="72" font-size="14.5" textLength="30" lengthAdjust="spacing">14.3</text>
<text x="760" y="185" font-size="14.5" textLength="30" lengthAdjust="spacing">13.5</text>
<text x="760" y="303" font-size="14.5" textLength="30" lengthAdjust="spacing">12.6</text>
<text x="760" y="421" font-size="14.5" textLength="30" lengthAdjust="spacing">11.8</text>
<text x="760" y="540" font-size="14.5" textLength="30" lengthAdjust="spacing">11.0</text></g>
<g shape-rendering="crispEdges"><rect x="734" y="532.99" width="16" height="7.51" fill="#000087"/>
<rect x="734" y="525.48" width="16" height="8.51" fill="#000097"/>
<rect x="734" y="517.98" width="16" height="8.51" fill="#0000a7"/>
<rect x="734" y="510.47" width="16" height="8.51" fill="#0000b7"/>
<rect x="734" y="502.96" width="16" height="8.51" fill="#0000c7"/>
<rect x="734" y="495.45" width="16" height="8.51" fill="#0000d7"/>
<rect x="734" y="487.95" width="16" height="8.51" fill="#0000e7"/>
<rect x="734" y="480.44" width="16" height="8.51" fill="#0000f7"/>
<rect x="734" y="472.93" width="16" height="8.51" fill="#0008ff"/>
<rect x="734" y="465.42" width="16" height="8.51" fill="#0018ff"/>
<rect x="734" y="457.91" width="16" height="8.51" fill="#0028ff"/>
<rect x="734" y="450.41" width="16" height="8.51" fill="#0038ff"/>
<rect x="734" y="442.90" width="16" height="8.51" fill="#0048ff"/>
<rect x="734" y="435.39" width="16" height="8.51" fill="#0058ff"/>
<rect x="734" y="427.88" width="16" height="8.51" fill="#0068ff"/>
<rect x="734" y="420.38" width="16" height="8.51" fill="#0078ff"/>
<rect x="734" y="412.87" width="16" height="8.51" fill="#0087ff"/>
<rect x="734" y="405.36" width="16" height="8.51" fill="#0097ff"/>
<rect x="734" y="397.85" width="16" height="8.51" fill="#00a7ff"/>
<rect x="734" y="390.34" width="16" height="8.51" fill="#00b7ff"/>
<rect x="734" y="382.84" width="16" height="8.51" fill="#00c7ff"/>
<rect x="734" y="375.33" width="16" height="8.51" fill="#00d7ff"/>
<rect x="734" y="367.82" width="16" height="8.51" fill="#00e7ff"/>
<rect x="734" y="360.31" width="16" height="8.51" fill="#00f7ff"/>
<rect x="734" y="352.80" width="16" height="8.51" fill="#08fff7"/>
<rect x="734" y="345.30" width="16" height="8.51" fill="#18ffe7"/>
<rect x="734" y="337.79" width="16" height="8.51" fill="#28ffd7"/>
<rect x="734" y="330.28" width="16" height="8.51" fill="#38ffc7"/>
<rect x="734" y="322.77" width="16" height="8.51" fill="#48ffb7"/>
<rect x="734" y="315.27" width="16" height="8.51" fill="#58ffa7"/>
<rect x="734" y="307.76" width="16" height="8.51" fill="#68ff97"/>
<rect x="734" y="300.25" width="16" height="8.51" fill="#78ff87"/>
<rect x="734" y="292.74" width="16" height="8.51" fill="#87ff78"/>
<rect x="734" y="285.23" width="16" height="8.51" fill="#97ff68"/>
<rect x="734" y="277.73" width="16" height="8.51" fill="#a7ff58"/>
<rect x="734" y="270.22" width="16" height="8.51" fill="#b7ff48"/>
<rect x="734" y="262.71" width="16" height="8.51" fill="#c7ff38"/>
<rect x="734" y="255.20" width="16" height="8.51" fill="#d7ff28"/>
<rect x="734" y="247.70" width="16" height="8.51" fill="#e7ff18"/>
<rect x="734" y="240.19" width="16" height="8.51" fill="#f7ff08"/>
<rect x="734" y="232.68" width="16" height="8.51" fill="#fff700"/>
<rect x="734" y="225.17" width="16" height="8.51" fill="#ffe700"/>
<rect x="734" y="217.66" width="16" height="8.51" fill="#ffd700"/>
<rect x="734" y="210.16" width="16" height="8.51" fill="#ffc700"/>
<rect x="734" y="202.65" width="16" height="8.51" fill="#ffb700"/>
<rect x="734" y="195.14" width="16" height="8.51" fill="#ffa700"/>
<rect x="734" y="187.63" width="16" height="8.51" fill="#ff9700"/>
<rect x="734" y="180.12" width="16" height="8.51" fill="#ff8700"/>
<rect x="734" y="172.62" width="16" height="8.51" fill="#ff7800"/>
<rect x="734" y="165.11" width="16" height="8.51" fill="#ff6800"/>
<rect x="734" y="157.60" width="16" height="8.51" fill="#ff5800"/>
<rect x="734" y="150.09" width="16" height="8.51" fill="#ff4800"/>
<rect x="734" y="142.59" width="16" height="8.51" fill="#ff3800"/>
<rect x="734" y="135.08" width="16" height="8.51" fill="#ff2800"/>
<rect x="734" y="127.57" width="16" height="8.51" fill="#ff1800"/>
<rect x="734" y="120.06" width="16" height="8.51" fill="#ff0800"/>
<rect x="734" y="112.55" width="16" height="8.51" fill="#f70000"/>
<rect x="734" y="105.05" width="16" height="8.51" fill="#e70000"/>
<rect x="734" y="97.54" width="16" height="8.51" fill="#d70000"/>
<rect x="734" y="90.03" width="16" height="8.51" fill="#c70000"/>
<rect x="734" y="82.52" width="16" height="8.51" fill="#b70000"/>
<rect x="734" y="75.02" width="16" height="8.51" fill="#a70000"/>
<rect x="734" y="67.51" width="16" height="8.51" fill="#970000"/>
<rect x="734" y="60.00" width="16" height="8.51" fill="#870000"/></g>
</svg>
</body></html>
